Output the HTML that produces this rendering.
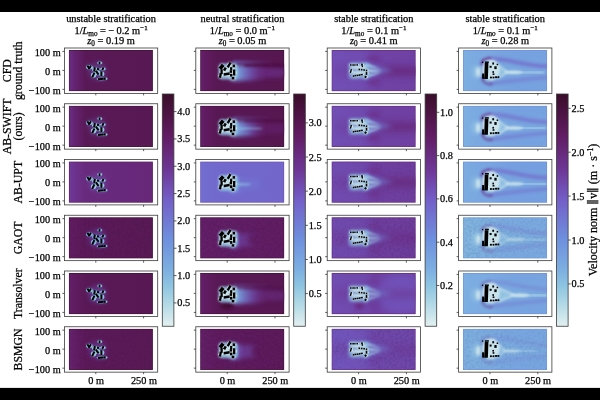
<!DOCTYPE html>
<html><head><meta charset="utf-8"><title>Velocity norm comparison</title>
<style>
html,body{margin:0;padding:0;background:#fff;width:600px;height:400px;overflow:hidden}
svg{display:block}
text{font-family:"Liberation Serif","DejaVu Serif",serif;fill:#000;stroke:#000;stroke-width:0.25px}
.t{font-size:10.4px}
.k{font-size:10.3px}
.r{font-size:11.8px}
</style></head><body>
<svg width="600" height="400" viewBox="0 0 600 400"><defs><linearGradient id="cbg" x1="0" y1="0" x2="0" y2="1"><stop offset="0.000" stop-color="#3a0e2a"/><stop offset="0.091" stop-color="#4e1446"/><stop offset="0.177" stop-color="#611c62"/><stop offset="0.327" stop-color="#6e3796"/><stop offset="0.456" stop-color="#735fc8"/><stop offset="0.629" stop-color="#6e91de"/><stop offset="0.758" stop-color="#7dafe1"/><stop offset="0.822" stop-color="#8cc3e1"/><stop offset="0.909" stop-color="#b4dae6"/><stop offset="1.000" stop-color="#e2f0f0"/></linearGradient><clipPath id="c00"><rect x="0" y="0" width="84.10" height="41.20"/></clipPath><linearGradient id="g1" x1="0" y1="0" x2="1" y2="0"><stop offset="0.000" stop-color="#6a2f86"/><stop offset="0.070" stop-color="#642370"/><stop offset="0.200" stop-color="#591956"/><stop offset="1.000" stop-color="#571853"/></linearGradient><filter id="b2_5" x="-200%" y="-200%" width="500%" height="500%"><feGaussianBlur stdDeviation="2.5"/></filter><filter id="b1_0" x="-200%" y="-200%" width="500%" height="500%"><feGaussianBlur stdDeviation="1.0"/></filter><filter id="b0_7" x="-200%" y="-200%" width="500%" height="500%"><feGaussianBlur stdDeviation="0.7"/></filter><clipPath id="c01"><rect x="0" y="0" width="84.10" height="41.20"/></clipPath><linearGradient id="g2" x1="0" y1="0" x2="1" y2="0"><stop offset="0.000" stop-color="#6a2f86"/><stop offset="0.070" stop-color="#642370"/><stop offset="0.200" stop-color="#591956"/><stop offset="1.000" stop-color="#571853"/></linearGradient><clipPath id="c02"><rect x="0" y="0" width="84.10" height="41.20"/></clipPath><linearGradient id="g3" x1="0" y1="0" x2="1" y2="0"><stop offset="0.000" stop-color="#6f3b9b"/><stop offset="0.070" stop-color="#6c328d"/><stop offset="0.200" stop-color="#682a7d"/><stop offset="1.000" stop-color="#67287a"/></linearGradient><clipPath id="c03"><rect x="0" y="0" width="84.10" height="41.20"/></clipPath><linearGradient id="g4" x1="0" y1="0" x2="1" y2="0"><stop offset="0.000" stop-color="#611d63"/><stop offset="0.070" stop-color="#5f1b5f"/><stop offset="0.200" stop-color="#5b1959"/><stop offset="1.000" stop-color="#591956"/></linearGradient><filter id="n4" x="0" y="0" width="100%" height="100%"><feTurbulence type="fractalNoise" baseFrequency="0.45" numOctaves="1" seed="4"/><feColorMatrix type="matrix" values="0 0 0 0 0  0 0 0 0 0  0 0 0 0 0  0 0 0 0.192 -0.072"/><feComposite in2="SourceGraphic" operator="in"/></filter><clipPath id="c04"><rect x="0" y="0" width="84.10" height="41.20"/></clipPath><linearGradient id="g5" x1="0" y1="0" x2="1" y2="0"><stop offset="0.000" stop-color="#63206a"/><stop offset="0.070" stop-color="#601c61"/><stop offset="0.200" stop-color="#591956"/><stop offset="1.000" stop-color="#571853"/></linearGradient><clipPath id="c05"><rect x="0" y="0" width="84.10" height="41.20"/></clipPath><linearGradient id="g6" x1="0" y1="0" x2="1" y2="0"><stop offset="0.000" stop-color="#652471"/><stop offset="0.070" stop-color="#621e66"/><stop offset="0.200" stop-color="#5b1959"/><stop offset="1.000" stop-color="#591956"/></linearGradient><filter id="n6" x="0" y="0" width="100%" height="100%"><feTurbulence type="fractalNoise" baseFrequency="0.45" numOctaves="1" seed="6"/><feColorMatrix type="matrix" values="0 0 0 0 0  0 0 0 0 0  0 0 0 0 0  0 0 0 0.144 -0.054"/><feComposite in2="SourceGraphic" operator="in"/></filter><clipPath id="c10"><rect x="0" y="0" width="84.10" height="41.20"/></clipPath><linearGradient id="g7" x1="0" y1="0" x2="1" y2="0"><stop offset="0.000" stop-color="#63206a"/><stop offset="0.070" stop-color="#601b60"/><stop offset="0.200" stop-color="#581854"/><stop offset="1.000" stop-color="#561751"/></linearGradient><filter id="b2_0" x="-200%" y="-200%" width="500%" height="500%"><feGaussianBlur stdDeviation="2.0"/></filter><linearGradient id="g8" x1="0" y1="0" x2="1" y2="0"><stop offset="0.000" stop-color="#99cae3" stop-opacity="1"/><stop offset="0.250" stop-color="#76a2e0" stop-opacity="0.9"/><stop offset="0.600" stop-color="#726cce" stop-opacity="0.5"/><stop offset="1.000" stop-color="#682b7f" stop-opacity="0"/></linearGradient><linearGradient id="g9" x1="0" y1="0" x2="1" y2="0"><stop offset="0.000" stop-color="#707ad4" stop-opacity="0.7"/><stop offset="1.000" stop-color="#631f68" stop-opacity="0"/></linearGradient><linearGradient id="g10" x1="0" y1="0" x2="1" y2="0"><stop offset="0.000" stop-color="#421035" stop-opacity="0.7"/><stop offset="1.000" stop-color="#46123b" stop-opacity="0.595"/></linearGradient><filter id="b0_8" x="-200%" y="-200%" width="500%" height="500%"><feGaussianBlur stdDeviation="0.8"/></filter><filter id="b1_2" x="-200%" y="-200%" width="500%" height="500%"><feGaussianBlur stdDeviation="1.2"/></filter><filter id="b1_5" x="-200%" y="-200%" width="500%" height="500%"><feGaussianBlur stdDeviation="1.5"/></filter><filter id="b0_6" x="-200%" y="-200%" width="500%" height="500%"><feGaussianBlur stdDeviation="0.6"/></filter><clipPath id="c11"><rect x="0" y="0" width="84.10" height="41.20"/></clipPath><linearGradient id="g11" x1="0" y1="0" x2="1" y2="0"><stop offset="0.000" stop-color="#63206a"/><stop offset="0.070" stop-color="#601b60"/><stop offset="0.200" stop-color="#581854"/><stop offset="1.000" stop-color="#561751"/></linearGradient><linearGradient id="g12" x1="0" y1="0" x2="1" y2="0"><stop offset="0.000" stop-color="#99cae3" stop-opacity="1"/><stop offset="0.250" stop-color="#76a2e0" stop-opacity="0.9"/><stop offset="0.600" stop-color="#726cce" stop-opacity="0.5"/><stop offset="1.000" stop-color="#652471" stop-opacity="0"/></linearGradient><linearGradient id="g13" x1="0" y1="0" x2="1" y2="0"><stop offset="0.000" stop-color="#707ad4" stop-opacity="0.4"/><stop offset="1.000" stop-color="#631f68" stop-opacity="0"/></linearGradient><linearGradient id="g14" x1="0" y1="0" x2="1" y2="0"><stop offset="0.000" stop-color="#421035" stop-opacity="0.4"/><stop offset="1.000" stop-color="#46123b" stop-opacity="0.34"/></linearGradient><filter id="b1_1" x="-200%" y="-200%" width="500%" height="500%"><feGaussianBlur stdDeviation="1.1"/></filter><clipPath id="c12"><rect x="0" y="0" width="84.10" height="41.20"/></clipPath><linearGradient id="g15" x1="0" y1="0" x2="1" y2="0"><stop offset="0.000" stop-color="#716fcf"/><stop offset="0.070" stop-color="#726cce"/><stop offset="0.200" stop-color="#7269cc"/><stop offset="1.000" stop-color="#7266cb"/></linearGradient><linearGradient id="g16" x1="0" y1="0" x2="1" y2="0"><stop offset="0.000" stop-color="#99cae3" stop-opacity="1"/><stop offset="0.250" stop-color="#76a2e0" stop-opacity="0.9"/><stop offset="0.600" stop-color="#726cce" stop-opacity="0.5"/><stop offset="1.000" stop-color="#707ad4" stop-opacity="0"/></linearGradient><clipPath id="c13"><rect x="0" y="0" width="84.10" height="41.20"/></clipPath><linearGradient id="g17" x1="0" y1="0" x2="1" y2="0"><stop offset="0.000" stop-color="#63206a"/><stop offset="0.070" stop-color="#631f68"/><stop offset="0.200" stop-color="#621e67"/><stop offset="1.000" stop-color="#611d63"/></linearGradient><filter id="n14" x="0" y="0" width="100%" height="100%"><feTurbulence type="fractalNoise" baseFrequency="0.45" numOctaves="1" seed="14"/><feColorMatrix type="matrix" values="0 0 0 0 0  0 0 0 0 0  0 0 0 0 0  0 0 0 0.24 -0.09"/><feComposite in2="SourceGraphic" operator="in"/></filter><linearGradient id="g18" x1="0" y1="0" x2="1" y2="0"><stop offset="0.000" stop-color="#99cae3" stop-opacity="1"/><stop offset="0.250" stop-color="#76a2e0" stop-opacity="0.9"/><stop offset="0.600" stop-color="#726cce" stop-opacity="0.5"/><stop offset="1.000" stop-color="#714eb2" stop-opacity="0"/></linearGradient><clipPath id="c14"><rect x="0" y="0" width="84.10" height="41.20"/></clipPath><linearGradient id="g19" x1="0" y1="0" x2="1" y2="0"><stop offset="0.000" stop-color="#63206a"/><stop offset="0.070" stop-color="#601c61"/><stop offset="0.200" stop-color="#591956"/><stop offset="1.000" stop-color="#571853"/></linearGradient><linearGradient id="g20" x1="0" y1="0" x2="1" y2="0"><stop offset="0.000" stop-color="#99cae3" stop-opacity="1"/><stop offset="0.250" stop-color="#76a2e0" stop-opacity="0.9"/><stop offset="0.600" stop-color="#726cce" stop-opacity="0.5"/><stop offset="1.000" stop-color="#67297b" stop-opacity="0"/></linearGradient><linearGradient id="g21" x1="0" y1="0" x2="1" y2="0"><stop offset="0.000" stop-color="#707ad4" stop-opacity="0.3"/><stop offset="1.000" stop-color="#63206a" stop-opacity="0"/></linearGradient><linearGradient id="g22" x1="0" y1="0" x2="1" y2="0"><stop offset="0.000" stop-color="#431136" stop-opacity="0.2"/><stop offset="1.000" stop-color="#47123c" stop-opacity="0.17"/></linearGradient><clipPath id="c15"><rect x="0" y="0" width="84.10" height="41.20"/></clipPath><linearGradient id="g23" x1="0" y1="0" x2="1" y2="0"><stop offset="0.000" stop-color="#63206a"/><stop offset="0.070" stop-color="#621e65"/><stop offset="0.200" stop-color="#5f1b60"/><stop offset="1.000" stop-color="#5d1a5c"/></linearGradient><filter id="n16" x="0" y="0" width="100%" height="100%"><feTurbulence type="fractalNoise" baseFrequency="0.45" numOctaves="1" seed="16"/><feColorMatrix type="matrix" values="0 0 0 0 0  0 0 0 0 0  0 0 0 0 0  0 0 0 0.24 -0.09"/><feComposite in2="SourceGraphic" operator="in"/></filter><linearGradient id="g24" x1="0" y1="0" x2="1" y2="0"><stop offset="0.000" stop-color="#99cae3" stop-opacity="1"/><stop offset="0.250" stop-color="#76a2e0" stop-opacity="0.9"/><stop offset="0.600" stop-color="#726cce" stop-opacity="0.5"/><stop offset="1.000" stop-color="#714eb2" stop-opacity="0"/></linearGradient><clipPath id="c20"><rect x="0" y="0" width="84.10" height="41.20"/></clipPath><linearGradient id="g25" x1="0" y1="0" x2="1" y2="0"><stop offset="0.000" stop-color="#714eb2"/><stop offset="0.070" stop-color="#7049ad"/><stop offset="0.200" stop-color="#7044a7"/><stop offset="1.000" stop-color="#6f41a3"/></linearGradient><filter id="b4_0" x="-200%" y="-200%" width="500%" height="500%"><feGaussianBlur stdDeviation="4.0"/></filter><filter id="b3_0" x="-200%" y="-200%" width="500%" height="500%"><feGaussianBlur stdDeviation="3.0"/></filter><clipPath id="c21"><rect x="0" y="0" width="84.10" height="41.20"/></clipPath><linearGradient id="g26" x1="0" y1="0" x2="1" y2="0"><stop offset="0.000" stop-color="#714eb2"/><stop offset="0.070" stop-color="#7049ac"/><stop offset="0.200" stop-color="#6f43a5"/><stop offset="1.000" stop-color="#6f40a1"/></linearGradient><clipPath id="c22"><rect x="0" y="0" width="84.10" height="41.20"/></clipPath><linearGradient id="g27" x1="0" y1="0" x2="1" y2="0"><stop offset="0.000" stop-color="#704bae"/><stop offset="0.070" stop-color="#7046a9"/><stop offset="0.200" stop-color="#6f41a3"/><stop offset="1.000" stop-color="#6f3e9f"/></linearGradient><filter id="n23" x="0" y="0" width="100%" height="100%"><feTurbulence type="fractalNoise" baseFrequency="0.45" numOctaves="1" seed="23"/><feColorMatrix type="matrix" values="0 0 0 0 0  0 0 0 0 0  0 0 0 0 0  0 0 0 0.12 -0.045"/><feComposite in2="SourceGraphic" operator="in"/></filter><clipPath id="c23"><rect x="0" y="0" width="84.10" height="41.20"/></clipPath><linearGradient id="g28" x1="0" y1="0" x2="1" y2="0"><stop offset="0.000" stop-color="#7047ab"/><stop offset="0.070" stop-color="#7044a6"/><stop offset="0.200" stop-color="#6f40a1"/><stop offset="1.000" stop-color="#6f3d9d"/></linearGradient><filter id="n24" x="0" y="0" width="100%" height="100%"><feTurbulence type="fractalNoise" baseFrequency="0.45" numOctaves="1" seed="24"/><feColorMatrix type="matrix" values="0 0 0 0 0  0 0 0 0 0  0 0 0 0 0  0 0 0 0.24 -0.09"/><feComposite in2="SourceGraphic" operator="in"/></filter><clipPath id="c24"><rect x="0" y="0" width="84.10" height="41.20"/></clipPath><linearGradient id="g29" x1="0" y1="0" x2="1" y2="0"><stop offset="0.000" stop-color="#704bae"/><stop offset="0.070" stop-color="#7046a9"/><stop offset="0.200" stop-color="#6f41a3"/><stop offset="1.000" stop-color="#6f3e9f"/></linearGradient><filter id="b5_0" x="-200%" y="-200%" width="500%" height="500%"><feGaussianBlur stdDeviation="5.0"/></filter><clipPath id="c25"><rect x="0" y="0" width="84.10" height="41.20"/></clipPath><linearGradient id="g30" x1="0" y1="0" x2="1" y2="0"><stop offset="0.000" stop-color="#7151b6"/><stop offset="0.070" stop-color="#714eb3"/><stop offset="0.200" stop-color="#704bae"/><stop offset="1.000" stop-color="#7047ab"/></linearGradient><filter id="n26" x="0" y="0" width="100%" height="100%"><feTurbulence type="fractalNoise" baseFrequency="0.45" numOctaves="1" seed="26"/><feColorMatrix type="matrix" values="0 0 0 0 0  0 0 0 0 0  0 0 0 0 0  0 0 0 0.288 -0.108"/><feComposite in2="SourceGraphic" operator="in"/></filter><clipPath id="c30"><rect x="0" y="0" width="84.10" height="41.20"/></clipPath><linearGradient id="g31" x1="0" y1="0" x2="1" y2="0"><stop offset="0.000" stop-color="#7db0e1"/><stop offset="0.070" stop-color="#7cace1"/><stop offset="0.200" stop-color="#7aa8e0"/><stop offset="1.000" stop-color="#79a6e0"/></linearGradient><filter id="b1_8" x="-200%" y="-200%" width="500%" height="500%"><feGaussianBlur stdDeviation="1.8"/></filter><filter id="b0_9" x="-200%" y="-200%" width="500%" height="500%"><feGaussianBlur stdDeviation="0.9"/></filter><filter id="b1_4" x="-200%" y="-200%" width="500%" height="500%"><feGaussianBlur stdDeviation="1.4"/></filter><filter id="b1_3" x="-200%" y="-200%" width="500%" height="500%"><feGaussianBlur stdDeviation="1.3"/></filter><clipPath id="c31"><rect x="0" y="0" width="84.10" height="41.20"/></clipPath><linearGradient id="g32" x1="0" y1="0" x2="1" y2="0"><stop offset="0.000" stop-color="#7db0e1"/><stop offset="0.070" stop-color="#7cace1"/><stop offset="0.200" stop-color="#7aa8e0"/><stop offset="1.000" stop-color="#79a6e0"/></linearGradient><clipPath id="c32"><rect x="0" y="0" width="84.10" height="41.20"/></clipPath><linearGradient id="g33" x1="0" y1="0" x2="1" y2="0"><stop offset="0.000" stop-color="#7cade1"/><stop offset="0.070" stop-color="#7aaae0"/><stop offset="0.200" stop-color="#79a6e0"/><stop offset="1.000" stop-color="#77a4e0"/></linearGradient><clipPath id="c33"><rect x="0" y="0" width="84.10" height="41.20"/></clipPath><linearGradient id="g34" x1="0" y1="0" x2="1" y2="0"><stop offset="0.000" stop-color="#82b6e1"/><stop offset="0.070" stop-color="#81b4e1"/><stop offset="0.200" stop-color="#7fb1e1"/><stop offset="1.000" stop-color="#7daee1"/></linearGradient><filter id="n34" x="0" y="0" width="100%" height="100%"><feTurbulence type="fractalNoise" baseFrequency="0.45" numOctaves="1" seed="34"/><feColorMatrix type="matrix" values="0 0 0 0 0  0 0 0 0 0  0 0 0 0 0  0 0 0 0.24 -0.09"/><feComposite in2="SourceGraphic" operator="in"/></filter><clipPath id="c34"><rect x="0" y="0" width="84.10" height="41.20"/></clipPath><linearGradient id="g35" x1="0" y1="0" x2="1" y2="0"><stop offset="0.000" stop-color="#7db0e1"/><stop offset="0.070" stop-color="#7cade1"/><stop offset="0.200" stop-color="#7babe1"/><stop offset="1.000" stop-color="#7aa8e0"/></linearGradient><clipPath id="c35"><rect x="0" y="0" width="84.10" height="41.20"/></clipPath><linearGradient id="g36" x1="0" y1="0" x2="1" y2="0"><stop offset="0.000" stop-color="#7db0e1"/><stop offset="0.070" stop-color="#7daee1"/><stop offset="0.200" stop-color="#7cade1"/><stop offset="1.000" stop-color="#7babe1"/></linearGradient><filter id="n36" x="0" y="0" width="100%" height="100%"><feTurbulence type="fractalNoise" baseFrequency="0.45" numOctaves="1" seed="36"/><feColorMatrix type="matrix" values="0 0 0 0 0  0 0 0 0 0  0 0 0 0 0  0 0 0 0.192 -0.072"/><feComposite in2="SourceGraphic" operator="in"/></filter></defs><rect x="0" y="0" width="600" height="400" fill="#fff"/><rect x="0" y="0" width="600" height="12" fill="#000"/><rect x="0" y="387.9" width="600" height="12.1" fill="#000"/><text x="111.05" y="21.7" class="t" text-anchor="middle">unstable stratification</text>
<text x="111.05" y="33.6" class="t" text-anchor="middle">1/<tspan font-style="italic">L</tspan><tspan font-size="7.2" dy="2.0">mo</tspan><tspan dy="-2.0"> = − 0.2 m</tspan><tspan font-size="7" dy="-3.8">−1</tspan></text>
<text x="111.05" y="44.2" class="t" text-anchor="middle"><tspan font-style="italic">z</tspan><tspan font-size="7.2" dy="1.8">0</tspan><tspan dy="-1.8"> = 0.19 m</tspan></text>
<text x="242.45" y="21.7" class="t" text-anchor="middle">neutral stratification</text>
<text x="242.45" y="33.6" class="t" text-anchor="middle">1/<tspan font-style="italic">L</tspan><tspan font-size="7.2" dy="2.0">mo</tspan><tspan dy="-2.0"> = 0.0 m</tspan><tspan font-size="7" dy="-3.8">−1</tspan></text>
<text x="242.45" y="44.2" class="t" text-anchor="middle"><tspan font-style="italic">z</tspan><tspan font-size="7.2" dy="1.8">0</tspan><tspan dy="-1.8"> = 0.05 m</tspan></text>
<text x="373.85" y="21.7" class="t" text-anchor="middle">stable stratification</text>
<text x="373.85" y="33.6" class="t" text-anchor="middle">1/<tspan font-style="italic">L</tspan><tspan font-size="7.2" dy="2.0">mo</tspan><tspan dy="-2.0"> = 0.1 m</tspan><tspan font-size="7" dy="-3.8">−1</tspan></text>
<text x="373.85" y="44.2" class="t" text-anchor="middle"><tspan font-style="italic">z</tspan><tspan font-size="7.2" dy="1.8">0</tspan><tspan dy="-1.8"> = 0.41 m</tspan></text>
<text x="505.25" y="21.7" class="t" text-anchor="middle">stable stratification</text>
<text x="505.25" y="33.6" class="t" text-anchor="middle">1/<tspan font-style="italic">L</tspan><tspan font-size="7.2" dy="2.0">mo</tspan><tspan dy="-2.0"> = 0.1 m</tspan><tspan font-size="7" dy="-3.8">−1</tspan></text>
<text x="505.25" y="44.2" class="t" text-anchor="middle"><tspan font-style="italic">z</tspan><tspan font-size="7.2" dy="1.8">0</tspan><tspan dy="-1.8"> = 0.28 m</tspan></text>
<g transform="translate(68.80 50.00)" clip-path="url(#c00)">
<rect x="0" y="0" width="84.10" height="41.20" fill="url(#g1)"/>
<ellipse cx="28.50" cy="21.00" rx="9.00" ry="9.00" fill="#726cce" filter="url(#b2_5)" opacity="0.27"/>
<rect x="29.15" y="11.10" width="3.10" height="4.00" fill="#6f89da" filter="url(#b1_0)" opacity="0.35"/>
<rect x="18.00" y="14.60" width="3.20" height="5.20" fill="#6f89da" transform="rotate(-30 19.60 17.20)" filter="url(#b1_0)" opacity="0.35"/>
<rect x="19.60" y="14.70" width="3.20" height="5.00" fill="#6f89da" transform="rotate(30 21.20 17.20)" filter="url(#b1_0)" opacity="0.35"/>
<rect x="24.05" y="16.65" width="3.30" height="5.50" fill="#6f89da" transform="rotate(10 25.70 19.40)" filter="url(#b1_0)" opacity="0.35"/>
<rect x="27.50" y="17.45" width="3.60" height="3.30" fill="#6f89da" filter="url(#b1_0)" opacity="0.35"/>
<rect x="32.45" y="16.65" width="3.30" height="4.30" fill="#6f89da" transform="rotate(25 34.10 18.80)" filter="url(#b1_0)" opacity="0.35"/>
<rect x="26.75" y="19.70" width="3.30" height="6.00" fill="#6f89da" transform="rotate(-35 28.40 22.70)" filter="url(#b1_0)" opacity="0.35"/>
<rect x="30.95" y="20.90" width="3.30" height="6.00" fill="#6f89da" filter="url(#b1_0)" opacity="0.35"/>
<rect x="22.85" y="22.00" width="3.30" height="6.20" fill="#6f89da" transform="rotate(25 24.50 25.10)" filter="url(#b1_0)" opacity="0.35"/>
<rect x="28.50" y="27.30" width="7.00" height="3.40" fill="#6f89da" transform="rotate(-5 32.00 29.00)" filter="url(#b1_0)" opacity="0.35"/>
<rect x="34.25" y="26.90" width="3.30" height="3.60" fill="#6f89da" filter="url(#b1_0)" opacity="0.35"/>
<ellipse cx="31.00" cy="13.10" rx="2.55" ry="1.48" fill="#94c8e2" filter="url(#b0_7)" opacity="1"/>
<ellipse cx="19.90" cy="17.20" rx="2.60" ry="2.08" fill="#94c8e2" filter="url(#b0_7)" opacity="1"/>
<ellipse cx="21.50" cy="17.20" rx="2.60" ry="1.98" fill="#94c8e2" filter="url(#b0_7)" opacity="1"/>
<ellipse cx="26.00" cy="19.40" rx="2.65" ry="2.23" fill="#94c8e2" filter="url(#b0_7)" opacity="1"/>
<ellipse cx="29.60" cy="19.10" rx="2.80" ry="1.13" fill="#94c8e2" filter="url(#b0_7)" opacity="1"/>
<ellipse cx="34.40" cy="18.80" rx="2.65" ry="1.63" fill="#94c8e2" filter="url(#b0_7)" opacity="1"/>
<ellipse cx="28.70" cy="22.70" rx="2.65" ry="2.48" fill="#94c8e2" filter="url(#b0_7)" opacity="1"/>
<ellipse cx="32.90" cy="23.90" rx="2.65" ry="2.48" fill="#94c8e2" filter="url(#b0_7)" opacity="1"/>
<ellipse cx="24.80" cy="25.10" rx="2.65" ry="2.58" fill="#94c8e2" filter="url(#b0_7)" opacity="1"/>
<ellipse cx="32.30" cy="29.00" rx="4.50" ry="1.18" fill="#94c8e2" filter="url(#b0_7)" opacity="1"/>
<ellipse cx="36.20" cy="28.70" rx="2.65" ry="1.28" fill="#94c8e2" filter="url(#b0_7)" opacity="1"/>
<rect x="29.80" y="11.73" width="1.80" height="2.74" fill="#000"/>
<rect x="18.65" y="15.20" width="1.90" height="4.00" fill="#000" transform="rotate(-30 19.60 17.20)"/>
<rect x="20.25" y="15.30" width="1.90" height="3.79" fill="#000" transform="rotate(30 21.20 17.20)"/>
<rect x="24.70" y="17.24" width="2.01" height="4.32" fill="#000" transform="rotate(10 25.70 19.40)"/>
<rect x="28.14" y="18.10" width="2.32" height="2.01" fill="#000"/>
<rect x="33.10" y="17.27" width="2.01" height="3.06" fill="#000" transform="rotate(25 34.10 18.80)"/>
<rect x="27.40" y="20.28" width="2.01" height="4.84" fill="#000" transform="rotate(-35 28.40 22.70)"/>
<rect x="31.60" y="21.48" width="2.01" height="4.84" fill="#000"/>
<rect x="23.50" y="22.58" width="2.01" height="5.05" fill="#000" transform="rotate(25 24.50 25.10)"/>
<rect x="29.05" y="27.95" width="5.89" height="2.11" fill="#000" transform="rotate(-5 32.00 29.00)"/>
<rect x="34.90" y="27.54" width="2.01" height="2.32" fill="#000"/>
<rect x="0.4" y="0.4" width="83.30" height="40.40" fill="none" stroke="#3e0f30" stroke-width="0.8" opacity="0.7"/>
</g>
<rect x="64.40" y="48.00" width="93.30" height="45.40" fill="none" stroke="#3a3a3a" stroke-width="0.8"/>
<line x1="62.40" y1="51.40" x2="64.40" y2="51.40" stroke="#333" stroke-width="0.8"/>
<line x1="62.40" y1="70.40" x2="64.40" y2="70.40" stroke="#333" stroke-width="0.8"/>
<line x1="62.40" y1="89.40" x2="64.40" y2="89.40" stroke="#333" stroke-width="0.8"/>
<line x1="95.80" y1="93.40" x2="95.80" y2="95.40" stroke="#333" stroke-width="0.8"/>
<line x1="143.60" y1="93.40" x2="143.60" y2="95.40" stroke="#333" stroke-width="0.8"/>
<text x="60.70" y="55.90" class="k" text-anchor="end">100 m</text>
<text x="60.70" y="74.90" class="k" text-anchor="end">0 m</text>
<text x="60.70" y="93.90" class="k" text-anchor="end">−100 m</text>
<g transform="translate(68.80 105.75)" clip-path="url(#c01)">
<rect x="0" y="0" width="84.10" height="41.20" fill="url(#g2)"/>
<ellipse cx="28.50" cy="21.00" rx="9.00" ry="9.00" fill="#726cce" filter="url(#b2_5)" opacity="0.27"/>
<rect x="29.15" y="11.10" width="3.10" height="4.00" fill="#6f89da" filter="url(#b1_0)" opacity="0.35"/>
<rect x="18.00" y="14.60" width="3.20" height="5.20" fill="#6f89da" transform="rotate(-30 19.60 17.20)" filter="url(#b1_0)" opacity="0.35"/>
<rect x="19.60" y="14.70" width="3.20" height="5.00" fill="#6f89da" transform="rotate(30 21.20 17.20)" filter="url(#b1_0)" opacity="0.35"/>
<rect x="24.05" y="16.65" width="3.30" height="5.50" fill="#6f89da" transform="rotate(10 25.70 19.40)" filter="url(#b1_0)" opacity="0.35"/>
<rect x="27.50" y="17.45" width="3.60" height="3.30" fill="#6f89da" filter="url(#b1_0)" opacity="0.35"/>
<rect x="32.45" y="16.65" width="3.30" height="4.30" fill="#6f89da" transform="rotate(25 34.10 18.80)" filter="url(#b1_0)" opacity="0.35"/>
<rect x="26.75" y="19.70" width="3.30" height="6.00" fill="#6f89da" transform="rotate(-35 28.40 22.70)" filter="url(#b1_0)" opacity="0.35"/>
<rect x="30.95" y="20.90" width="3.30" height="6.00" fill="#6f89da" filter="url(#b1_0)" opacity="0.35"/>
<rect x="22.85" y="22.00" width="3.30" height="6.20" fill="#6f89da" transform="rotate(25 24.50 25.10)" filter="url(#b1_0)" opacity="0.35"/>
<rect x="28.50" y="27.30" width="7.00" height="3.40" fill="#6f89da" transform="rotate(-5 32.00 29.00)" filter="url(#b1_0)" opacity="0.35"/>
<rect x="34.25" y="26.90" width="3.30" height="3.60" fill="#6f89da" filter="url(#b1_0)" opacity="0.35"/>
<ellipse cx="31.00" cy="13.10" rx="2.55" ry="1.48" fill="#94c8e2" filter="url(#b0_7)" opacity="1"/>
<ellipse cx="19.90" cy="17.20" rx="2.60" ry="2.08" fill="#94c8e2" filter="url(#b0_7)" opacity="1"/>
<ellipse cx="21.50" cy="17.20" rx="2.60" ry="1.98" fill="#94c8e2" filter="url(#b0_7)" opacity="1"/>
<ellipse cx="26.00" cy="19.40" rx="2.65" ry="2.23" fill="#94c8e2" filter="url(#b0_7)" opacity="1"/>
<ellipse cx="29.60" cy="19.10" rx="2.80" ry="1.13" fill="#94c8e2" filter="url(#b0_7)" opacity="1"/>
<ellipse cx="34.40" cy="18.80" rx="2.65" ry="1.63" fill="#94c8e2" filter="url(#b0_7)" opacity="1"/>
<ellipse cx="28.70" cy="22.70" rx="2.65" ry="2.48" fill="#94c8e2" filter="url(#b0_7)" opacity="1"/>
<ellipse cx="32.90" cy="23.90" rx="2.65" ry="2.48" fill="#94c8e2" filter="url(#b0_7)" opacity="1"/>
<ellipse cx="24.80" cy="25.10" rx="2.65" ry="2.58" fill="#94c8e2" filter="url(#b0_7)" opacity="1"/>
<ellipse cx="32.30" cy="29.00" rx="4.50" ry="1.18" fill="#94c8e2" filter="url(#b0_7)" opacity="1"/>
<ellipse cx="36.20" cy="28.70" rx="2.65" ry="1.28" fill="#94c8e2" filter="url(#b0_7)" opacity="1"/>
<rect x="29.80" y="11.73" width="1.80" height="2.74" fill="#000"/>
<rect x="18.65" y="15.20" width="1.90" height="4.00" fill="#000" transform="rotate(-30 19.60 17.20)"/>
<rect x="20.25" y="15.30" width="1.90" height="3.79" fill="#000" transform="rotate(30 21.20 17.20)"/>
<rect x="24.70" y="17.24" width="2.01" height="4.32" fill="#000" transform="rotate(10 25.70 19.40)"/>
<rect x="28.14" y="18.10" width="2.32" height="2.01" fill="#000"/>
<rect x="33.10" y="17.27" width="2.01" height="3.06" fill="#000" transform="rotate(25 34.10 18.80)"/>
<rect x="27.40" y="20.28" width="2.01" height="4.84" fill="#000" transform="rotate(-35 28.40 22.70)"/>
<rect x="31.60" y="21.48" width="2.01" height="4.84" fill="#000"/>
<rect x="23.50" y="22.58" width="2.01" height="5.05" fill="#000" transform="rotate(25 24.50 25.10)"/>
<rect x="29.05" y="27.95" width="5.89" height="2.11" fill="#000" transform="rotate(-5 32.00 29.00)"/>
<rect x="34.90" y="27.54" width="2.01" height="2.32" fill="#000"/>
<rect x="0.4" y="0.4" width="83.30" height="40.40" fill="none" stroke="#3e0f30" stroke-width="0.8" opacity="0.7"/>
</g>
<rect x="64.40" y="103.75" width="93.30" height="45.40" fill="none" stroke="#3a3a3a" stroke-width="0.8"/>
<line x1="62.40" y1="107.15" x2="64.40" y2="107.15" stroke="#333" stroke-width="0.8"/>
<line x1="62.40" y1="126.15" x2="64.40" y2="126.15" stroke="#333" stroke-width="0.8"/>
<line x1="62.40" y1="145.15" x2="64.40" y2="145.15" stroke="#333" stroke-width="0.8"/>
<line x1="95.80" y1="149.15" x2="95.80" y2="151.15" stroke="#333" stroke-width="0.8"/>
<line x1="143.60" y1="149.15" x2="143.60" y2="151.15" stroke="#333" stroke-width="0.8"/>
<text x="60.70" y="111.65" class="k" text-anchor="end">100 m</text>
<text x="60.70" y="130.65" class="k" text-anchor="end">0 m</text>
<text x="60.70" y="149.65" class="k" text-anchor="end">−100 m</text>
<g transform="translate(68.80 161.50)" clip-path="url(#c02)">
<rect x="0" y="0" width="84.10" height="41.20" fill="url(#g3)"/>
<ellipse cx="28.50" cy="21.00" rx="9.00" ry="9.00" fill="#726cce" filter="url(#b2_5)" opacity="0.27"/>
<rect x="29.15" y="11.10" width="3.10" height="4.00" fill="#6f89da" filter="url(#b1_0)" opacity="0.35"/>
<rect x="18.00" y="14.60" width="3.20" height="5.20" fill="#6f89da" transform="rotate(-30 19.60 17.20)" filter="url(#b1_0)" opacity="0.35"/>
<rect x="19.60" y="14.70" width="3.20" height="5.00" fill="#6f89da" transform="rotate(30 21.20 17.20)" filter="url(#b1_0)" opacity="0.35"/>
<rect x="24.05" y="16.65" width="3.30" height="5.50" fill="#6f89da" transform="rotate(10 25.70 19.40)" filter="url(#b1_0)" opacity="0.35"/>
<rect x="27.50" y="17.45" width="3.60" height="3.30" fill="#6f89da" filter="url(#b1_0)" opacity="0.35"/>
<rect x="32.45" y="16.65" width="3.30" height="4.30" fill="#6f89da" transform="rotate(25 34.10 18.80)" filter="url(#b1_0)" opacity="0.35"/>
<rect x="26.75" y="19.70" width="3.30" height="6.00" fill="#6f89da" transform="rotate(-35 28.40 22.70)" filter="url(#b1_0)" opacity="0.35"/>
<rect x="30.95" y="20.90" width="3.30" height="6.00" fill="#6f89da" filter="url(#b1_0)" opacity="0.35"/>
<rect x="22.85" y="22.00" width="3.30" height="6.20" fill="#6f89da" transform="rotate(25 24.50 25.10)" filter="url(#b1_0)" opacity="0.35"/>
<rect x="28.50" y="27.30" width="7.00" height="3.40" fill="#6f89da" transform="rotate(-5 32.00 29.00)" filter="url(#b1_0)" opacity="0.35"/>
<rect x="34.25" y="26.90" width="3.30" height="3.60" fill="#6f89da" filter="url(#b1_0)" opacity="0.35"/>
<ellipse cx="31.00" cy="13.10" rx="2.55" ry="1.48" fill="#94c8e2" filter="url(#b0_7)" opacity="1"/>
<ellipse cx="19.90" cy="17.20" rx="2.60" ry="2.08" fill="#94c8e2" filter="url(#b0_7)" opacity="1"/>
<ellipse cx="21.50" cy="17.20" rx="2.60" ry="1.98" fill="#94c8e2" filter="url(#b0_7)" opacity="1"/>
<ellipse cx="26.00" cy="19.40" rx="2.65" ry="2.23" fill="#94c8e2" filter="url(#b0_7)" opacity="1"/>
<ellipse cx="29.60" cy="19.10" rx="2.80" ry="1.13" fill="#94c8e2" filter="url(#b0_7)" opacity="1"/>
<ellipse cx="34.40" cy="18.80" rx="2.65" ry="1.63" fill="#94c8e2" filter="url(#b0_7)" opacity="1"/>
<ellipse cx="28.70" cy="22.70" rx="2.65" ry="2.48" fill="#94c8e2" filter="url(#b0_7)" opacity="1"/>
<ellipse cx="32.90" cy="23.90" rx="2.65" ry="2.48" fill="#94c8e2" filter="url(#b0_7)" opacity="1"/>
<ellipse cx="24.80" cy="25.10" rx="2.65" ry="2.58" fill="#94c8e2" filter="url(#b0_7)" opacity="1"/>
<ellipse cx="32.30" cy="29.00" rx="4.50" ry="1.18" fill="#94c8e2" filter="url(#b0_7)" opacity="1"/>
<ellipse cx="36.20" cy="28.70" rx="2.65" ry="1.28" fill="#94c8e2" filter="url(#b0_7)" opacity="1"/>
<rect x="29.80" y="11.73" width="1.80" height="2.74" fill="#000"/>
<rect x="18.65" y="15.20" width="1.90" height="4.00" fill="#000" transform="rotate(-30 19.60 17.20)"/>
<rect x="20.25" y="15.30" width="1.90" height="3.79" fill="#000" transform="rotate(30 21.20 17.20)"/>
<rect x="24.70" y="17.24" width="2.01" height="4.32" fill="#000" transform="rotate(10 25.70 19.40)"/>
<rect x="28.14" y="18.10" width="2.32" height="2.01" fill="#000"/>
<rect x="33.10" y="17.27" width="2.01" height="3.06" fill="#000" transform="rotate(25 34.10 18.80)"/>
<rect x="27.40" y="20.28" width="2.01" height="4.84" fill="#000" transform="rotate(-35 28.40 22.70)"/>
<rect x="31.60" y="21.48" width="2.01" height="4.84" fill="#000"/>
<rect x="23.50" y="22.58" width="2.01" height="5.05" fill="#000" transform="rotate(25 24.50 25.10)"/>
<rect x="29.05" y="27.95" width="5.89" height="2.11" fill="#000" transform="rotate(-5 32.00 29.00)"/>
<rect x="34.90" y="27.54" width="2.01" height="2.32" fill="#000"/>
<rect x="0.4" y="0.4" width="83.30" height="40.40" fill="none" stroke="#581854" stroke-width="0.8" opacity="0.7"/>
</g>
<rect x="64.40" y="159.50" width="93.30" height="45.40" fill="none" stroke="#3a3a3a" stroke-width="0.8"/>
<line x1="62.40" y1="162.90" x2="64.40" y2="162.90" stroke="#333" stroke-width="0.8"/>
<line x1="62.40" y1="181.90" x2="64.40" y2="181.90" stroke="#333" stroke-width="0.8"/>
<line x1="62.40" y1="200.90" x2="64.40" y2="200.90" stroke="#333" stroke-width="0.8"/>
<line x1="95.80" y1="204.90" x2="95.80" y2="206.90" stroke="#333" stroke-width="0.8"/>
<line x1="143.60" y1="204.90" x2="143.60" y2="206.90" stroke="#333" stroke-width="0.8"/>
<text x="60.70" y="167.40" class="k" text-anchor="end">100 m</text>
<text x="60.70" y="186.40" class="k" text-anchor="end">0 m</text>
<text x="60.70" y="205.40" class="k" text-anchor="end">−100 m</text>
<g transform="translate(68.80 217.25)" clip-path="url(#c03)">
<rect x="0" y="0" width="84.10" height="41.20" fill="url(#g4)"/>
<rect x="0" y="0" width="84.10" height="41.20" fill="#000" filter="url(#n4)"/>
<ellipse cx="28.50" cy="21.00" rx="9.00" ry="9.00" fill="#735dc6" filter="url(#b2_5)" opacity="0.36"/>
<rect x="29.15" y="11.10" width="3.10" height="4.00" fill="#707ad4" filter="url(#b1_0)" opacity="0.35"/>
<rect x="18.00" y="14.60" width="3.20" height="5.20" fill="#707ad4" transform="rotate(-30 19.60 17.20)" filter="url(#b1_0)" opacity="0.35"/>
<rect x="19.60" y="14.70" width="3.20" height="5.00" fill="#707ad4" transform="rotate(30 21.20 17.20)" filter="url(#b1_0)" opacity="0.35"/>
<rect x="24.05" y="16.65" width="3.30" height="5.50" fill="#707ad4" transform="rotate(10 25.70 19.40)" filter="url(#b1_0)" opacity="0.35"/>
<rect x="27.50" y="17.45" width="3.60" height="3.30" fill="#707ad4" filter="url(#b1_0)" opacity="0.35"/>
<rect x="32.45" y="16.65" width="3.30" height="4.30" fill="#707ad4" transform="rotate(25 34.10 18.80)" filter="url(#b1_0)" opacity="0.35"/>
<rect x="26.75" y="19.70" width="3.30" height="6.00" fill="#707ad4" transform="rotate(-35 28.40 22.70)" filter="url(#b1_0)" opacity="0.35"/>
<rect x="30.95" y="20.90" width="3.30" height="6.00" fill="#707ad4" filter="url(#b1_0)" opacity="0.35"/>
<rect x="22.85" y="22.00" width="3.30" height="6.20" fill="#707ad4" transform="rotate(25 24.50 25.10)" filter="url(#b1_0)" opacity="0.35"/>
<rect x="28.50" y="27.30" width="7.00" height="3.40" fill="#707ad4" transform="rotate(-5 32.00 29.00)" filter="url(#b1_0)" opacity="0.35"/>
<rect x="34.25" y="26.90" width="3.30" height="3.60" fill="#707ad4" filter="url(#b1_0)" opacity="0.35"/>
<ellipse cx="31.00" cy="13.10" rx="2.55" ry="1.48" fill="#80b3e1" filter="url(#b0_7)" opacity="1"/>
<ellipse cx="19.90" cy="17.20" rx="2.60" ry="2.08" fill="#80b3e1" filter="url(#b0_7)" opacity="1"/>
<ellipse cx="21.50" cy="17.20" rx="2.60" ry="1.98" fill="#80b3e1" filter="url(#b0_7)" opacity="1"/>
<ellipse cx="26.00" cy="19.40" rx="2.65" ry="2.23" fill="#80b3e1" filter="url(#b0_7)" opacity="1"/>
<ellipse cx="29.60" cy="19.10" rx="2.80" ry="1.13" fill="#80b3e1" filter="url(#b0_7)" opacity="1"/>
<ellipse cx="34.40" cy="18.80" rx="2.65" ry="1.63" fill="#80b3e1" filter="url(#b0_7)" opacity="1"/>
<ellipse cx="28.70" cy="22.70" rx="2.65" ry="2.48" fill="#80b3e1" filter="url(#b0_7)" opacity="1"/>
<ellipse cx="32.90" cy="23.90" rx="2.65" ry="2.48" fill="#80b3e1" filter="url(#b0_7)" opacity="1"/>
<ellipse cx="24.80" cy="25.10" rx="2.65" ry="2.58" fill="#80b3e1" filter="url(#b0_7)" opacity="1"/>
<ellipse cx="32.30" cy="29.00" rx="4.50" ry="1.18" fill="#80b3e1" filter="url(#b0_7)" opacity="1"/>
<ellipse cx="36.20" cy="28.70" rx="2.65" ry="1.28" fill="#80b3e1" filter="url(#b0_7)" opacity="1"/>
<rect x="29.80" y="11.73" width="1.80" height="2.74" fill="#000"/>
<rect x="18.65" y="15.20" width="1.90" height="4.00" fill="#000" transform="rotate(-30 19.60 17.20)"/>
<rect x="20.25" y="15.30" width="1.90" height="3.79" fill="#000" transform="rotate(30 21.20 17.20)"/>
<rect x="24.70" y="17.24" width="2.01" height="4.32" fill="#000" transform="rotate(10 25.70 19.40)"/>
<rect x="28.14" y="18.10" width="2.32" height="2.01" fill="#000"/>
<rect x="33.10" y="17.27" width="2.01" height="3.06" fill="#000" transform="rotate(25 34.10 18.80)"/>
<rect x="27.40" y="20.28" width="2.01" height="4.84" fill="#000" transform="rotate(-35 28.40 22.70)"/>
<rect x="31.60" y="21.48" width="2.01" height="4.84" fill="#000"/>
<rect x="23.50" y="22.58" width="2.01" height="5.05" fill="#000" transform="rotate(25 24.50 25.10)"/>
<rect x="29.05" y="27.95" width="5.89" height="2.11" fill="#000" transform="rotate(-5 32.00 29.00)"/>
<rect x="34.90" y="27.54" width="2.01" height="2.32" fill="#000"/>
<rect x="0.4" y="0.4" width="83.30" height="40.40" fill="none" stroke="#411033" stroke-width="0.8" opacity="0.7"/>
</g>
<rect x="64.40" y="215.25" width="93.30" height="45.40" fill="none" stroke="#3a3a3a" stroke-width="0.8"/>
<line x1="62.40" y1="218.65" x2="64.40" y2="218.65" stroke="#333" stroke-width="0.8"/>
<line x1="62.40" y1="237.65" x2="64.40" y2="237.65" stroke="#333" stroke-width="0.8"/>
<line x1="62.40" y1="256.65" x2="64.40" y2="256.65" stroke="#333" stroke-width="0.8"/>
<line x1="95.80" y1="260.65" x2="95.80" y2="262.65" stroke="#333" stroke-width="0.8"/>
<line x1="143.60" y1="260.65" x2="143.60" y2="262.65" stroke="#333" stroke-width="0.8"/>
<text x="60.70" y="223.15" class="k" text-anchor="end">100 m</text>
<text x="60.70" y="242.15" class="k" text-anchor="end">0 m</text>
<text x="60.70" y="261.15" class="k" text-anchor="end">−100 m</text>
<g transform="translate(68.80 273.00)" clip-path="url(#c04)">
<rect x="0" y="0" width="84.10" height="41.20" fill="url(#g5)"/>
<ellipse cx="28.50" cy="21.00" rx="9.00" ry="9.00" fill="#714eb2" filter="url(#b2_5)" opacity="0.45"/>
<rect x="29.15" y="11.10" width="3.10" height="4.00" fill="#6f89da" filter="url(#b1_0)" opacity="0.35"/>
<rect x="18.00" y="14.60" width="3.20" height="5.20" fill="#6f89da" transform="rotate(-30 19.60 17.20)" filter="url(#b1_0)" opacity="0.35"/>
<rect x="19.60" y="14.70" width="3.20" height="5.00" fill="#6f89da" transform="rotate(30 21.20 17.20)" filter="url(#b1_0)" opacity="0.35"/>
<rect x="24.05" y="16.65" width="3.30" height="5.50" fill="#6f89da" transform="rotate(10 25.70 19.40)" filter="url(#b1_0)" opacity="0.35"/>
<rect x="27.50" y="17.45" width="3.60" height="3.30" fill="#6f89da" filter="url(#b1_0)" opacity="0.35"/>
<rect x="32.45" y="16.65" width="3.30" height="4.30" fill="#6f89da" transform="rotate(25 34.10 18.80)" filter="url(#b1_0)" opacity="0.35"/>
<rect x="26.75" y="19.70" width="3.30" height="6.00" fill="#6f89da" transform="rotate(-35 28.40 22.70)" filter="url(#b1_0)" opacity="0.35"/>
<rect x="30.95" y="20.90" width="3.30" height="6.00" fill="#6f89da" filter="url(#b1_0)" opacity="0.35"/>
<rect x="22.85" y="22.00" width="3.30" height="6.20" fill="#6f89da" transform="rotate(25 24.50 25.10)" filter="url(#b1_0)" opacity="0.35"/>
<rect x="28.50" y="27.30" width="7.00" height="3.40" fill="#6f89da" transform="rotate(-5 32.00 29.00)" filter="url(#b1_0)" opacity="0.35"/>
<rect x="34.25" y="26.90" width="3.30" height="3.60" fill="#6f89da" filter="url(#b1_0)" opacity="0.35"/>
<ellipse cx="31.00" cy="13.10" rx="2.55" ry="1.48" fill="#8cc2e1" filter="url(#b0_7)" opacity="1"/>
<ellipse cx="19.90" cy="17.20" rx="2.60" ry="2.08" fill="#8cc2e1" filter="url(#b0_7)" opacity="1"/>
<ellipse cx="21.50" cy="17.20" rx="2.60" ry="1.98" fill="#8cc2e1" filter="url(#b0_7)" opacity="1"/>
<ellipse cx="26.00" cy="19.40" rx="2.65" ry="2.23" fill="#8cc2e1" filter="url(#b0_7)" opacity="1"/>
<ellipse cx="29.60" cy="19.10" rx="2.80" ry="1.13" fill="#8cc2e1" filter="url(#b0_7)" opacity="1"/>
<ellipse cx="34.40" cy="18.80" rx="2.65" ry="1.63" fill="#8cc2e1" filter="url(#b0_7)" opacity="1"/>
<ellipse cx="28.70" cy="22.70" rx="2.65" ry="2.48" fill="#8cc2e1" filter="url(#b0_7)" opacity="1"/>
<ellipse cx="32.90" cy="23.90" rx="2.65" ry="2.48" fill="#8cc2e1" filter="url(#b0_7)" opacity="1"/>
<ellipse cx="24.80" cy="25.10" rx="2.65" ry="2.58" fill="#8cc2e1" filter="url(#b0_7)" opacity="1"/>
<ellipse cx="32.30" cy="29.00" rx="4.50" ry="1.18" fill="#8cc2e1" filter="url(#b0_7)" opacity="1"/>
<ellipse cx="36.20" cy="28.70" rx="2.65" ry="1.28" fill="#8cc2e1" filter="url(#b0_7)" opacity="1"/>
<rect x="29.80" y="11.73" width="1.80" height="2.74" fill="#000"/>
<rect x="18.65" y="15.20" width="1.90" height="4.00" fill="#000" transform="rotate(-30 19.60 17.20)"/>
<rect x="20.25" y="15.30" width="1.90" height="3.79" fill="#000" transform="rotate(30 21.20 17.20)"/>
<rect x="24.70" y="17.24" width="2.01" height="4.32" fill="#000" transform="rotate(10 25.70 19.40)"/>
<rect x="28.14" y="18.10" width="2.32" height="2.01" fill="#000"/>
<rect x="33.10" y="17.27" width="2.01" height="3.06" fill="#000" transform="rotate(25 34.10 18.80)"/>
<rect x="27.40" y="20.28" width="2.01" height="4.84" fill="#000" transform="rotate(-35 28.40 22.70)"/>
<rect x="31.60" y="21.48" width="2.01" height="4.84" fill="#000"/>
<rect x="23.50" y="22.58" width="2.01" height="5.05" fill="#000" transform="rotate(25 24.50 25.10)"/>
<rect x="29.05" y="27.95" width="5.89" height="2.11" fill="#000" transform="rotate(-5 32.00 29.00)"/>
<rect x="34.90" y="27.54" width="2.01" height="2.32" fill="#000"/>
<rect x="0.4" y="0.4" width="83.30" height="40.40" fill="none" stroke="#3e0f30" stroke-width="0.8" opacity="0.7"/>
</g>
<rect x="64.40" y="271.00" width="93.30" height="45.40" fill="none" stroke="#3a3a3a" stroke-width="0.8"/>
<line x1="62.40" y1="274.40" x2="64.40" y2="274.40" stroke="#333" stroke-width="0.8"/>
<line x1="62.40" y1="293.40" x2="64.40" y2="293.40" stroke="#333" stroke-width="0.8"/>
<line x1="62.40" y1="312.40" x2="64.40" y2="312.40" stroke="#333" stroke-width="0.8"/>
<line x1="95.80" y1="316.40" x2="95.80" y2="318.40" stroke="#333" stroke-width="0.8"/>
<line x1="143.60" y1="316.40" x2="143.60" y2="318.40" stroke="#333" stroke-width="0.8"/>
<text x="60.70" y="278.90" class="k" text-anchor="end">100 m</text>
<text x="60.70" y="297.90" class="k" text-anchor="end">0 m</text>
<text x="60.70" y="316.90" class="k" text-anchor="end">−100 m</text>
<g transform="translate(68.80 328.75)" clip-path="url(#c05)">
<rect x="0" y="0" width="84.10" height="41.20" fill="url(#g6)"/>
<rect x="0" y="0" width="84.10" height="41.20" fill="#000" filter="url(#n6)"/>
<ellipse cx="28.50" cy="21.00" rx="9.00" ry="9.00" fill="#735dc6" filter="url(#b2_5)" opacity="0.3"/>
<rect x="29.15" y="11.10" width="3.10" height="4.00" fill="#6f89da" filter="url(#b1_0)" opacity="0.35"/>
<rect x="18.00" y="14.60" width="3.20" height="5.20" fill="#6f89da" transform="rotate(-30 19.60 17.20)" filter="url(#b1_0)" opacity="0.35"/>
<rect x="19.60" y="14.70" width="3.20" height="5.00" fill="#6f89da" transform="rotate(30 21.20 17.20)" filter="url(#b1_0)" opacity="0.35"/>
<rect x="24.05" y="16.65" width="3.30" height="5.50" fill="#6f89da" transform="rotate(10 25.70 19.40)" filter="url(#b1_0)" opacity="0.35"/>
<rect x="27.50" y="17.45" width="3.60" height="3.30" fill="#6f89da" filter="url(#b1_0)" opacity="0.35"/>
<rect x="32.45" y="16.65" width="3.30" height="4.30" fill="#6f89da" transform="rotate(25 34.10 18.80)" filter="url(#b1_0)" opacity="0.35"/>
<rect x="26.75" y="19.70" width="3.30" height="6.00" fill="#6f89da" transform="rotate(-35 28.40 22.70)" filter="url(#b1_0)" opacity="0.35"/>
<rect x="30.95" y="20.90" width="3.30" height="6.00" fill="#6f89da" filter="url(#b1_0)" opacity="0.35"/>
<rect x="22.85" y="22.00" width="3.30" height="6.20" fill="#6f89da" transform="rotate(25 24.50 25.10)" filter="url(#b1_0)" opacity="0.35"/>
<rect x="28.50" y="27.30" width="7.00" height="3.40" fill="#6f89da" transform="rotate(-5 32.00 29.00)" filter="url(#b1_0)" opacity="0.35"/>
<rect x="34.25" y="26.90" width="3.30" height="3.60" fill="#6f89da" filter="url(#b1_0)" opacity="0.35"/>
<ellipse cx="31.00" cy="13.10" rx="2.55" ry="1.48" fill="#94c8e2" filter="url(#b0_7)" opacity="1"/>
<ellipse cx="19.90" cy="17.20" rx="2.60" ry="2.08" fill="#94c8e2" filter="url(#b0_7)" opacity="1"/>
<ellipse cx="21.50" cy="17.20" rx="2.60" ry="1.98" fill="#94c8e2" filter="url(#b0_7)" opacity="1"/>
<ellipse cx="26.00" cy="19.40" rx="2.65" ry="2.23" fill="#94c8e2" filter="url(#b0_7)" opacity="1"/>
<ellipse cx="29.60" cy="19.10" rx="2.80" ry="1.13" fill="#94c8e2" filter="url(#b0_7)" opacity="1"/>
<ellipse cx="34.40" cy="18.80" rx="2.65" ry="1.63" fill="#94c8e2" filter="url(#b0_7)" opacity="1"/>
<ellipse cx="28.70" cy="22.70" rx="2.65" ry="2.48" fill="#94c8e2" filter="url(#b0_7)" opacity="1"/>
<ellipse cx="32.90" cy="23.90" rx="2.65" ry="2.48" fill="#94c8e2" filter="url(#b0_7)" opacity="1"/>
<ellipse cx="24.80" cy="25.10" rx="2.65" ry="2.58" fill="#94c8e2" filter="url(#b0_7)" opacity="1"/>
<ellipse cx="32.30" cy="29.00" rx="4.50" ry="1.18" fill="#94c8e2" filter="url(#b0_7)" opacity="1"/>
<ellipse cx="36.20" cy="28.70" rx="2.65" ry="1.28" fill="#94c8e2" filter="url(#b0_7)" opacity="1"/>
<rect x="29.80" y="11.73" width="1.80" height="2.74" fill="#000"/>
<rect x="18.65" y="15.20" width="1.90" height="4.00" fill="#000" transform="rotate(-30 19.60 17.20)"/>
<rect x="20.25" y="15.30" width="1.90" height="3.79" fill="#000" transform="rotate(30 21.20 17.20)"/>
<rect x="24.70" y="17.24" width="2.01" height="4.32" fill="#000" transform="rotate(10 25.70 19.40)"/>
<rect x="28.14" y="18.10" width="2.32" height="2.01" fill="#000"/>
<rect x="33.10" y="17.27" width="2.01" height="3.06" fill="#000" transform="rotate(25 34.10 18.80)"/>
<rect x="27.40" y="20.28" width="2.01" height="4.84" fill="#000" transform="rotate(-35 28.40 22.70)"/>
<rect x="31.60" y="21.48" width="2.01" height="4.84" fill="#000"/>
<rect x="23.50" y="22.58" width="2.01" height="5.05" fill="#000" transform="rotate(25 24.50 25.10)"/>
<rect x="29.05" y="27.95" width="5.89" height="2.11" fill="#000" transform="rotate(-5 32.00 29.00)"/>
<rect x="34.90" y="27.54" width="2.01" height="2.32" fill="#000"/>
<rect x="0.4" y="0.4" width="83.30" height="40.40" fill="none" stroke="#411033" stroke-width="0.8" opacity="0.7"/>
</g>
<rect x="64.40" y="326.75" width="93.30" height="45.40" fill="none" stroke="#3a3a3a" stroke-width="0.8"/>
<line x1="62.40" y1="330.15" x2="64.40" y2="330.15" stroke="#333" stroke-width="0.8"/>
<line x1="62.40" y1="349.15" x2="64.40" y2="349.15" stroke="#333" stroke-width="0.8"/>
<line x1="62.40" y1="368.15" x2="64.40" y2="368.15" stroke="#333" stroke-width="0.8"/>
<line x1="95.80" y1="372.15" x2="95.80" y2="374.15" stroke="#333" stroke-width="0.8"/>
<line x1="143.60" y1="372.15" x2="143.60" y2="374.15" stroke="#333" stroke-width="0.8"/>
<text x="60.70" y="334.65" class="k" text-anchor="end">100 m</text>
<text x="60.70" y="353.65" class="k" text-anchor="end">0 m</text>
<text x="60.70" y="372.65" class="k" text-anchor="end">−100 m</text>
<text x="96.10" y="383.5" class="k" text-anchor="middle">0 m</text>
<text x="143.90" y="383.5" class="k" text-anchor="middle">250 m</text>
<g transform="translate(200.20 50.00)" clip-path="url(#c10)">
<rect x="0" y="0" width="84.10" height="41.20" fill="url(#g7)"/>
<path d="M30,16.0 C50,16.3 65,17.0 90,18.5 L90,27.0 C65,28.0 50,29.0 30,30.5 Z" fill="#682b7f" filter="url(#b2_0)" opacity="0.85"/>
<rect x="30.00" y="15.50" width="36.00" height="15.00" rx="3.00" fill="url(#g8)" filter="url(#b2_0)"/>
<rect x="32.00" y="10.50" width="46.00" height="3.00" rx="1.50" fill="url(#g9)" filter="url(#b1_0)"/>
<rect x="44.00" y="14.60" width="48.00" height="2.00" rx="1.00" fill="url(#g10)" filter="url(#b0_8)"/>
<rect x="18.5" y="13.5" width="19" height="16" rx="4" fill="#8cc2e1" filter="url(#b1_2)" opacity="0.85"/>
<ellipse cx="28.00" cy="21.50" rx="6.00" ry="5.00" fill="#d3e9ed" filter="url(#b1_5)" opacity="0.8"/>
<rect x="19.15" y="14.05" width="4.50" height="5.50" fill="#c4e1e9" transform="rotate(40 21.40 16.80)" filter="url(#b1_0)" opacity="0.6"/>
<rect x="27.15" y="12.10" width="3.50" height="5.80" fill="#c4e1e9" transform="rotate(30 28.90 15.00)" filter="url(#b1_0)" opacity="0.6"/>
<rect x="31.85" y="14.05" width="3.70" height="3.70" fill="#c4e1e9" filter="url(#b1_0)" opacity="0.6"/>
<rect x="22.85" y="17.05" width="3.70" height="4.30" fill="#c4e1e9" transform="rotate(30 24.70 19.20)" filter="url(#b1_0)" opacity="0.6"/>
<rect x="29.30" y="16.75" width="3.40" height="4.30" fill="#c4e1e9" filter="url(#b1_0)" opacity="0.6"/>
<rect x="19.65" y="19.00" width="3.50" height="5.20" fill="#c4e1e9" filter="url(#b1_0)" opacity="0.6"/>
<rect x="32.25" y="19.40" width="3.50" height="6.20" fill="#c4e1e9" filter="url(#b1_0)" opacity="0.6"/>
<rect x="28.90" y="19.80" width="3.60" height="3.60" fill="#c4e1e9" filter="url(#b1_0)" opacity="0.6"/>
<rect x="23.40" y="22.20" width="6.20" height="3.60" fill="#c4e1e9" transform="rotate(-10 26.50 24.00)" filter="url(#b1_0)" opacity="0.6"/>
<rect x="18.45" y="22.90" width="3.50" height="5.20" fill="#c4e1e9" transform="rotate(10 20.20 25.50)" filter="url(#b1_0)" opacity="0.6"/>
<rect x="29.20" y="23.30" width="3.60" height="3.80" fill="#c4e1e9" filter="url(#b1_0)" opacity="0.6"/>
<rect x="30.90" y="26.40" width="3.80" height="3.60" fill="#c4e1e9" filter="url(#b1_0)" opacity="0.6"/>
<ellipse cx="21.70" cy="16.80" rx="2.65" ry="2.01" fill="#ddeeef" filter="url(#b0_6)" opacity="0.95"/>
<ellipse cx="29.20" cy="15.00" rx="2.15" ry="2.16" fill="#ddeeef" filter="url(#b0_6)" opacity="0.95"/>
<ellipse cx="34.00" cy="15.90" rx="2.25" ry="1.11" fill="#ddeeef" filter="url(#b0_6)" opacity="0.95"/>
<ellipse cx="25.00" cy="19.20" rx="2.25" ry="1.41" fill="#ddeeef" filter="url(#b0_6)" opacity="0.95"/>
<ellipse cx="31.30" cy="18.90" rx="2.10" ry="1.41" fill="#ddeeef" filter="url(#b0_6)" opacity="0.95"/>
<ellipse cx="21.70" cy="21.60" rx="2.15" ry="1.86" fill="#ddeeef" filter="url(#b0_6)" opacity="0.95"/>
<ellipse cx="34.30" cy="22.50" rx="2.15" ry="2.36" fill="#ddeeef" filter="url(#b0_6)" opacity="0.95"/>
<ellipse cx="31.00" cy="21.60" rx="2.20" ry="1.06" fill="#ddeeef" filter="url(#b0_6)" opacity="0.95"/>
<ellipse cx="26.80" cy="24.00" rx="3.50" ry="1.06" fill="#ddeeef" filter="url(#b0_6)" opacity="0.95"/>
<ellipse cx="20.50" cy="25.50" rx="2.15" ry="1.86" fill="#ddeeef" filter="url(#b0_6)" opacity="0.95"/>
<ellipse cx="31.30" cy="25.20" rx="2.20" ry="1.16" fill="#ddeeef" filter="url(#b0_6)" opacity="0.95"/>
<ellipse cx="33.10" cy="28.20" rx="2.30" ry="1.06" fill="#ddeeef" filter="url(#b0_6)" opacity="0.95"/>
<rect x="19.55" y="14.27" width="3.71" height="5.05" fill="#000" transform="rotate(40 21.40 16.80)"/>
<rect x="27.72" y="12.27" width="2.35" height="5.46" fill="#000" transform="rotate(30 28.90 15.00)"/>
<rect x="32.39" y="14.59" width="2.63" height="2.63" fill="#000"/>
<rect x="23.39" y="17.48" width="2.63" height="3.44" fill="#000" transform="rotate(30 24.70 19.20)"/>
<rect x="29.89" y="17.18" width="2.22" height="3.44" fill="#000"/>
<rect x="20.22" y="19.28" width="2.35" height="4.65" fill="#000"/>
<rect x="32.82" y="19.50" width="2.35" height="6.00" fill="#000"/>
<rect x="29.45" y="20.36" width="2.49" height="2.49" fill="#000"/>
<rect x="23.50" y="22.75" width="6.00" height="2.49" fill="#000" transform="rotate(-10 26.50 24.00)"/>
<rect x="19.02" y="23.18" width="2.35" height="4.65" fill="#000" transform="rotate(10 20.20 25.50)"/>
<rect x="29.75" y="23.82" width="2.49" height="2.76" fill="#000"/>
<rect x="31.42" y="26.95" width="2.76" height="2.49" fill="#000"/>
<rect x="0.4" y="0.4" width="83.30" height="40.40" fill="none" stroke="#3d0f2f" stroke-width="0.8" opacity="0.7"/>
</g>
<rect x="195.80" y="48.00" width="93.30" height="45.40" fill="none" stroke="#3a3a3a" stroke-width="0.8"/>
<line x1="193.80" y1="51.40" x2="195.80" y2="51.40" stroke="#333" stroke-width="0.8"/>
<line x1="193.80" y1="70.40" x2="195.80" y2="70.40" stroke="#333" stroke-width="0.8"/>
<line x1="193.80" y1="89.40" x2="195.80" y2="89.40" stroke="#333" stroke-width="0.8"/>
<line x1="227.20" y1="93.40" x2="227.20" y2="95.40" stroke="#333" stroke-width="0.8"/>
<line x1="275.00" y1="93.40" x2="275.00" y2="95.40" stroke="#333" stroke-width="0.8"/>
<g transform="translate(200.20 105.75)" clip-path="url(#c11)">
<rect x="0" y="0" width="84.10" height="41.20" fill="url(#g11)"/>
<path d="M30,16.0 C50,16.3 65,17.0 90,18.5 L90,27.0 C65,28.0 50,29.0 30,30.5 Z" fill="#652471" filter="url(#b2_0)" opacity="0.6"/>
<rect x="30.00" y="15.50" width="36.00" height="15.00" rx="3.00" fill="url(#g12)" filter="url(#b2_0)"/>
<rect x="32.00" y="10.50" width="46.00" height="3.00" rx="1.50" fill="url(#g13)" filter="url(#b1_0)"/>
<rect x="44.00" y="14.60" width="48.00" height="2.00" rx="1.00" fill="url(#g14)" filter="url(#b0_8)"/>
<path d="M36,21.2 C45,21.5 55,22 62,22.4 L62,23.2 C55,23.6 45,24 36,24.6 Z" fill="#87bce1" filter="url(#b1_1)" opacity="0.7"/>
<path d="M36,26.5 C45,26.8 55,27 50,27.2 L50,27.8 C55,28 45,28.3 36,28.6 Z" fill="#7096de" filter="url(#b1_1)" opacity="0.4"/>
<rect x="18.5" y="13.5" width="19" height="16" rx="4" fill="#8cc2e1" filter="url(#b1_2)" opacity="0.85"/>
<ellipse cx="28.00" cy="21.50" rx="6.00" ry="5.00" fill="#d3e9ed" filter="url(#b1_5)" opacity="0.8"/>
<rect x="19.15" y="14.05" width="4.50" height="5.50" fill="#c4e1e9" transform="rotate(40 21.40 16.80)" filter="url(#b1_0)" opacity="0.6"/>
<rect x="27.15" y="12.10" width="3.50" height="5.80" fill="#c4e1e9" transform="rotate(30 28.90 15.00)" filter="url(#b1_0)" opacity="0.6"/>
<rect x="31.85" y="14.05" width="3.70" height="3.70" fill="#c4e1e9" filter="url(#b1_0)" opacity="0.6"/>
<rect x="22.85" y="17.05" width="3.70" height="4.30" fill="#c4e1e9" transform="rotate(30 24.70 19.20)" filter="url(#b1_0)" opacity="0.6"/>
<rect x="29.30" y="16.75" width="3.40" height="4.30" fill="#c4e1e9" filter="url(#b1_0)" opacity="0.6"/>
<rect x="19.65" y="19.00" width="3.50" height="5.20" fill="#c4e1e9" filter="url(#b1_0)" opacity="0.6"/>
<rect x="32.25" y="19.40" width="3.50" height="6.20" fill="#c4e1e9" filter="url(#b1_0)" opacity="0.6"/>
<rect x="28.90" y="19.80" width="3.60" height="3.60" fill="#c4e1e9" filter="url(#b1_0)" opacity="0.6"/>
<rect x="23.40" y="22.20" width="6.20" height="3.60" fill="#c4e1e9" transform="rotate(-10 26.50 24.00)" filter="url(#b1_0)" opacity="0.6"/>
<rect x="18.45" y="22.90" width="3.50" height="5.20" fill="#c4e1e9" transform="rotate(10 20.20 25.50)" filter="url(#b1_0)" opacity="0.6"/>
<rect x="29.20" y="23.30" width="3.60" height="3.80" fill="#c4e1e9" filter="url(#b1_0)" opacity="0.6"/>
<rect x="30.90" y="26.40" width="3.80" height="3.60" fill="#c4e1e9" filter="url(#b1_0)" opacity="0.6"/>
<ellipse cx="21.70" cy="16.80" rx="2.65" ry="2.01" fill="#ddeeef" filter="url(#b0_6)" opacity="0.95"/>
<ellipse cx="29.20" cy="15.00" rx="2.15" ry="2.16" fill="#ddeeef" filter="url(#b0_6)" opacity="0.95"/>
<ellipse cx="34.00" cy="15.90" rx="2.25" ry="1.11" fill="#ddeeef" filter="url(#b0_6)" opacity="0.95"/>
<ellipse cx="25.00" cy="19.20" rx="2.25" ry="1.41" fill="#ddeeef" filter="url(#b0_6)" opacity="0.95"/>
<ellipse cx="31.30" cy="18.90" rx="2.10" ry="1.41" fill="#ddeeef" filter="url(#b0_6)" opacity="0.95"/>
<ellipse cx="21.70" cy="21.60" rx="2.15" ry="1.86" fill="#ddeeef" filter="url(#b0_6)" opacity="0.95"/>
<ellipse cx="34.30" cy="22.50" rx="2.15" ry="2.36" fill="#ddeeef" filter="url(#b0_6)" opacity="0.95"/>
<ellipse cx="31.00" cy="21.60" rx="2.20" ry="1.06" fill="#ddeeef" filter="url(#b0_6)" opacity="0.95"/>
<ellipse cx="26.80" cy="24.00" rx="3.50" ry="1.06" fill="#ddeeef" filter="url(#b0_6)" opacity="0.95"/>
<ellipse cx="20.50" cy="25.50" rx="2.15" ry="1.86" fill="#ddeeef" filter="url(#b0_6)" opacity="0.95"/>
<ellipse cx="31.30" cy="25.20" rx="2.20" ry="1.16" fill="#ddeeef" filter="url(#b0_6)" opacity="0.95"/>
<ellipse cx="33.10" cy="28.20" rx="2.30" ry="1.06" fill="#ddeeef" filter="url(#b0_6)" opacity="0.95"/>
<rect x="19.55" y="14.27" width="3.71" height="5.05" fill="#000" transform="rotate(40 21.40 16.80)"/>
<rect x="27.72" y="12.27" width="2.35" height="5.46" fill="#000" transform="rotate(30 28.90 15.00)"/>
<rect x="32.39" y="14.59" width="2.63" height="2.63" fill="#000"/>
<rect x="23.39" y="17.48" width="2.63" height="3.44" fill="#000" transform="rotate(30 24.70 19.20)"/>
<rect x="29.89" y="17.18" width="2.22" height="3.44" fill="#000"/>
<rect x="20.22" y="19.28" width="2.35" height="4.65" fill="#000"/>
<rect x="32.82" y="19.50" width="2.35" height="6.00" fill="#000"/>
<rect x="29.45" y="20.36" width="2.49" height="2.49" fill="#000"/>
<rect x="23.50" y="22.75" width="6.00" height="2.49" fill="#000" transform="rotate(-10 26.50 24.00)"/>
<rect x="19.02" y="23.18" width="2.35" height="4.65" fill="#000" transform="rotate(10 20.20 25.50)"/>
<rect x="29.75" y="23.82" width="2.49" height="2.76" fill="#000"/>
<rect x="31.42" y="26.95" width="2.76" height="2.49" fill="#000"/>
<rect x="0.4" y="0.4" width="83.30" height="40.40" fill="none" stroke="#3d0f2f" stroke-width="0.8" opacity="0.7"/>
</g>
<rect x="195.80" y="103.75" width="93.30" height="45.40" fill="none" stroke="#3a3a3a" stroke-width="0.8"/>
<line x1="193.80" y1="107.15" x2="195.80" y2="107.15" stroke="#333" stroke-width="0.8"/>
<line x1="193.80" y1="126.15" x2="195.80" y2="126.15" stroke="#333" stroke-width="0.8"/>
<line x1="193.80" y1="145.15" x2="195.80" y2="145.15" stroke="#333" stroke-width="0.8"/>
<line x1="227.20" y1="149.15" x2="227.20" y2="151.15" stroke="#333" stroke-width="0.8"/>
<line x1="275.00" y1="149.15" x2="275.00" y2="151.15" stroke="#333" stroke-width="0.8"/>
<g transform="translate(200.20 161.50)" clip-path="url(#c12)">
<rect x="0" y="0" width="84.10" height="41.20" fill="url(#g15)"/>
<path d="M30,16.0 C50,16.3 65,17.0 60,18.5 L60,27.0 C65,28.0 50,29.0 30,30.5 Z" fill="#707ad4" filter="url(#b2_0)" opacity="0.4"/>
<rect x="30.00" y="15.50" width="18.00" height="15.00" rx="3.00" fill="url(#g16)" filter="url(#b2_0)"/>
<path d="M36,21.2 C45,21.5 55,22 50,22.4 L50,23.2 C55,23.6 45,24 36,24.6 Z" fill="#87bce1" filter="url(#b1_1)" opacity="0.7"/>
<rect x="18.5" y="13.5" width="19" height="16" rx="4" fill="#8cc2e1" filter="url(#b1_2)" opacity="0.85"/>
<ellipse cx="28.00" cy="21.50" rx="6.00" ry="5.00" fill="#d3e9ed" filter="url(#b1_5)" opacity="0.8"/>
<rect x="19.15" y="14.05" width="4.50" height="5.50" fill="#c4e1e9" transform="rotate(40 21.40 16.80)" filter="url(#b1_0)" opacity="0.6"/>
<rect x="27.15" y="12.10" width="3.50" height="5.80" fill="#c4e1e9" transform="rotate(30 28.90 15.00)" filter="url(#b1_0)" opacity="0.6"/>
<rect x="31.85" y="14.05" width="3.70" height="3.70" fill="#c4e1e9" filter="url(#b1_0)" opacity="0.6"/>
<rect x="22.85" y="17.05" width="3.70" height="4.30" fill="#c4e1e9" transform="rotate(30 24.70 19.20)" filter="url(#b1_0)" opacity="0.6"/>
<rect x="29.30" y="16.75" width="3.40" height="4.30" fill="#c4e1e9" filter="url(#b1_0)" opacity="0.6"/>
<rect x="19.65" y="19.00" width="3.50" height="5.20" fill="#c4e1e9" filter="url(#b1_0)" opacity="0.6"/>
<rect x="32.25" y="19.40" width="3.50" height="6.20" fill="#c4e1e9" filter="url(#b1_0)" opacity="0.6"/>
<rect x="28.90" y="19.80" width="3.60" height="3.60" fill="#c4e1e9" filter="url(#b1_0)" opacity="0.6"/>
<rect x="23.40" y="22.20" width="6.20" height="3.60" fill="#c4e1e9" transform="rotate(-10 26.50 24.00)" filter="url(#b1_0)" opacity="0.6"/>
<rect x="18.45" y="22.90" width="3.50" height="5.20" fill="#c4e1e9" transform="rotate(10 20.20 25.50)" filter="url(#b1_0)" opacity="0.6"/>
<rect x="29.20" y="23.30" width="3.60" height="3.80" fill="#c4e1e9" filter="url(#b1_0)" opacity="0.6"/>
<rect x="30.90" y="26.40" width="3.80" height="3.60" fill="#c4e1e9" filter="url(#b1_0)" opacity="0.6"/>
<ellipse cx="21.70" cy="16.80" rx="2.65" ry="2.01" fill="#ddeeef" filter="url(#b0_6)" opacity="0.95"/>
<ellipse cx="29.20" cy="15.00" rx="2.15" ry="2.16" fill="#ddeeef" filter="url(#b0_6)" opacity="0.95"/>
<ellipse cx="34.00" cy="15.90" rx="2.25" ry="1.11" fill="#ddeeef" filter="url(#b0_6)" opacity="0.95"/>
<ellipse cx="25.00" cy="19.20" rx="2.25" ry="1.41" fill="#ddeeef" filter="url(#b0_6)" opacity="0.95"/>
<ellipse cx="31.30" cy="18.90" rx="2.10" ry="1.41" fill="#ddeeef" filter="url(#b0_6)" opacity="0.95"/>
<ellipse cx="21.70" cy="21.60" rx="2.15" ry="1.86" fill="#ddeeef" filter="url(#b0_6)" opacity="0.95"/>
<ellipse cx="34.30" cy="22.50" rx="2.15" ry="2.36" fill="#ddeeef" filter="url(#b0_6)" opacity="0.95"/>
<ellipse cx="31.00" cy="21.60" rx="2.20" ry="1.06" fill="#ddeeef" filter="url(#b0_6)" opacity="0.95"/>
<ellipse cx="26.80" cy="24.00" rx="3.50" ry="1.06" fill="#ddeeef" filter="url(#b0_6)" opacity="0.95"/>
<ellipse cx="20.50" cy="25.50" rx="2.15" ry="1.86" fill="#ddeeef" filter="url(#b0_6)" opacity="0.95"/>
<ellipse cx="31.30" cy="25.20" rx="2.20" ry="1.16" fill="#ddeeef" filter="url(#b0_6)" opacity="0.95"/>
<ellipse cx="33.10" cy="28.20" rx="2.30" ry="1.06" fill="#ddeeef" filter="url(#b0_6)" opacity="0.95"/>
<rect x="19.55" y="14.27" width="3.71" height="5.05" fill="#000" transform="rotate(40 21.40 16.80)"/>
<rect x="27.72" y="12.27" width="2.35" height="5.46" fill="#000" transform="rotate(30 28.90 15.00)"/>
<rect x="32.39" y="14.59" width="2.63" height="2.63" fill="#000"/>
<rect x="23.39" y="17.48" width="2.63" height="3.44" fill="#000" transform="rotate(30 24.70 19.20)"/>
<rect x="29.89" y="17.18" width="2.22" height="3.44" fill="#000"/>
<rect x="20.22" y="19.28" width="2.35" height="4.65" fill="#000"/>
<rect x="32.82" y="19.50" width="2.35" height="6.00" fill="#000"/>
<rect x="29.45" y="20.36" width="2.49" height="2.49" fill="#000"/>
<rect x="23.50" y="22.75" width="6.00" height="2.49" fill="#000" transform="rotate(-10 26.50 24.00)"/>
<rect x="19.02" y="23.18" width="2.35" height="4.65" fill="#000" transform="rotate(10 20.20 25.50)"/>
<rect x="29.75" y="23.82" width="2.49" height="2.76" fill="#000"/>
<rect x="31.42" y="26.95" width="2.76" height="2.49" fill="#000"/>
<rect x="0.4" y="0.4" width="83.30" height="40.40" fill="none" stroke="#7044a7" stroke-width="0.8" opacity="0.7"/>
</g>
<rect x="195.80" y="159.50" width="93.30" height="45.40" fill="none" stroke="#3a3a3a" stroke-width="0.8"/>
<line x1="193.80" y1="162.90" x2="195.80" y2="162.90" stroke="#333" stroke-width="0.8"/>
<line x1="193.80" y1="181.90" x2="195.80" y2="181.90" stroke="#333" stroke-width="0.8"/>
<line x1="193.80" y1="200.90" x2="195.80" y2="200.90" stroke="#333" stroke-width="0.8"/>
<line x1="227.20" y1="204.90" x2="227.20" y2="206.90" stroke="#333" stroke-width="0.8"/>
<line x1="275.00" y1="204.90" x2="275.00" y2="206.90" stroke="#333" stroke-width="0.8"/>
<g transform="translate(200.20 217.25)" clip-path="url(#c13)">
<rect x="0" y="0" width="84.10" height="41.20" fill="url(#g17)"/>
<rect x="0" y="0" width="84.10" height="41.20" fill="#000" filter="url(#n14)"/>
<path d="M30,16.0 C50,16.3 65,17.0 48,18.5 L48,27.0 C65,28.0 50,29.0 30,30.5 Z" fill="#714eb2" filter="url(#b2_0)" opacity="0.5"/>
<rect x="30.00" y="15.50" width="10.80" height="15.00" rx="3.00" fill="url(#g18)" filter="url(#b2_0)"/>
<rect x="18.5" y="13.5" width="19" height="16" rx="4" fill="#8cc2e1" filter="url(#b1_2)" opacity="0.85"/>
<ellipse cx="28.00" cy="21.50" rx="6.00" ry="5.00" fill="#d3e9ed" filter="url(#b1_5)" opacity="0.8"/>
<rect x="19.15" y="14.05" width="4.50" height="5.50" fill="#c4e1e9" transform="rotate(40 21.40 16.80)" filter="url(#b1_0)" opacity="0.6"/>
<rect x="27.15" y="12.10" width="3.50" height="5.80" fill="#c4e1e9" transform="rotate(30 28.90 15.00)" filter="url(#b1_0)" opacity="0.6"/>
<rect x="31.85" y="14.05" width="3.70" height="3.70" fill="#c4e1e9" filter="url(#b1_0)" opacity="0.6"/>
<rect x="22.85" y="17.05" width="3.70" height="4.30" fill="#c4e1e9" transform="rotate(30 24.70 19.20)" filter="url(#b1_0)" opacity="0.6"/>
<rect x="29.30" y="16.75" width="3.40" height="4.30" fill="#c4e1e9" filter="url(#b1_0)" opacity="0.6"/>
<rect x="19.65" y="19.00" width="3.50" height="5.20" fill="#c4e1e9" filter="url(#b1_0)" opacity="0.6"/>
<rect x="32.25" y="19.40" width="3.50" height="6.20" fill="#c4e1e9" filter="url(#b1_0)" opacity="0.6"/>
<rect x="28.90" y="19.80" width="3.60" height="3.60" fill="#c4e1e9" filter="url(#b1_0)" opacity="0.6"/>
<rect x="23.40" y="22.20" width="6.20" height="3.60" fill="#c4e1e9" transform="rotate(-10 26.50 24.00)" filter="url(#b1_0)" opacity="0.6"/>
<rect x="18.45" y="22.90" width="3.50" height="5.20" fill="#c4e1e9" transform="rotate(10 20.20 25.50)" filter="url(#b1_0)" opacity="0.6"/>
<rect x="29.20" y="23.30" width="3.60" height="3.80" fill="#c4e1e9" filter="url(#b1_0)" opacity="0.6"/>
<rect x="30.90" y="26.40" width="3.80" height="3.60" fill="#c4e1e9" filter="url(#b1_0)" opacity="0.6"/>
<ellipse cx="21.70" cy="16.80" rx="2.65" ry="2.01" fill="#ddeeef" filter="url(#b0_6)" opacity="0.95"/>
<ellipse cx="29.20" cy="15.00" rx="2.15" ry="2.16" fill="#ddeeef" filter="url(#b0_6)" opacity="0.95"/>
<ellipse cx="34.00" cy="15.90" rx="2.25" ry="1.11" fill="#ddeeef" filter="url(#b0_6)" opacity="0.95"/>
<ellipse cx="25.00" cy="19.20" rx="2.25" ry="1.41" fill="#ddeeef" filter="url(#b0_6)" opacity="0.95"/>
<ellipse cx="31.30" cy="18.90" rx="2.10" ry="1.41" fill="#ddeeef" filter="url(#b0_6)" opacity="0.95"/>
<ellipse cx="21.70" cy="21.60" rx="2.15" ry="1.86" fill="#ddeeef" filter="url(#b0_6)" opacity="0.95"/>
<ellipse cx="34.30" cy="22.50" rx="2.15" ry="2.36" fill="#ddeeef" filter="url(#b0_6)" opacity="0.95"/>
<ellipse cx="31.00" cy="21.60" rx="2.20" ry="1.06" fill="#ddeeef" filter="url(#b0_6)" opacity="0.95"/>
<ellipse cx="26.80" cy="24.00" rx="3.50" ry="1.06" fill="#ddeeef" filter="url(#b0_6)" opacity="0.95"/>
<ellipse cx="20.50" cy="25.50" rx="2.15" ry="1.86" fill="#ddeeef" filter="url(#b0_6)" opacity="0.95"/>
<ellipse cx="31.30" cy="25.20" rx="2.20" ry="1.16" fill="#ddeeef" filter="url(#b0_6)" opacity="0.95"/>
<ellipse cx="33.10" cy="28.20" rx="2.30" ry="1.06" fill="#ddeeef" filter="url(#b0_6)" opacity="0.95"/>
<rect x="19.55" y="14.27" width="3.71" height="5.05" fill="#000" transform="rotate(40 21.40 16.80)"/>
<rect x="27.72" y="12.27" width="2.35" height="5.46" fill="#000" transform="rotate(30 28.90 15.00)"/>
<rect x="32.39" y="14.59" width="2.63" height="2.63" fill="#000"/>
<rect x="23.39" y="17.48" width="2.63" height="3.44" fill="#000" transform="rotate(30 24.70 19.20)"/>
<rect x="29.89" y="17.18" width="2.22" height="3.44" fill="#000"/>
<rect x="20.22" y="19.28" width="2.35" height="4.65" fill="#000"/>
<rect x="32.82" y="19.50" width="2.35" height="6.00" fill="#000"/>
<rect x="29.45" y="20.36" width="2.49" height="2.49" fill="#000"/>
<rect x="23.50" y="22.75" width="6.00" height="2.49" fill="#000" transform="rotate(-10 26.50 24.00)"/>
<rect x="19.02" y="23.18" width="2.35" height="4.65" fill="#000" transform="rotate(10 20.20 25.50)"/>
<rect x="29.75" y="23.82" width="2.49" height="2.76" fill="#000"/>
<rect x="31.42" y="26.95" width="2.76" height="2.49" fill="#000"/>
<rect x="0.4" y="0.4" width="83.30" height="40.40" fill="none" stroke="#491340" stroke-width="0.8" opacity="0.7"/>
</g>
<rect x="195.80" y="215.25" width="93.30" height="45.40" fill="none" stroke="#3a3a3a" stroke-width="0.8"/>
<line x1="193.80" y1="218.65" x2="195.80" y2="218.65" stroke="#333" stroke-width="0.8"/>
<line x1="193.80" y1="237.65" x2="195.80" y2="237.65" stroke="#333" stroke-width="0.8"/>
<line x1="193.80" y1="256.65" x2="195.80" y2="256.65" stroke="#333" stroke-width="0.8"/>
<line x1="227.20" y1="260.65" x2="227.20" y2="262.65" stroke="#333" stroke-width="0.8"/>
<line x1="275.00" y1="260.65" x2="275.00" y2="262.65" stroke="#333" stroke-width="0.8"/>
<g transform="translate(200.20 273.00)" clip-path="url(#c14)">
<rect x="0" y="0" width="84.10" height="41.20" fill="url(#g19)"/>
<path d="M30,16.0 C50,16.3 65,17.0 90,18.5 L90,27.0 C65,28.0 50,29.0 30,30.5 Z" fill="#67297b" filter="url(#b2_0)" opacity="0.7"/>
<rect x="30.00" y="15.50" width="36.00" height="15.00" rx="3.00" fill="url(#g20)" filter="url(#b2_0)"/>
<rect x="32.00" y="10.50" width="46.00" height="3.00" rx="1.50" fill="url(#g21)" filter="url(#b1_0)"/>
<rect x="44.00" y="14.60" width="48.00" height="2.00" rx="1.00" fill="url(#g22)" filter="url(#b0_8)"/>
<ellipse cx="27.00" cy="33.00" rx="7.00" ry="3.50" fill="#431136" filter="url(#b1_5)" opacity="0.9"/>
<rect x="18.5" y="13.5" width="19" height="16" rx="4" fill="#8cc2e1" filter="url(#b1_2)" opacity="0.85"/>
<ellipse cx="28.00" cy="21.50" rx="6.00" ry="5.00" fill="#d3e9ed" filter="url(#b1_5)" opacity="0.8"/>
<rect x="19.15" y="14.05" width="4.50" height="5.50" fill="#c4e1e9" transform="rotate(40 21.40 16.80)" filter="url(#b1_0)" opacity="0.6"/>
<rect x="27.15" y="12.10" width="3.50" height="5.80" fill="#c4e1e9" transform="rotate(30 28.90 15.00)" filter="url(#b1_0)" opacity="0.6"/>
<rect x="31.85" y="14.05" width="3.70" height="3.70" fill="#c4e1e9" filter="url(#b1_0)" opacity="0.6"/>
<rect x="22.85" y="17.05" width="3.70" height="4.30" fill="#c4e1e9" transform="rotate(30 24.70 19.20)" filter="url(#b1_0)" opacity="0.6"/>
<rect x="29.30" y="16.75" width="3.40" height="4.30" fill="#c4e1e9" filter="url(#b1_0)" opacity="0.6"/>
<rect x="19.65" y="19.00" width="3.50" height="5.20" fill="#c4e1e9" filter="url(#b1_0)" opacity="0.6"/>
<rect x="32.25" y="19.40" width="3.50" height="6.20" fill="#c4e1e9" filter="url(#b1_0)" opacity="0.6"/>
<rect x="28.90" y="19.80" width="3.60" height="3.60" fill="#c4e1e9" filter="url(#b1_0)" opacity="0.6"/>
<rect x="23.40" y="22.20" width="6.20" height="3.60" fill="#c4e1e9" transform="rotate(-10 26.50 24.00)" filter="url(#b1_0)" opacity="0.6"/>
<rect x="18.45" y="22.90" width="3.50" height="5.20" fill="#c4e1e9" transform="rotate(10 20.20 25.50)" filter="url(#b1_0)" opacity="0.6"/>
<rect x="29.20" y="23.30" width="3.60" height="3.80" fill="#c4e1e9" filter="url(#b1_0)" opacity="0.6"/>
<rect x="30.90" y="26.40" width="3.80" height="3.60" fill="#c4e1e9" filter="url(#b1_0)" opacity="0.6"/>
<ellipse cx="21.70" cy="16.80" rx="2.65" ry="2.01" fill="#ddeeef" filter="url(#b0_6)" opacity="0.95"/>
<ellipse cx="29.20" cy="15.00" rx="2.15" ry="2.16" fill="#ddeeef" filter="url(#b0_6)" opacity="0.95"/>
<ellipse cx="34.00" cy="15.90" rx="2.25" ry="1.11" fill="#ddeeef" filter="url(#b0_6)" opacity="0.95"/>
<ellipse cx="25.00" cy="19.20" rx="2.25" ry="1.41" fill="#ddeeef" filter="url(#b0_6)" opacity="0.95"/>
<ellipse cx="31.30" cy="18.90" rx="2.10" ry="1.41" fill="#ddeeef" filter="url(#b0_6)" opacity="0.95"/>
<ellipse cx="21.70" cy="21.60" rx="2.15" ry="1.86" fill="#ddeeef" filter="url(#b0_6)" opacity="0.95"/>
<ellipse cx="34.30" cy="22.50" rx="2.15" ry="2.36" fill="#ddeeef" filter="url(#b0_6)" opacity="0.95"/>
<ellipse cx="31.00" cy="21.60" rx="2.20" ry="1.06" fill="#ddeeef" filter="url(#b0_6)" opacity="0.95"/>
<ellipse cx="26.80" cy="24.00" rx="3.50" ry="1.06" fill="#ddeeef" filter="url(#b0_6)" opacity="0.95"/>
<ellipse cx="20.50" cy="25.50" rx="2.15" ry="1.86" fill="#ddeeef" filter="url(#b0_6)" opacity="0.95"/>
<ellipse cx="31.30" cy="25.20" rx="2.20" ry="1.16" fill="#ddeeef" filter="url(#b0_6)" opacity="0.95"/>
<ellipse cx="33.10" cy="28.20" rx="2.30" ry="1.06" fill="#ddeeef" filter="url(#b0_6)" opacity="0.95"/>
<rect x="19.55" y="14.27" width="3.71" height="5.05" fill="#000" transform="rotate(40 21.40 16.80)"/>
<rect x="27.72" y="12.27" width="2.35" height="5.46" fill="#000" transform="rotate(30 28.90 15.00)"/>
<rect x="32.39" y="14.59" width="2.63" height="2.63" fill="#000"/>
<rect x="23.39" y="17.48" width="2.63" height="3.44" fill="#000" transform="rotate(30 24.70 19.20)"/>
<rect x="29.89" y="17.18" width="2.22" height="3.44" fill="#000"/>
<rect x="20.22" y="19.28" width="2.35" height="4.65" fill="#000"/>
<rect x="32.82" y="19.50" width="2.35" height="6.00" fill="#000"/>
<rect x="29.45" y="20.36" width="2.49" height="2.49" fill="#000"/>
<rect x="23.50" y="22.75" width="6.00" height="2.49" fill="#000" transform="rotate(-10 26.50 24.00)"/>
<rect x="19.02" y="23.18" width="2.35" height="4.65" fill="#000" transform="rotate(10 20.20 25.50)"/>
<rect x="29.75" y="23.82" width="2.49" height="2.76" fill="#000"/>
<rect x="31.42" y="26.95" width="2.76" height="2.49" fill="#000"/>
<rect x="0.4" y="0.4" width="83.30" height="40.40" fill="none" stroke="#3e0f30" stroke-width="0.8" opacity="0.7"/>
</g>
<rect x="195.80" y="271.00" width="93.30" height="45.40" fill="none" stroke="#3a3a3a" stroke-width="0.8"/>
<line x1="193.80" y1="274.40" x2="195.80" y2="274.40" stroke="#333" stroke-width="0.8"/>
<line x1="193.80" y1="293.40" x2="195.80" y2="293.40" stroke="#333" stroke-width="0.8"/>
<line x1="193.80" y1="312.40" x2="195.80" y2="312.40" stroke="#333" stroke-width="0.8"/>
<line x1="227.20" y1="316.40" x2="227.20" y2="318.40" stroke="#333" stroke-width="0.8"/>
<line x1="275.00" y1="316.40" x2="275.00" y2="318.40" stroke="#333" stroke-width="0.8"/>
<g transform="translate(200.20 328.75)" clip-path="url(#c15)">
<rect x="0" y="0" width="84.10" height="41.20" fill="url(#g23)"/>
<rect x="0" y="0" width="84.10" height="41.20" fill="#000" filter="url(#n16)"/>
<path d="M30,16.0 C50,16.3 65,17.0 52,18.5 L52,27.0 C65,28.0 50,29.0 30,30.5 Z" fill="#714eb2" filter="url(#b2_0)" opacity="0.55"/>
<rect x="30.00" y="15.50" width="13.20" height="15.00" rx="3.00" fill="url(#g24)" filter="url(#b2_0)"/>
<rect x="18.5" y="13.5" width="19" height="16" rx="4" fill="#8cc2e1" filter="url(#b1_2)" opacity="0.85"/>
<ellipse cx="28.00" cy="21.50" rx="6.00" ry="5.00" fill="#d3e9ed" filter="url(#b1_5)" opacity="0.8"/>
<rect x="19.15" y="14.05" width="4.50" height="5.50" fill="#c4e1e9" transform="rotate(40 21.40 16.80)" filter="url(#b1_0)" opacity="0.6"/>
<rect x="27.15" y="12.10" width="3.50" height="5.80" fill="#c4e1e9" transform="rotate(30 28.90 15.00)" filter="url(#b1_0)" opacity="0.6"/>
<rect x="31.85" y="14.05" width="3.70" height="3.70" fill="#c4e1e9" filter="url(#b1_0)" opacity="0.6"/>
<rect x="22.85" y="17.05" width="3.70" height="4.30" fill="#c4e1e9" transform="rotate(30 24.70 19.20)" filter="url(#b1_0)" opacity="0.6"/>
<rect x="29.30" y="16.75" width="3.40" height="4.30" fill="#c4e1e9" filter="url(#b1_0)" opacity="0.6"/>
<rect x="19.65" y="19.00" width="3.50" height="5.20" fill="#c4e1e9" filter="url(#b1_0)" opacity="0.6"/>
<rect x="32.25" y="19.40" width="3.50" height="6.20" fill="#c4e1e9" filter="url(#b1_0)" opacity="0.6"/>
<rect x="28.90" y="19.80" width="3.60" height="3.60" fill="#c4e1e9" filter="url(#b1_0)" opacity="0.6"/>
<rect x="23.40" y="22.20" width="6.20" height="3.60" fill="#c4e1e9" transform="rotate(-10 26.50 24.00)" filter="url(#b1_0)" opacity="0.6"/>
<rect x="18.45" y="22.90" width="3.50" height="5.20" fill="#c4e1e9" transform="rotate(10 20.20 25.50)" filter="url(#b1_0)" opacity="0.6"/>
<rect x="29.20" y="23.30" width="3.60" height="3.80" fill="#c4e1e9" filter="url(#b1_0)" opacity="0.6"/>
<rect x="30.90" y="26.40" width="3.80" height="3.60" fill="#c4e1e9" filter="url(#b1_0)" opacity="0.6"/>
<ellipse cx="21.70" cy="16.80" rx="2.65" ry="2.01" fill="#ddeeef" filter="url(#b0_6)" opacity="0.95"/>
<ellipse cx="29.20" cy="15.00" rx="2.15" ry="2.16" fill="#ddeeef" filter="url(#b0_6)" opacity="0.95"/>
<ellipse cx="34.00" cy="15.90" rx="2.25" ry="1.11" fill="#ddeeef" filter="url(#b0_6)" opacity="0.95"/>
<ellipse cx="25.00" cy="19.20" rx="2.25" ry="1.41" fill="#ddeeef" filter="url(#b0_6)" opacity="0.95"/>
<ellipse cx="31.30" cy="18.90" rx="2.10" ry="1.41" fill="#ddeeef" filter="url(#b0_6)" opacity="0.95"/>
<ellipse cx="21.70" cy="21.60" rx="2.15" ry="1.86" fill="#ddeeef" filter="url(#b0_6)" opacity="0.95"/>
<ellipse cx="34.30" cy="22.50" rx="2.15" ry="2.36" fill="#ddeeef" filter="url(#b0_6)" opacity="0.95"/>
<ellipse cx="31.00" cy="21.60" rx="2.20" ry="1.06" fill="#ddeeef" filter="url(#b0_6)" opacity="0.95"/>
<ellipse cx="26.80" cy="24.00" rx="3.50" ry="1.06" fill="#ddeeef" filter="url(#b0_6)" opacity="0.95"/>
<ellipse cx="20.50" cy="25.50" rx="2.15" ry="1.86" fill="#ddeeef" filter="url(#b0_6)" opacity="0.95"/>
<ellipse cx="31.30" cy="25.20" rx="2.20" ry="1.16" fill="#ddeeef" filter="url(#b0_6)" opacity="0.95"/>
<ellipse cx="33.10" cy="28.20" rx="2.30" ry="1.06" fill="#ddeeef" filter="url(#b0_6)" opacity="0.95"/>
<rect x="19.55" y="14.27" width="3.71" height="5.05" fill="#000" transform="rotate(40 21.40 16.80)"/>
<rect x="27.72" y="12.27" width="2.35" height="5.46" fill="#000" transform="rotate(30 28.90 15.00)"/>
<rect x="32.39" y="14.59" width="2.63" height="2.63" fill="#000"/>
<rect x="23.39" y="17.48" width="2.63" height="3.44" fill="#000" transform="rotate(30 24.70 19.20)"/>
<rect x="29.89" y="17.18" width="2.22" height="3.44" fill="#000"/>
<rect x="20.22" y="19.28" width="2.35" height="4.65" fill="#000"/>
<rect x="32.82" y="19.50" width="2.35" height="6.00" fill="#000"/>
<rect x="29.45" y="20.36" width="2.49" height="2.49" fill="#000"/>
<rect x="23.50" y="22.75" width="6.00" height="2.49" fill="#000" transform="rotate(-10 26.50 24.00)"/>
<rect x="19.02" y="23.18" width="2.35" height="4.65" fill="#000" transform="rotate(10 20.20 25.50)"/>
<rect x="29.75" y="23.82" width="2.49" height="2.76" fill="#000"/>
<rect x="31.42" y="26.95" width="2.76" height="2.49" fill="#000"/>
<rect x="0.4" y="0.4" width="83.30" height="40.40" fill="none" stroke="#451139" stroke-width="0.8" opacity="0.7"/>
</g>
<rect x="195.80" y="326.75" width="93.30" height="45.40" fill="none" stroke="#3a3a3a" stroke-width="0.8"/>
<line x1="193.80" y1="330.15" x2="195.80" y2="330.15" stroke="#333" stroke-width="0.8"/>
<line x1="193.80" y1="349.15" x2="195.80" y2="349.15" stroke="#333" stroke-width="0.8"/>
<line x1="193.80" y1="368.15" x2="195.80" y2="368.15" stroke="#333" stroke-width="0.8"/>
<line x1="227.20" y1="372.15" x2="227.20" y2="374.15" stroke="#333" stroke-width="0.8"/>
<line x1="275.00" y1="372.15" x2="275.00" y2="374.15" stroke="#333" stroke-width="0.8"/>
<text x="227.50" y="383.5" class="k" text-anchor="middle">0 m</text>
<text x="275.30" y="383.5" class="k" text-anchor="middle">250 m</text>
<g transform="translate(331.60 50.00)" clip-path="url(#c20)">
<rect x="0" y="0" width="84.10" height="41.20" fill="url(#g25)"/>
<ellipse cx="18.00" cy="6.00" rx="22.00" ry="8.00" fill="#7257be" filter="url(#b4_0)" opacity="0.55"/>
<ellipse cx="18.00" cy="36.00" rx="22.00" ry="8.00" fill="#7257be" filter="url(#b4_0)" opacity="0.55"/>
<ellipse cx="68.00" cy="21.00" rx="28.00" ry="5.50" fill="#682b7f" filter="url(#b3_0)" opacity="0.85"/>
<ellipse cx="42.00" cy="9.00" rx="7.00" ry="4.00" fill="#6b3089" filter="url(#b2_0)" opacity="0.68"/>
<ellipse cx="42.00" cy="32.00" rx="7.00" ry="4.00" fill="#6b3089" filter="url(#b2_0)" opacity="0.68"/>
<path d="M33,12 C42,14 52,18 62,21 C52,22 42,26 33,30 Z" fill="#707ad4" filter="url(#b2_0)" opacity="0.72"/>
<path d="M33,13 C38,14 44,17 50,20 C44,18 38,17 33,17 Z" fill="#a7d2e4" filter="url(#b0_8)" opacity="0.9"/>
<path d="M33,18.5 C38,19 44,20 50,21 C44,22 38,22.5 33,23 Z" fill="#b0d8e5" filter="url(#b0_8)" opacity="0.9"/>
<path d="M33,24.5 C38,24.5 44,23 50,22 C44,25 38,27 33,28 Z" fill="#a7d2e4" filter="url(#b0_8)" opacity="0.9"/>
<rect x="17" y="12.5" width="20" height="16.5" rx="3" fill="#87bce1" filter="url(#b1_5)" opacity="0.7"/>
<ellipse cx="27.00" cy="17.40" rx="8.50" ry="1.60" fill="#d3e9ed" filter="url(#b0_8)" opacity="0.95"/>
<ellipse cx="27.00" cy="22.60" rx="8.50" ry="1.60" fill="#d3e9ed" filter="url(#b0_8)" opacity="0.95"/>
<rect x="17.80" y="13.65" width="2.80" height="2.70" fill="#b0d8e5" filter="url(#b1_0)" opacity="0.6"/>
<rect x="20.10" y="13.65" width="2.80" height="2.70" fill="#b0d8e5" filter="url(#b1_0)" opacity="0.6"/>
<rect x="21.95" y="13.70" width="2.70" height="2.60" fill="#b0d8e5" filter="url(#b1_0)" opacity="0.6"/>
<rect x="24.20" y="13.55" width="2.80" height="2.70" fill="#b0d8e5" filter="url(#b1_0)" opacity="0.6"/>
<rect x="28.95" y="13.00" width="2.90" height="3.20" fill="#b0d8e5" transform="rotate(-10 30.40 14.60)" filter="url(#b1_0)" opacity="0.6"/>
<rect x="29.50" y="14.90" width="2.60" height="2.80" fill="#b0d8e5" filter="url(#b1_0)" opacity="0.6"/>
<rect x="26.30" y="18.10" width="2.80" height="2.80" fill="#b0d8e5" filter="url(#b1_0)" opacity="0.6"/>
<rect x="28.70" y="18.30" width="2.80" height="2.80" fill="#b0d8e5" filter="url(#b1_0)" opacity="0.6"/>
<rect x="31.10" y="18.60" width="2.80" height="2.80" fill="#b0d8e5" filter="url(#b1_0)" opacity="0.6"/>
<rect x="33.50" y="19.05" width="2.80" height="2.90" fill="#b0d8e5" filter="url(#b1_0)" opacity="0.6"/>
<rect x="18.00" y="18.50" width="2.60" height="5.00" fill="#b0d8e5" transform="rotate(15 19.30 21.00)" filter="url(#b1_0)" opacity="0.6"/>
<rect x="20.50" y="24.65" width="3.00" height="2.70" fill="#b0d8e5" transform="rotate(-10 22.00 26.00)" filter="url(#b1_0)" opacity="0.6"/>
<rect x="22.50" y="24.35" width="3.00" height="2.70" fill="#b0d8e5" transform="rotate(-10 24.00 25.70)" filter="url(#b1_0)" opacity="0.6"/>
<rect x="24.60" y="24.05" width="3.00" height="2.70" fill="#b0d8e5" transform="rotate(-10 26.10 25.40)" filter="url(#b1_0)" opacity="0.6"/>
<rect x="26.70" y="23.65" width="3.00" height="2.70" fill="#b0d8e5" transform="rotate(-10 28.20 25.00)" filter="url(#b1_0)" opacity="0.6"/>
<rect x="28.80" y="23.25" width="3.00" height="2.70" fill="#b0d8e5" transform="rotate(-10 30.30 24.60)" filter="url(#b1_0)" opacity="0.6"/>
<rect x="33.45" y="21.50" width="2.90" height="4.00" fill="#b0d8e5" filter="url(#b1_0)" opacity="0.6"/>
<rect x="32.25" y="25.25" width="3.30" height="3.30" fill="#b0d8e5" transform="rotate(30 33.90 26.90)" filter="url(#b1_0)" opacity="0.6"/>
<ellipse cx="19.50" cy="15.00" rx="1.90" ry="0.79" fill="#d3e9ed" filter="url(#b0_6)" opacity="0.95"/>
<ellipse cx="21.80" cy="15.00" rx="1.90" ry="0.79" fill="#d3e9ed" filter="url(#b0_6)" opacity="0.95"/>
<ellipse cx="23.60" cy="15.00" rx="1.85" ry="0.74" fill="#d3e9ed" filter="url(#b0_6)" opacity="0.95"/>
<ellipse cx="25.90" cy="14.90" rx="1.90" ry="0.79" fill="#d3e9ed" filter="url(#b0_6)" opacity="0.95"/>
<ellipse cx="30.70" cy="14.60" rx="1.95" ry="1.04" fill="#d3e9ed" filter="url(#b0_6)" opacity="0.95"/>
<ellipse cx="31.10" cy="16.30" rx="1.80" ry="0.84" fill="#d3e9ed" filter="url(#b0_6)" opacity="0.95"/>
<ellipse cx="28.00" cy="19.50" rx="1.90" ry="0.84" fill="#d3e9ed" filter="url(#b0_6)" opacity="0.95"/>
<ellipse cx="30.40" cy="19.70" rx="1.90" ry="0.84" fill="#d3e9ed" filter="url(#b0_6)" opacity="0.95"/>
<ellipse cx="32.80" cy="20.00" rx="1.90" ry="0.84" fill="#d3e9ed" filter="url(#b0_6)" opacity="0.95"/>
<ellipse cx="35.20" cy="20.50" rx="1.90" ry="0.89" fill="#d3e9ed" filter="url(#b0_6)" opacity="0.95"/>
<ellipse cx="19.60" cy="21.00" rx="1.80" ry="1.94" fill="#d3e9ed" filter="url(#b0_6)" opacity="0.95"/>
<ellipse cx="22.30" cy="26.00" rx="2.00" ry="0.79" fill="#d3e9ed" filter="url(#b0_6)" opacity="0.95"/>
<ellipse cx="24.30" cy="25.70" rx="2.00" ry="0.79" fill="#d3e9ed" filter="url(#b0_6)" opacity="0.95"/>
<ellipse cx="26.40" cy="25.40" rx="2.00" ry="0.79" fill="#d3e9ed" filter="url(#b0_6)" opacity="0.95"/>
<ellipse cx="28.50" cy="25.00" rx="2.00" ry="0.79" fill="#d3e9ed" filter="url(#b0_6)" opacity="0.95"/>
<ellipse cx="30.60" cy="24.60" rx="2.00" ry="0.79" fill="#d3e9ed" filter="url(#b0_6)" opacity="0.95"/>
<ellipse cx="35.20" cy="23.50" rx="1.95" ry="1.44" fill="#d3e9ed" filter="url(#b0_6)" opacity="0.95"/>
<ellipse cx="34.20" cy="26.90" rx="2.15" ry="1.09" fill="#d3e9ed" filter="url(#b0_6)" opacity="0.95"/>
<rect x="18.40" y="14.25" width="1.60" height="1.50" fill="#000"/>
<rect x="20.70" y="14.25" width="1.60" height="1.50" fill="#000"/>
<rect x="22.55" y="14.30" width="1.50" height="1.40" fill="#000"/>
<rect x="24.80" y="14.15" width="1.60" height="1.50" fill="#000"/>
<rect x="29.55" y="13.60" width="1.70" height="2.00" fill="#000" transform="rotate(-10 30.40 14.60)"/>
<rect x="30.10" y="15.50" width="1.40" height="1.60" fill="#000"/>
<rect x="26.90" y="18.70" width="1.60" height="1.60" fill="#000"/>
<rect x="29.30" y="18.90" width="1.60" height="1.60" fill="#000"/>
<rect x="31.70" y="19.20" width="1.60" height="1.60" fill="#000"/>
<rect x="34.10" y="19.65" width="1.60" height="1.70" fill="#000"/>
<rect x="18.60" y="19.10" width="1.40" height="3.80" fill="#000" transform="rotate(15 19.30 21.00)"/>
<rect x="21.10" y="25.25" width="1.80" height="1.50" fill="#000" transform="rotate(-10 22.00 26.00)"/>
<rect x="23.10" y="24.95" width="1.80" height="1.50" fill="#000" transform="rotate(-10 24.00 25.70)"/>
<rect x="25.20" y="24.65" width="1.80" height="1.50" fill="#000" transform="rotate(-10 26.10 25.40)"/>
<rect x="27.30" y="24.25" width="1.80" height="1.50" fill="#000" transform="rotate(-10 28.20 25.00)"/>
<rect x="29.40" y="23.85" width="1.80" height="1.50" fill="#000" transform="rotate(-10 30.30 24.60)"/>
<rect x="34.05" y="22.10" width="1.70" height="2.80" fill="#000"/>
<rect x="32.85" y="25.85" width="2.10" height="2.10" fill="#000" transform="rotate(30 33.90 26.90)"/>
<rect x="0.4" y="0.4" width="83.30" height="40.40" fill="none" stroke="#67297b" stroke-width="0.8" opacity="0.7"/>
</g>
<rect x="327.20" y="48.00" width="93.30" height="45.40" fill="none" stroke="#3a3a3a" stroke-width="0.8"/>
<line x1="325.20" y1="51.40" x2="327.20" y2="51.40" stroke="#333" stroke-width="0.8"/>
<line x1="325.20" y1="70.40" x2="327.20" y2="70.40" stroke="#333" stroke-width="0.8"/>
<line x1="325.20" y1="89.40" x2="327.20" y2="89.40" stroke="#333" stroke-width="0.8"/>
<line x1="358.60" y1="93.40" x2="358.60" y2="95.40" stroke="#333" stroke-width="0.8"/>
<line x1="406.40" y1="93.40" x2="406.40" y2="95.40" stroke="#333" stroke-width="0.8"/>
<g transform="translate(331.60 105.75)" clip-path="url(#c21)">
<rect x="0" y="0" width="84.10" height="41.20" fill="url(#g26)"/>
<ellipse cx="18.00" cy="6.00" rx="22.00" ry="8.00" fill="#7255bc" filter="url(#b4_0)" opacity="0.55"/>
<ellipse cx="18.00" cy="36.00" rx="22.00" ry="8.00" fill="#7255bc" filter="url(#b4_0)" opacity="0.55"/>
<ellipse cx="68.00" cy="21.00" rx="28.00" ry="5.50" fill="#682a7d" filter="url(#b3_0)" opacity="0.8"/>
<ellipse cx="42.00" cy="9.00" rx="7.00" ry="4.00" fill="#6a2f87" filter="url(#b2_0)" opacity="0.64"/>
<ellipse cx="42.00" cy="32.00" rx="7.00" ry="4.00" fill="#6a2f87" filter="url(#b2_0)" opacity="0.64"/>
<path d="M33,12 C42,14 52,18 62,21 C52,22 42,26 33,30 Z" fill="#707ad4" filter="url(#b2_0)" opacity="0.64"/>
<path d="M33,13 C38,14 44,17 50,20 C44,18 38,17 33,17 Z" fill="#a7d2e4" filter="url(#b0_8)" opacity="0.8"/>
<path d="M33,18.5 C38,19 44,20 50,21 C44,22 38,22.5 33,23 Z" fill="#b0d8e5" filter="url(#b0_8)" opacity="0.8"/>
<path d="M33,24.5 C38,24.5 44,23 50,22 C44,25 38,27 33,28 Z" fill="#a7d2e4" filter="url(#b0_8)" opacity="0.8"/>
<rect x="17" y="12.5" width="20" height="16.5" rx="3" fill="#87bce1" filter="url(#b1_5)" opacity="0.7"/>
<ellipse cx="27.00" cy="17.40" rx="8.50" ry="1.60" fill="#d3e9ed" filter="url(#b0_8)" opacity="0.95"/>
<ellipse cx="27.00" cy="22.60" rx="8.50" ry="1.60" fill="#d3e9ed" filter="url(#b0_8)" opacity="0.95"/>
<rect x="17.80" y="13.65" width="2.80" height="2.70" fill="#b0d8e5" filter="url(#b1_0)" opacity="0.6"/>
<rect x="20.10" y="13.65" width="2.80" height="2.70" fill="#b0d8e5" filter="url(#b1_0)" opacity="0.6"/>
<rect x="21.95" y="13.70" width="2.70" height="2.60" fill="#b0d8e5" filter="url(#b1_0)" opacity="0.6"/>
<rect x="24.20" y="13.55" width="2.80" height="2.70" fill="#b0d8e5" filter="url(#b1_0)" opacity="0.6"/>
<rect x="28.95" y="13.00" width="2.90" height="3.20" fill="#b0d8e5" transform="rotate(-10 30.40 14.60)" filter="url(#b1_0)" opacity="0.6"/>
<rect x="29.50" y="14.90" width="2.60" height="2.80" fill="#b0d8e5" filter="url(#b1_0)" opacity="0.6"/>
<rect x="26.30" y="18.10" width="2.80" height="2.80" fill="#b0d8e5" filter="url(#b1_0)" opacity="0.6"/>
<rect x="28.70" y="18.30" width="2.80" height="2.80" fill="#b0d8e5" filter="url(#b1_0)" opacity="0.6"/>
<rect x="31.10" y="18.60" width="2.80" height="2.80" fill="#b0d8e5" filter="url(#b1_0)" opacity="0.6"/>
<rect x="33.50" y="19.05" width="2.80" height="2.90" fill="#b0d8e5" filter="url(#b1_0)" opacity="0.6"/>
<rect x="18.00" y="18.50" width="2.60" height="5.00" fill="#b0d8e5" transform="rotate(15 19.30 21.00)" filter="url(#b1_0)" opacity="0.6"/>
<rect x="20.50" y="24.65" width="3.00" height="2.70" fill="#b0d8e5" transform="rotate(-10 22.00 26.00)" filter="url(#b1_0)" opacity="0.6"/>
<rect x="22.50" y="24.35" width="3.00" height="2.70" fill="#b0d8e5" transform="rotate(-10 24.00 25.70)" filter="url(#b1_0)" opacity="0.6"/>
<rect x="24.60" y="24.05" width="3.00" height="2.70" fill="#b0d8e5" transform="rotate(-10 26.10 25.40)" filter="url(#b1_0)" opacity="0.6"/>
<rect x="26.70" y="23.65" width="3.00" height="2.70" fill="#b0d8e5" transform="rotate(-10 28.20 25.00)" filter="url(#b1_0)" opacity="0.6"/>
<rect x="28.80" y="23.25" width="3.00" height="2.70" fill="#b0d8e5" transform="rotate(-10 30.30 24.60)" filter="url(#b1_0)" opacity="0.6"/>
<rect x="33.45" y="21.50" width="2.90" height="4.00" fill="#b0d8e5" filter="url(#b1_0)" opacity="0.6"/>
<rect x="32.25" y="25.25" width="3.30" height="3.30" fill="#b0d8e5" transform="rotate(30 33.90 26.90)" filter="url(#b1_0)" opacity="0.6"/>
<ellipse cx="19.50" cy="15.00" rx="1.90" ry="0.79" fill="#d3e9ed" filter="url(#b0_6)" opacity="0.95"/>
<ellipse cx="21.80" cy="15.00" rx="1.90" ry="0.79" fill="#d3e9ed" filter="url(#b0_6)" opacity="0.95"/>
<ellipse cx="23.60" cy="15.00" rx="1.85" ry="0.74" fill="#d3e9ed" filter="url(#b0_6)" opacity="0.95"/>
<ellipse cx="25.90" cy="14.90" rx="1.90" ry="0.79" fill="#d3e9ed" filter="url(#b0_6)" opacity="0.95"/>
<ellipse cx="30.70" cy="14.60" rx="1.95" ry="1.04" fill="#d3e9ed" filter="url(#b0_6)" opacity="0.95"/>
<ellipse cx="31.10" cy="16.30" rx="1.80" ry="0.84" fill="#d3e9ed" filter="url(#b0_6)" opacity="0.95"/>
<ellipse cx="28.00" cy="19.50" rx="1.90" ry="0.84" fill="#d3e9ed" filter="url(#b0_6)" opacity="0.95"/>
<ellipse cx="30.40" cy="19.70" rx="1.90" ry="0.84" fill="#d3e9ed" filter="url(#b0_6)" opacity="0.95"/>
<ellipse cx="32.80" cy="20.00" rx="1.90" ry="0.84" fill="#d3e9ed" filter="url(#b0_6)" opacity="0.95"/>
<ellipse cx="35.20" cy="20.50" rx="1.90" ry="0.89" fill="#d3e9ed" filter="url(#b0_6)" opacity="0.95"/>
<ellipse cx="19.60" cy="21.00" rx="1.80" ry="1.94" fill="#d3e9ed" filter="url(#b0_6)" opacity="0.95"/>
<ellipse cx="22.30" cy="26.00" rx="2.00" ry="0.79" fill="#d3e9ed" filter="url(#b0_6)" opacity="0.95"/>
<ellipse cx="24.30" cy="25.70" rx="2.00" ry="0.79" fill="#d3e9ed" filter="url(#b0_6)" opacity="0.95"/>
<ellipse cx="26.40" cy="25.40" rx="2.00" ry="0.79" fill="#d3e9ed" filter="url(#b0_6)" opacity="0.95"/>
<ellipse cx="28.50" cy="25.00" rx="2.00" ry="0.79" fill="#d3e9ed" filter="url(#b0_6)" opacity="0.95"/>
<ellipse cx="30.60" cy="24.60" rx="2.00" ry="0.79" fill="#d3e9ed" filter="url(#b0_6)" opacity="0.95"/>
<ellipse cx="35.20" cy="23.50" rx="1.95" ry="1.44" fill="#d3e9ed" filter="url(#b0_6)" opacity="0.95"/>
<ellipse cx="34.20" cy="26.90" rx="2.15" ry="1.09" fill="#d3e9ed" filter="url(#b0_6)" opacity="0.95"/>
<rect x="18.40" y="14.25" width="1.60" height="1.50" fill="#000"/>
<rect x="20.70" y="14.25" width="1.60" height="1.50" fill="#000"/>
<rect x="22.55" y="14.30" width="1.50" height="1.40" fill="#000"/>
<rect x="24.80" y="14.15" width="1.60" height="1.50" fill="#000"/>
<rect x="29.55" y="13.60" width="1.70" height="2.00" fill="#000" transform="rotate(-10 30.40 14.60)"/>
<rect x="30.10" y="15.50" width="1.40" height="1.60" fill="#000"/>
<rect x="26.90" y="18.70" width="1.60" height="1.60" fill="#000"/>
<rect x="29.30" y="18.90" width="1.60" height="1.60" fill="#000"/>
<rect x="31.70" y="19.20" width="1.60" height="1.60" fill="#000"/>
<rect x="34.10" y="19.65" width="1.60" height="1.70" fill="#000"/>
<rect x="18.60" y="19.10" width="1.40" height="3.80" fill="#000" transform="rotate(15 19.30 21.00)"/>
<rect x="21.10" y="25.25" width="1.80" height="1.50" fill="#000" transform="rotate(-10 22.00 26.00)"/>
<rect x="23.10" y="24.95" width="1.80" height="1.50" fill="#000" transform="rotate(-10 24.00 25.70)"/>
<rect x="25.20" y="24.65" width="1.80" height="1.50" fill="#000" transform="rotate(-10 26.10 25.40)"/>
<rect x="27.30" y="24.25" width="1.80" height="1.50" fill="#000" transform="rotate(-10 28.20 25.00)"/>
<rect x="29.40" y="23.85" width="1.80" height="1.50" fill="#000" transform="rotate(-10 30.30 24.60)"/>
<rect x="34.05" y="22.10" width="1.70" height="2.80" fill="#000"/>
<rect x="32.85" y="25.85" width="2.10" height="2.10" fill="#000" transform="rotate(30 33.90 26.90)"/>
<rect x="0.4" y="0.4" width="83.30" height="40.40" fill="none" stroke="#67287a" stroke-width="0.8" opacity="0.7"/>
</g>
<rect x="327.20" y="103.75" width="93.30" height="45.40" fill="none" stroke="#3a3a3a" stroke-width="0.8"/>
<line x1="325.20" y1="107.15" x2="327.20" y2="107.15" stroke="#333" stroke-width="0.8"/>
<line x1="325.20" y1="126.15" x2="327.20" y2="126.15" stroke="#333" stroke-width="0.8"/>
<line x1="325.20" y1="145.15" x2="327.20" y2="145.15" stroke="#333" stroke-width="0.8"/>
<line x1="358.60" y1="149.15" x2="358.60" y2="151.15" stroke="#333" stroke-width="0.8"/>
<line x1="406.40" y1="149.15" x2="406.40" y2="151.15" stroke="#333" stroke-width="0.8"/>
<g transform="translate(331.60 161.50)" clip-path="url(#c22)">
<rect x="0" y="0" width="84.10" height="41.20" fill="url(#g27)"/>
<rect x="0" y="0" width="84.10" height="41.20" fill="#000" filter="url(#n23)"/>
<ellipse cx="18.00" cy="6.00" rx="22.00" ry="8.00" fill="#7254ba" filter="url(#b4_0)" opacity="0.55"/>
<ellipse cx="18.00" cy="36.00" rx="22.00" ry="8.00" fill="#7254ba" filter="url(#b4_0)" opacity="0.55"/>
<ellipse cx="68.00" cy="21.00" rx="28.00" ry="5.50" fill="#67297b" filter="url(#b3_0)" opacity="0.7"/>
<ellipse cx="42.00" cy="9.00" rx="7.00" ry="4.00" fill="#6a2f86" filter="url(#b2_0)" opacity="0.56"/>
<ellipse cx="42.00" cy="32.00" rx="7.00" ry="4.00" fill="#6a2f86" filter="url(#b2_0)" opacity="0.56"/>
<path d="M33,12 C42,14 52,18 62,21 C52,22 42,26 33,30 Z" fill="#707ad4" filter="url(#b2_0)" opacity="0.64"/>
<path d="M33,13 C38,14 44,17 50,20 C44,18 38,17 33,17 Z" fill="#a7d2e4" filter="url(#b0_8)" opacity="0.8"/>
<path d="M33,18.5 C38,19 44,20 50,21 C44,22 38,22.5 33,23 Z" fill="#b0d8e5" filter="url(#b0_8)" opacity="0.8"/>
<path d="M33,24.5 C38,24.5 44,23 50,22 C44,25 38,27 33,28 Z" fill="#a7d2e4" filter="url(#b0_8)" opacity="0.8"/>
<rect x="17" y="12.5" width="20" height="16.5" rx="3" fill="#87bce1" filter="url(#b1_5)" opacity="0.7"/>
<ellipse cx="27.00" cy="17.40" rx="8.50" ry="1.60" fill="#d3e9ed" filter="url(#b0_8)" opacity="0.95"/>
<ellipse cx="27.00" cy="22.60" rx="8.50" ry="1.60" fill="#d3e9ed" filter="url(#b0_8)" opacity="0.95"/>
<rect x="17.80" y="13.65" width="2.80" height="2.70" fill="#b0d8e5" filter="url(#b1_0)" opacity="0.6"/>
<rect x="20.10" y="13.65" width="2.80" height="2.70" fill="#b0d8e5" filter="url(#b1_0)" opacity="0.6"/>
<rect x="21.95" y="13.70" width="2.70" height="2.60" fill="#b0d8e5" filter="url(#b1_0)" opacity="0.6"/>
<rect x="24.20" y="13.55" width="2.80" height="2.70" fill="#b0d8e5" filter="url(#b1_0)" opacity="0.6"/>
<rect x="28.95" y="13.00" width="2.90" height="3.20" fill="#b0d8e5" transform="rotate(-10 30.40 14.60)" filter="url(#b1_0)" opacity="0.6"/>
<rect x="29.50" y="14.90" width="2.60" height="2.80" fill="#b0d8e5" filter="url(#b1_0)" opacity="0.6"/>
<rect x="26.30" y="18.10" width="2.80" height="2.80" fill="#b0d8e5" filter="url(#b1_0)" opacity="0.6"/>
<rect x="28.70" y="18.30" width="2.80" height="2.80" fill="#b0d8e5" filter="url(#b1_0)" opacity="0.6"/>
<rect x="31.10" y="18.60" width="2.80" height="2.80" fill="#b0d8e5" filter="url(#b1_0)" opacity="0.6"/>
<rect x="33.50" y="19.05" width="2.80" height="2.90" fill="#b0d8e5" filter="url(#b1_0)" opacity="0.6"/>
<rect x="18.00" y="18.50" width="2.60" height="5.00" fill="#b0d8e5" transform="rotate(15 19.30 21.00)" filter="url(#b1_0)" opacity="0.6"/>
<rect x="20.50" y="24.65" width="3.00" height="2.70" fill="#b0d8e5" transform="rotate(-10 22.00 26.00)" filter="url(#b1_0)" opacity="0.6"/>
<rect x="22.50" y="24.35" width="3.00" height="2.70" fill="#b0d8e5" transform="rotate(-10 24.00 25.70)" filter="url(#b1_0)" opacity="0.6"/>
<rect x="24.60" y="24.05" width="3.00" height="2.70" fill="#b0d8e5" transform="rotate(-10 26.10 25.40)" filter="url(#b1_0)" opacity="0.6"/>
<rect x="26.70" y="23.65" width="3.00" height="2.70" fill="#b0d8e5" transform="rotate(-10 28.20 25.00)" filter="url(#b1_0)" opacity="0.6"/>
<rect x="28.80" y="23.25" width="3.00" height="2.70" fill="#b0d8e5" transform="rotate(-10 30.30 24.60)" filter="url(#b1_0)" opacity="0.6"/>
<rect x="33.45" y="21.50" width="2.90" height="4.00" fill="#b0d8e5" filter="url(#b1_0)" opacity="0.6"/>
<rect x="32.25" y="25.25" width="3.30" height="3.30" fill="#b0d8e5" transform="rotate(30 33.90 26.90)" filter="url(#b1_0)" opacity="0.6"/>
<ellipse cx="19.50" cy="15.00" rx="1.90" ry="0.79" fill="#d3e9ed" filter="url(#b0_6)" opacity="0.95"/>
<ellipse cx="21.80" cy="15.00" rx="1.90" ry="0.79" fill="#d3e9ed" filter="url(#b0_6)" opacity="0.95"/>
<ellipse cx="23.60" cy="15.00" rx="1.85" ry="0.74" fill="#d3e9ed" filter="url(#b0_6)" opacity="0.95"/>
<ellipse cx="25.90" cy="14.90" rx="1.90" ry="0.79" fill="#d3e9ed" filter="url(#b0_6)" opacity="0.95"/>
<ellipse cx="30.70" cy="14.60" rx="1.95" ry="1.04" fill="#d3e9ed" filter="url(#b0_6)" opacity="0.95"/>
<ellipse cx="31.10" cy="16.30" rx="1.80" ry="0.84" fill="#d3e9ed" filter="url(#b0_6)" opacity="0.95"/>
<ellipse cx="28.00" cy="19.50" rx="1.90" ry="0.84" fill="#d3e9ed" filter="url(#b0_6)" opacity="0.95"/>
<ellipse cx="30.40" cy="19.70" rx="1.90" ry="0.84" fill="#d3e9ed" filter="url(#b0_6)" opacity="0.95"/>
<ellipse cx="32.80" cy="20.00" rx="1.90" ry="0.84" fill="#d3e9ed" filter="url(#b0_6)" opacity="0.95"/>
<ellipse cx="35.20" cy="20.50" rx="1.90" ry="0.89" fill="#d3e9ed" filter="url(#b0_6)" opacity="0.95"/>
<ellipse cx="19.60" cy="21.00" rx="1.80" ry="1.94" fill="#d3e9ed" filter="url(#b0_6)" opacity="0.95"/>
<ellipse cx="22.30" cy="26.00" rx="2.00" ry="0.79" fill="#d3e9ed" filter="url(#b0_6)" opacity="0.95"/>
<ellipse cx="24.30" cy="25.70" rx="2.00" ry="0.79" fill="#d3e9ed" filter="url(#b0_6)" opacity="0.95"/>
<ellipse cx="26.40" cy="25.40" rx="2.00" ry="0.79" fill="#d3e9ed" filter="url(#b0_6)" opacity="0.95"/>
<ellipse cx="28.50" cy="25.00" rx="2.00" ry="0.79" fill="#d3e9ed" filter="url(#b0_6)" opacity="0.95"/>
<ellipse cx="30.60" cy="24.60" rx="2.00" ry="0.79" fill="#d3e9ed" filter="url(#b0_6)" opacity="0.95"/>
<ellipse cx="35.20" cy="23.50" rx="1.95" ry="1.44" fill="#d3e9ed" filter="url(#b0_6)" opacity="0.95"/>
<ellipse cx="34.20" cy="26.90" rx="2.15" ry="1.09" fill="#d3e9ed" filter="url(#b0_6)" opacity="0.95"/>
<rect x="18.40" y="14.25" width="1.60" height="1.50" fill="#000"/>
<rect x="20.70" y="14.25" width="1.60" height="1.50" fill="#000"/>
<rect x="22.55" y="14.30" width="1.50" height="1.40" fill="#000"/>
<rect x="24.80" y="14.15" width="1.60" height="1.50" fill="#000"/>
<rect x="29.55" y="13.60" width="1.70" height="2.00" fill="#000" transform="rotate(-10 30.40 14.60)"/>
<rect x="30.10" y="15.50" width="1.40" height="1.60" fill="#000"/>
<rect x="26.90" y="18.70" width="1.60" height="1.60" fill="#000"/>
<rect x="29.30" y="18.90" width="1.60" height="1.60" fill="#000"/>
<rect x="31.70" y="19.20" width="1.60" height="1.60" fill="#000"/>
<rect x="34.10" y="19.65" width="1.60" height="1.70" fill="#000"/>
<rect x="18.60" y="19.10" width="1.40" height="3.80" fill="#000" transform="rotate(15 19.30 21.00)"/>
<rect x="21.10" y="25.25" width="1.80" height="1.50" fill="#000" transform="rotate(-10 22.00 26.00)"/>
<rect x="23.10" y="24.95" width="1.80" height="1.50" fill="#000" transform="rotate(-10 24.00 25.70)"/>
<rect x="25.20" y="24.65" width="1.80" height="1.50" fill="#000" transform="rotate(-10 26.10 25.40)"/>
<rect x="27.30" y="24.25" width="1.80" height="1.50" fill="#000" transform="rotate(-10 28.20 25.00)"/>
<rect x="29.40" y="23.85" width="1.80" height="1.50" fill="#000" transform="rotate(-10 30.30 24.60)"/>
<rect x="34.05" y="22.10" width="1.70" height="2.80" fill="#000"/>
<rect x="32.85" y="25.85" width="2.10" height="2.10" fill="#000" transform="rotate(30 33.90 26.90)"/>
<rect x="0.4" y="0.4" width="83.30" height="40.40" fill="none" stroke="#662778" stroke-width="0.8" opacity="0.7"/>
</g>
<rect x="327.20" y="159.50" width="93.30" height="45.40" fill="none" stroke="#3a3a3a" stroke-width="0.8"/>
<line x1="325.20" y1="162.90" x2="327.20" y2="162.90" stroke="#333" stroke-width="0.8"/>
<line x1="325.20" y1="181.90" x2="327.20" y2="181.90" stroke="#333" stroke-width="0.8"/>
<line x1="325.20" y1="200.90" x2="327.20" y2="200.90" stroke="#333" stroke-width="0.8"/>
<line x1="358.60" y1="204.90" x2="358.60" y2="206.90" stroke="#333" stroke-width="0.8"/>
<line x1="406.40" y1="204.90" x2="406.40" y2="206.90" stroke="#333" stroke-width="0.8"/>
<g transform="translate(331.60 217.25)" clip-path="url(#c23)">
<rect x="0" y="0" width="84.10" height="41.20" fill="url(#g28)"/>
<rect x="0" y="0" width="84.10" height="41.20" fill="#000" filter="url(#n24)"/>
<ellipse cx="18.00" cy="6.00" rx="22.00" ry="8.00" fill="#7152b8" filter="url(#b4_0)" opacity="0.55"/>
<ellipse cx="18.00" cy="36.00" rx="22.00" ry="8.00" fill="#7152b8" filter="url(#b4_0)" opacity="0.55"/>
<ellipse cx="68.00" cy="21.00" rx="28.00" ry="5.50" fill="#67287a" filter="url(#b3_0)" opacity="0.4"/>
<ellipse cx="42.00" cy="9.00" rx="7.00" ry="4.00" fill="#692e84" filter="url(#b2_0)" opacity="0.32"/>
<ellipse cx="42.00" cy="32.00" rx="7.00" ry="4.00" fill="#692e84" filter="url(#b2_0)" opacity="0.32"/>
<path d="M33,12 C42,14 52,18 62,21 C52,22 42,26 33,30 Z" fill="#707ad4" filter="url(#b2_0)" opacity="0.48"/>
<path d="M33,13 C38,14 44,17 50,20 C44,18 38,17 33,17 Z" fill="#a7d2e4" filter="url(#b0_8)" opacity="0.6"/>
<path d="M33,18.5 C38,19 44,20 50,21 C44,22 38,22.5 33,23 Z" fill="#b0d8e5" filter="url(#b0_8)" opacity="0.6"/>
<path d="M33,24.5 C38,24.5 44,23 50,22 C44,25 38,27 33,28 Z" fill="#a7d2e4" filter="url(#b0_8)" opacity="0.6"/>
<rect x="17" y="12.5" width="20" height="16.5" rx="3" fill="#87bce1" filter="url(#b1_5)" opacity="0.7"/>
<ellipse cx="27.00" cy="17.40" rx="8.50" ry="1.60" fill="#d3e9ed" filter="url(#b0_8)" opacity="0.95"/>
<ellipse cx="27.00" cy="22.60" rx="8.50" ry="1.60" fill="#d3e9ed" filter="url(#b0_8)" opacity="0.95"/>
<rect x="17.80" y="13.65" width="2.80" height="2.70" fill="#b0d8e5" filter="url(#b1_0)" opacity="0.6"/>
<rect x="20.10" y="13.65" width="2.80" height="2.70" fill="#b0d8e5" filter="url(#b1_0)" opacity="0.6"/>
<rect x="21.95" y="13.70" width="2.70" height="2.60" fill="#b0d8e5" filter="url(#b1_0)" opacity="0.6"/>
<rect x="24.20" y="13.55" width="2.80" height="2.70" fill="#b0d8e5" filter="url(#b1_0)" opacity="0.6"/>
<rect x="28.95" y="13.00" width="2.90" height="3.20" fill="#b0d8e5" transform="rotate(-10 30.40 14.60)" filter="url(#b1_0)" opacity="0.6"/>
<rect x="29.50" y="14.90" width="2.60" height="2.80" fill="#b0d8e5" filter="url(#b1_0)" opacity="0.6"/>
<rect x="26.30" y="18.10" width="2.80" height="2.80" fill="#b0d8e5" filter="url(#b1_0)" opacity="0.6"/>
<rect x="28.70" y="18.30" width="2.80" height="2.80" fill="#b0d8e5" filter="url(#b1_0)" opacity="0.6"/>
<rect x="31.10" y="18.60" width="2.80" height="2.80" fill="#b0d8e5" filter="url(#b1_0)" opacity="0.6"/>
<rect x="33.50" y="19.05" width="2.80" height="2.90" fill="#b0d8e5" filter="url(#b1_0)" opacity="0.6"/>
<rect x="18.00" y="18.50" width="2.60" height="5.00" fill="#b0d8e5" transform="rotate(15 19.30 21.00)" filter="url(#b1_0)" opacity="0.6"/>
<rect x="20.50" y="24.65" width="3.00" height="2.70" fill="#b0d8e5" transform="rotate(-10 22.00 26.00)" filter="url(#b1_0)" opacity="0.6"/>
<rect x="22.50" y="24.35" width="3.00" height="2.70" fill="#b0d8e5" transform="rotate(-10 24.00 25.70)" filter="url(#b1_0)" opacity="0.6"/>
<rect x="24.60" y="24.05" width="3.00" height="2.70" fill="#b0d8e5" transform="rotate(-10 26.10 25.40)" filter="url(#b1_0)" opacity="0.6"/>
<rect x="26.70" y="23.65" width="3.00" height="2.70" fill="#b0d8e5" transform="rotate(-10 28.20 25.00)" filter="url(#b1_0)" opacity="0.6"/>
<rect x="28.80" y="23.25" width="3.00" height="2.70" fill="#b0d8e5" transform="rotate(-10 30.30 24.60)" filter="url(#b1_0)" opacity="0.6"/>
<rect x="33.45" y="21.50" width="2.90" height="4.00" fill="#b0d8e5" filter="url(#b1_0)" opacity="0.6"/>
<rect x="32.25" y="25.25" width="3.30" height="3.30" fill="#b0d8e5" transform="rotate(30 33.90 26.90)" filter="url(#b1_0)" opacity="0.6"/>
<ellipse cx="19.50" cy="15.00" rx="1.90" ry="0.79" fill="#d3e9ed" filter="url(#b0_6)" opacity="0.95"/>
<ellipse cx="21.80" cy="15.00" rx="1.90" ry="0.79" fill="#d3e9ed" filter="url(#b0_6)" opacity="0.95"/>
<ellipse cx="23.60" cy="15.00" rx="1.85" ry="0.74" fill="#d3e9ed" filter="url(#b0_6)" opacity="0.95"/>
<ellipse cx="25.90" cy="14.90" rx="1.90" ry="0.79" fill="#d3e9ed" filter="url(#b0_6)" opacity="0.95"/>
<ellipse cx="30.70" cy="14.60" rx="1.95" ry="1.04" fill="#d3e9ed" filter="url(#b0_6)" opacity="0.95"/>
<ellipse cx="31.10" cy="16.30" rx="1.80" ry="0.84" fill="#d3e9ed" filter="url(#b0_6)" opacity="0.95"/>
<ellipse cx="28.00" cy="19.50" rx="1.90" ry="0.84" fill="#d3e9ed" filter="url(#b0_6)" opacity="0.95"/>
<ellipse cx="30.40" cy="19.70" rx="1.90" ry="0.84" fill="#d3e9ed" filter="url(#b0_6)" opacity="0.95"/>
<ellipse cx="32.80" cy="20.00" rx="1.90" ry="0.84" fill="#d3e9ed" filter="url(#b0_6)" opacity="0.95"/>
<ellipse cx="35.20" cy="20.50" rx="1.90" ry="0.89" fill="#d3e9ed" filter="url(#b0_6)" opacity="0.95"/>
<ellipse cx="19.60" cy="21.00" rx="1.80" ry="1.94" fill="#d3e9ed" filter="url(#b0_6)" opacity="0.95"/>
<ellipse cx="22.30" cy="26.00" rx="2.00" ry="0.79" fill="#d3e9ed" filter="url(#b0_6)" opacity="0.95"/>
<ellipse cx="24.30" cy="25.70" rx="2.00" ry="0.79" fill="#d3e9ed" filter="url(#b0_6)" opacity="0.95"/>
<ellipse cx="26.40" cy="25.40" rx="2.00" ry="0.79" fill="#d3e9ed" filter="url(#b0_6)" opacity="0.95"/>
<ellipse cx="28.50" cy="25.00" rx="2.00" ry="0.79" fill="#d3e9ed" filter="url(#b0_6)" opacity="0.95"/>
<ellipse cx="30.60" cy="24.60" rx="2.00" ry="0.79" fill="#d3e9ed" filter="url(#b0_6)" opacity="0.95"/>
<ellipse cx="35.20" cy="23.50" rx="1.95" ry="1.44" fill="#d3e9ed" filter="url(#b0_6)" opacity="0.95"/>
<ellipse cx="34.20" cy="26.90" rx="2.15" ry="1.09" fill="#d3e9ed" filter="url(#b0_6)" opacity="0.95"/>
<rect x="18.40" y="14.25" width="1.60" height="1.50" fill="#000"/>
<rect x="20.70" y="14.25" width="1.60" height="1.50" fill="#000"/>
<rect x="22.55" y="14.30" width="1.50" height="1.40" fill="#000"/>
<rect x="24.80" y="14.15" width="1.60" height="1.50" fill="#000"/>
<rect x="29.55" y="13.60" width="1.70" height="2.00" fill="#000" transform="rotate(-10 30.40 14.60)"/>
<rect x="30.10" y="15.50" width="1.40" height="1.60" fill="#000"/>
<rect x="26.90" y="18.70" width="1.60" height="1.60" fill="#000"/>
<rect x="29.30" y="18.90" width="1.60" height="1.60" fill="#000"/>
<rect x="31.70" y="19.20" width="1.60" height="1.60" fill="#000"/>
<rect x="34.10" y="19.65" width="1.60" height="1.70" fill="#000"/>
<rect x="18.60" y="19.10" width="1.40" height="3.80" fill="#000" transform="rotate(15 19.30 21.00)"/>
<rect x="21.10" y="25.25" width="1.80" height="1.50" fill="#000" transform="rotate(-10 22.00 26.00)"/>
<rect x="23.10" y="24.95" width="1.80" height="1.50" fill="#000" transform="rotate(-10 24.00 25.70)"/>
<rect x="25.20" y="24.65" width="1.80" height="1.50" fill="#000" transform="rotate(-10 26.10 25.40)"/>
<rect x="27.30" y="24.25" width="1.80" height="1.50" fill="#000" transform="rotate(-10 28.20 25.00)"/>
<rect x="29.40" y="23.85" width="1.80" height="1.50" fill="#000" transform="rotate(-10 30.30 24.60)"/>
<rect x="34.05" y="22.10" width="1.70" height="2.80" fill="#000"/>
<rect x="32.85" y="25.85" width="2.10" height="2.10" fill="#000" transform="rotate(30 33.90 26.90)"/>
<rect x="0.4" y="0.4" width="83.30" height="40.40" fill="none" stroke="#662676" stroke-width="0.8" opacity="0.7"/>
</g>
<rect x="327.20" y="215.25" width="93.30" height="45.40" fill="none" stroke="#3a3a3a" stroke-width="0.8"/>
<line x1="325.20" y1="218.65" x2="327.20" y2="218.65" stroke="#333" stroke-width="0.8"/>
<line x1="325.20" y1="237.65" x2="327.20" y2="237.65" stroke="#333" stroke-width="0.8"/>
<line x1="325.20" y1="256.65" x2="327.20" y2="256.65" stroke="#333" stroke-width="0.8"/>
<line x1="358.60" y1="260.65" x2="358.60" y2="262.65" stroke="#333" stroke-width="0.8"/>
<line x1="406.40" y1="260.65" x2="406.40" y2="262.65" stroke="#333" stroke-width="0.8"/>
<g transform="translate(331.60 273.00)" clip-path="url(#c24)">
<rect x="0" y="0" width="84.10" height="41.20" fill="url(#g29)"/>
<ellipse cx="18.00" cy="6.00" rx="22.00" ry="8.00" fill="#7254ba" filter="url(#b4_0)" opacity="0.55"/>
<ellipse cx="18.00" cy="36.00" rx="22.00" ry="8.00" fill="#7254ba" filter="url(#b4_0)" opacity="0.55"/>
<ellipse cx="70.00" cy="21.00" rx="25.00" ry="22.00" fill="#725ac2" filter="url(#b5_0)" opacity="0.7"/>
<ellipse cx="28.00" cy="33.00" rx="5.00" ry="4.00" fill="#662778" filter="url(#b2_0)" opacity="0.8"/>
<ellipse cx="68.00" cy="21.00" rx="28.00" ry="5.50" fill="#67297b" filter="url(#b3_0)" opacity="0.3"/>
<ellipse cx="42.00" cy="9.00" rx="7.00" ry="4.00" fill="#6a2f86" filter="url(#b2_0)" opacity="0.24"/>
<ellipse cx="42.00" cy="32.00" rx="7.00" ry="4.00" fill="#6a2f86" filter="url(#b2_0)" opacity="0.24"/>
<path d="M33,12 C42,14 52,18 62,21 C52,22 42,26 33,30 Z" fill="#707ad4" filter="url(#b2_0)" opacity="0.48"/>
<path d="M33,13 C38,14 44,17 50,20 C44,18 38,17 33,17 Z" fill="#a7d2e4" filter="url(#b0_8)" opacity="0.6"/>
<path d="M33,18.5 C38,19 44,20 50,21 C44,22 38,22.5 33,23 Z" fill="#b0d8e5" filter="url(#b0_8)" opacity="0.6"/>
<path d="M33,24.5 C38,24.5 44,23 50,22 C44,25 38,27 33,28 Z" fill="#a7d2e4" filter="url(#b0_8)" opacity="0.6"/>
<rect x="17" y="12.5" width="20" height="16.5" rx="3" fill="#87bce1" filter="url(#b1_5)" opacity="0.7"/>
<ellipse cx="27.00" cy="17.40" rx="8.50" ry="1.60" fill="#d3e9ed" filter="url(#b0_8)" opacity="0.95"/>
<ellipse cx="27.00" cy="22.60" rx="8.50" ry="1.60" fill="#d3e9ed" filter="url(#b0_8)" opacity="0.95"/>
<rect x="17.80" y="13.65" width="2.80" height="2.70" fill="#b0d8e5" filter="url(#b1_0)" opacity="0.6"/>
<rect x="20.10" y="13.65" width="2.80" height="2.70" fill="#b0d8e5" filter="url(#b1_0)" opacity="0.6"/>
<rect x="21.95" y="13.70" width="2.70" height="2.60" fill="#b0d8e5" filter="url(#b1_0)" opacity="0.6"/>
<rect x="24.20" y="13.55" width="2.80" height="2.70" fill="#b0d8e5" filter="url(#b1_0)" opacity="0.6"/>
<rect x="28.95" y="13.00" width="2.90" height="3.20" fill="#b0d8e5" transform="rotate(-10 30.40 14.60)" filter="url(#b1_0)" opacity="0.6"/>
<rect x="29.50" y="14.90" width="2.60" height="2.80" fill="#b0d8e5" filter="url(#b1_0)" opacity="0.6"/>
<rect x="26.30" y="18.10" width="2.80" height="2.80" fill="#b0d8e5" filter="url(#b1_0)" opacity="0.6"/>
<rect x="28.70" y="18.30" width="2.80" height="2.80" fill="#b0d8e5" filter="url(#b1_0)" opacity="0.6"/>
<rect x="31.10" y="18.60" width="2.80" height="2.80" fill="#b0d8e5" filter="url(#b1_0)" opacity="0.6"/>
<rect x="33.50" y="19.05" width="2.80" height="2.90" fill="#b0d8e5" filter="url(#b1_0)" opacity="0.6"/>
<rect x="18.00" y="18.50" width="2.60" height="5.00" fill="#b0d8e5" transform="rotate(15 19.30 21.00)" filter="url(#b1_0)" opacity="0.6"/>
<rect x="20.50" y="24.65" width="3.00" height="2.70" fill="#b0d8e5" transform="rotate(-10 22.00 26.00)" filter="url(#b1_0)" opacity="0.6"/>
<rect x="22.50" y="24.35" width="3.00" height="2.70" fill="#b0d8e5" transform="rotate(-10 24.00 25.70)" filter="url(#b1_0)" opacity="0.6"/>
<rect x="24.60" y="24.05" width="3.00" height="2.70" fill="#b0d8e5" transform="rotate(-10 26.10 25.40)" filter="url(#b1_0)" opacity="0.6"/>
<rect x="26.70" y="23.65" width="3.00" height="2.70" fill="#b0d8e5" transform="rotate(-10 28.20 25.00)" filter="url(#b1_0)" opacity="0.6"/>
<rect x="28.80" y="23.25" width="3.00" height="2.70" fill="#b0d8e5" transform="rotate(-10 30.30 24.60)" filter="url(#b1_0)" opacity="0.6"/>
<rect x="33.45" y="21.50" width="2.90" height="4.00" fill="#b0d8e5" filter="url(#b1_0)" opacity="0.6"/>
<rect x="32.25" y="25.25" width="3.30" height="3.30" fill="#b0d8e5" transform="rotate(30 33.90 26.90)" filter="url(#b1_0)" opacity="0.6"/>
<ellipse cx="19.50" cy="15.00" rx="1.90" ry="0.79" fill="#d3e9ed" filter="url(#b0_6)" opacity="0.95"/>
<ellipse cx="21.80" cy="15.00" rx="1.90" ry="0.79" fill="#d3e9ed" filter="url(#b0_6)" opacity="0.95"/>
<ellipse cx="23.60" cy="15.00" rx="1.85" ry="0.74" fill="#d3e9ed" filter="url(#b0_6)" opacity="0.95"/>
<ellipse cx="25.90" cy="14.90" rx="1.90" ry="0.79" fill="#d3e9ed" filter="url(#b0_6)" opacity="0.95"/>
<ellipse cx="30.70" cy="14.60" rx="1.95" ry="1.04" fill="#d3e9ed" filter="url(#b0_6)" opacity="0.95"/>
<ellipse cx="31.10" cy="16.30" rx="1.80" ry="0.84" fill="#d3e9ed" filter="url(#b0_6)" opacity="0.95"/>
<ellipse cx="28.00" cy="19.50" rx="1.90" ry="0.84" fill="#d3e9ed" filter="url(#b0_6)" opacity="0.95"/>
<ellipse cx="30.40" cy="19.70" rx="1.90" ry="0.84" fill="#d3e9ed" filter="url(#b0_6)" opacity="0.95"/>
<ellipse cx="32.80" cy="20.00" rx="1.90" ry="0.84" fill="#d3e9ed" filter="url(#b0_6)" opacity="0.95"/>
<ellipse cx="35.20" cy="20.50" rx="1.90" ry="0.89" fill="#d3e9ed" filter="url(#b0_6)" opacity="0.95"/>
<ellipse cx="19.60" cy="21.00" rx="1.80" ry="1.94" fill="#d3e9ed" filter="url(#b0_6)" opacity="0.95"/>
<ellipse cx="22.30" cy="26.00" rx="2.00" ry="0.79" fill="#d3e9ed" filter="url(#b0_6)" opacity="0.95"/>
<ellipse cx="24.30" cy="25.70" rx="2.00" ry="0.79" fill="#d3e9ed" filter="url(#b0_6)" opacity="0.95"/>
<ellipse cx="26.40" cy="25.40" rx="2.00" ry="0.79" fill="#d3e9ed" filter="url(#b0_6)" opacity="0.95"/>
<ellipse cx="28.50" cy="25.00" rx="2.00" ry="0.79" fill="#d3e9ed" filter="url(#b0_6)" opacity="0.95"/>
<ellipse cx="30.60" cy="24.60" rx="2.00" ry="0.79" fill="#d3e9ed" filter="url(#b0_6)" opacity="0.95"/>
<ellipse cx="35.20" cy="23.50" rx="1.95" ry="1.44" fill="#d3e9ed" filter="url(#b0_6)" opacity="0.95"/>
<ellipse cx="34.20" cy="26.90" rx="2.15" ry="1.09" fill="#d3e9ed" filter="url(#b0_6)" opacity="0.95"/>
<rect x="18.40" y="14.25" width="1.60" height="1.50" fill="#000"/>
<rect x="20.70" y="14.25" width="1.60" height="1.50" fill="#000"/>
<rect x="22.55" y="14.30" width="1.50" height="1.40" fill="#000"/>
<rect x="24.80" y="14.15" width="1.60" height="1.50" fill="#000"/>
<rect x="29.55" y="13.60" width="1.70" height="2.00" fill="#000" transform="rotate(-10 30.40 14.60)"/>
<rect x="30.10" y="15.50" width="1.40" height="1.60" fill="#000"/>
<rect x="26.90" y="18.70" width="1.60" height="1.60" fill="#000"/>
<rect x="29.30" y="18.90" width="1.60" height="1.60" fill="#000"/>
<rect x="31.70" y="19.20" width="1.60" height="1.60" fill="#000"/>
<rect x="34.10" y="19.65" width="1.60" height="1.70" fill="#000"/>
<rect x="18.60" y="19.10" width="1.40" height="3.80" fill="#000" transform="rotate(15 19.30 21.00)"/>
<rect x="21.10" y="25.25" width="1.80" height="1.50" fill="#000" transform="rotate(-10 22.00 26.00)"/>
<rect x="23.10" y="24.95" width="1.80" height="1.50" fill="#000" transform="rotate(-10 24.00 25.70)"/>
<rect x="25.20" y="24.65" width="1.80" height="1.50" fill="#000" transform="rotate(-10 26.10 25.40)"/>
<rect x="27.30" y="24.25" width="1.80" height="1.50" fill="#000" transform="rotate(-10 28.20 25.00)"/>
<rect x="29.40" y="23.85" width="1.80" height="1.50" fill="#000" transform="rotate(-10 30.30 24.60)"/>
<rect x="34.05" y="22.10" width="1.70" height="2.80" fill="#000"/>
<rect x="32.85" y="25.85" width="2.10" height="2.10" fill="#000" transform="rotate(30 33.90 26.90)"/>
<rect x="0.4" y="0.4" width="83.30" height="40.40" fill="none" stroke="#662778" stroke-width="0.8" opacity="0.7"/>
</g>
<rect x="327.20" y="271.00" width="93.30" height="45.40" fill="none" stroke="#3a3a3a" stroke-width="0.8"/>
<line x1="325.20" y1="274.40" x2="327.20" y2="274.40" stroke="#333" stroke-width="0.8"/>
<line x1="325.20" y1="293.40" x2="327.20" y2="293.40" stroke="#333" stroke-width="0.8"/>
<line x1="325.20" y1="312.40" x2="327.20" y2="312.40" stroke="#333" stroke-width="0.8"/>
<line x1="358.60" y1="316.40" x2="358.60" y2="318.40" stroke="#333" stroke-width="0.8"/>
<line x1="406.40" y1="316.40" x2="406.40" y2="318.40" stroke="#333" stroke-width="0.8"/>
<g transform="translate(331.60 328.75)" clip-path="url(#c25)">
<rect x="0" y="0" width="84.10" height="41.20" fill="url(#g30)"/>
<rect x="0" y="0" width="84.10" height="41.20" fill="#000" filter="url(#n26)"/>
<ellipse cx="18.00" cy="6.00" rx="22.00" ry="8.00" fill="#735dc6" filter="url(#b4_0)" opacity="0.55"/>
<ellipse cx="18.00" cy="36.00" rx="22.00" ry="8.00" fill="#735dc6" filter="url(#b4_0)" opacity="0.55"/>
<ellipse cx="68.00" cy="21.00" rx="28.00" ry="5.50" fill="#6a2f86" filter="url(#b3_0)" opacity="0.3"/>
<ellipse cx="42.00" cy="9.00" rx="7.00" ry="4.00" fill="#6d3490" filter="url(#b2_0)" opacity="0.24"/>
<ellipse cx="42.00" cy="32.00" rx="7.00" ry="4.00" fill="#6d3490" filter="url(#b2_0)" opacity="0.24"/>
<path d="M33,12 C42,14 52,18 62,21 C52,22 42,26 33,30 Z" fill="#707ad4" filter="url(#b2_0)" opacity="0.56"/>
<path d="M33,13 C38,14 44,17 50,20 C44,18 38,17 33,17 Z" fill="#a7d2e4" filter="url(#b0_8)" opacity="0.7"/>
<path d="M33,18.5 C38,19 44,20 50,21 C44,22 38,22.5 33,23 Z" fill="#b0d8e5" filter="url(#b0_8)" opacity="0.7"/>
<path d="M33,24.5 C38,24.5 44,23 50,22 C44,25 38,27 33,28 Z" fill="#a7d2e4" filter="url(#b0_8)" opacity="0.7"/>
<rect x="17" y="12.5" width="20" height="16.5" rx="3" fill="#87bce1" filter="url(#b1_5)" opacity="0.7"/>
<ellipse cx="27.00" cy="17.40" rx="8.50" ry="1.60" fill="#d3e9ed" filter="url(#b0_8)" opacity="0.95"/>
<ellipse cx="27.00" cy="22.60" rx="8.50" ry="1.60" fill="#d3e9ed" filter="url(#b0_8)" opacity="0.95"/>
<rect x="17.80" y="13.65" width="2.80" height="2.70" fill="#b0d8e5" filter="url(#b1_0)" opacity="0.6"/>
<rect x="20.10" y="13.65" width="2.80" height="2.70" fill="#b0d8e5" filter="url(#b1_0)" opacity="0.6"/>
<rect x="21.95" y="13.70" width="2.70" height="2.60" fill="#b0d8e5" filter="url(#b1_0)" opacity="0.6"/>
<rect x="24.20" y="13.55" width="2.80" height="2.70" fill="#b0d8e5" filter="url(#b1_0)" opacity="0.6"/>
<rect x="28.95" y="13.00" width="2.90" height="3.20" fill="#b0d8e5" transform="rotate(-10 30.40 14.60)" filter="url(#b1_0)" opacity="0.6"/>
<rect x="29.50" y="14.90" width="2.60" height="2.80" fill="#b0d8e5" filter="url(#b1_0)" opacity="0.6"/>
<rect x="26.30" y="18.10" width="2.80" height="2.80" fill="#b0d8e5" filter="url(#b1_0)" opacity="0.6"/>
<rect x="28.70" y="18.30" width="2.80" height="2.80" fill="#b0d8e5" filter="url(#b1_0)" opacity="0.6"/>
<rect x="31.10" y="18.60" width="2.80" height="2.80" fill="#b0d8e5" filter="url(#b1_0)" opacity="0.6"/>
<rect x="33.50" y="19.05" width="2.80" height="2.90" fill="#b0d8e5" filter="url(#b1_0)" opacity="0.6"/>
<rect x="18.00" y="18.50" width="2.60" height="5.00" fill="#b0d8e5" transform="rotate(15 19.30 21.00)" filter="url(#b1_0)" opacity="0.6"/>
<rect x="20.50" y="24.65" width="3.00" height="2.70" fill="#b0d8e5" transform="rotate(-10 22.00 26.00)" filter="url(#b1_0)" opacity="0.6"/>
<rect x="22.50" y="24.35" width="3.00" height="2.70" fill="#b0d8e5" transform="rotate(-10 24.00 25.70)" filter="url(#b1_0)" opacity="0.6"/>
<rect x="24.60" y="24.05" width="3.00" height="2.70" fill="#b0d8e5" transform="rotate(-10 26.10 25.40)" filter="url(#b1_0)" opacity="0.6"/>
<rect x="26.70" y="23.65" width="3.00" height="2.70" fill="#b0d8e5" transform="rotate(-10 28.20 25.00)" filter="url(#b1_0)" opacity="0.6"/>
<rect x="28.80" y="23.25" width="3.00" height="2.70" fill="#b0d8e5" transform="rotate(-10 30.30 24.60)" filter="url(#b1_0)" opacity="0.6"/>
<rect x="33.45" y="21.50" width="2.90" height="4.00" fill="#b0d8e5" filter="url(#b1_0)" opacity="0.6"/>
<rect x="32.25" y="25.25" width="3.30" height="3.30" fill="#b0d8e5" transform="rotate(30 33.90 26.90)" filter="url(#b1_0)" opacity="0.6"/>
<ellipse cx="19.50" cy="15.00" rx="1.90" ry="0.79" fill="#d3e9ed" filter="url(#b0_6)" opacity="0.95"/>
<ellipse cx="21.80" cy="15.00" rx="1.90" ry="0.79" fill="#d3e9ed" filter="url(#b0_6)" opacity="0.95"/>
<ellipse cx="23.60" cy="15.00" rx="1.85" ry="0.74" fill="#d3e9ed" filter="url(#b0_6)" opacity="0.95"/>
<ellipse cx="25.90" cy="14.90" rx="1.90" ry="0.79" fill="#d3e9ed" filter="url(#b0_6)" opacity="0.95"/>
<ellipse cx="30.70" cy="14.60" rx="1.95" ry="1.04" fill="#d3e9ed" filter="url(#b0_6)" opacity="0.95"/>
<ellipse cx="31.10" cy="16.30" rx="1.80" ry="0.84" fill="#d3e9ed" filter="url(#b0_6)" opacity="0.95"/>
<ellipse cx="28.00" cy="19.50" rx="1.90" ry="0.84" fill="#d3e9ed" filter="url(#b0_6)" opacity="0.95"/>
<ellipse cx="30.40" cy="19.70" rx="1.90" ry="0.84" fill="#d3e9ed" filter="url(#b0_6)" opacity="0.95"/>
<ellipse cx="32.80" cy="20.00" rx="1.90" ry="0.84" fill="#d3e9ed" filter="url(#b0_6)" opacity="0.95"/>
<ellipse cx="35.20" cy="20.50" rx="1.90" ry="0.89" fill="#d3e9ed" filter="url(#b0_6)" opacity="0.95"/>
<ellipse cx="19.60" cy="21.00" rx="1.80" ry="1.94" fill="#d3e9ed" filter="url(#b0_6)" opacity="0.95"/>
<ellipse cx="22.30" cy="26.00" rx="2.00" ry="0.79" fill="#d3e9ed" filter="url(#b0_6)" opacity="0.95"/>
<ellipse cx="24.30" cy="25.70" rx="2.00" ry="0.79" fill="#d3e9ed" filter="url(#b0_6)" opacity="0.95"/>
<ellipse cx="26.40" cy="25.40" rx="2.00" ry="0.79" fill="#d3e9ed" filter="url(#b0_6)" opacity="0.95"/>
<ellipse cx="28.50" cy="25.00" rx="2.00" ry="0.79" fill="#d3e9ed" filter="url(#b0_6)" opacity="0.95"/>
<ellipse cx="30.60" cy="24.60" rx="2.00" ry="0.79" fill="#d3e9ed" filter="url(#b0_6)" opacity="0.95"/>
<ellipse cx="35.20" cy="23.50" rx="1.95" ry="1.44" fill="#d3e9ed" filter="url(#b0_6)" opacity="0.95"/>
<ellipse cx="34.20" cy="26.90" rx="2.15" ry="1.09" fill="#d3e9ed" filter="url(#b0_6)" opacity="0.95"/>
<rect x="18.40" y="14.25" width="1.60" height="1.50" fill="#000"/>
<rect x="20.70" y="14.25" width="1.60" height="1.50" fill="#000"/>
<rect x="22.55" y="14.30" width="1.50" height="1.40" fill="#000"/>
<rect x="24.80" y="14.15" width="1.60" height="1.50" fill="#000"/>
<rect x="29.55" y="13.60" width="1.70" height="2.00" fill="#000" transform="rotate(-10 30.40 14.60)"/>
<rect x="30.10" y="15.50" width="1.40" height="1.60" fill="#000"/>
<rect x="26.90" y="18.70" width="1.60" height="1.60" fill="#000"/>
<rect x="29.30" y="18.90" width="1.60" height="1.60" fill="#000"/>
<rect x="31.70" y="19.20" width="1.60" height="1.60" fill="#000"/>
<rect x="34.10" y="19.65" width="1.60" height="1.70" fill="#000"/>
<rect x="18.60" y="19.10" width="1.40" height="3.80" fill="#000" transform="rotate(15 19.30 21.00)"/>
<rect x="21.10" y="25.25" width="1.80" height="1.50" fill="#000" transform="rotate(-10 22.00 26.00)"/>
<rect x="23.10" y="24.95" width="1.80" height="1.50" fill="#000" transform="rotate(-10 24.00 25.70)"/>
<rect x="25.20" y="24.65" width="1.80" height="1.50" fill="#000" transform="rotate(-10 26.10 25.40)"/>
<rect x="27.30" y="24.25" width="1.80" height="1.50" fill="#000" transform="rotate(-10 28.20 25.00)"/>
<rect x="29.40" y="23.85" width="1.80" height="1.50" fill="#000" transform="rotate(-10 30.30 24.60)"/>
<rect x="34.05" y="22.10" width="1.70" height="2.80" fill="#000"/>
<rect x="32.85" y="25.85" width="2.10" height="2.10" fill="#000" transform="rotate(30 33.90 26.90)"/>
<rect x="0.4" y="0.4" width="83.30" height="40.40" fill="none" stroke="#692d82" stroke-width="0.8" opacity="0.7"/>
</g>
<rect x="327.20" y="326.75" width="93.30" height="45.40" fill="none" stroke="#3a3a3a" stroke-width="0.8"/>
<line x1="325.20" y1="330.15" x2="327.20" y2="330.15" stroke="#333" stroke-width="0.8"/>
<line x1="325.20" y1="349.15" x2="327.20" y2="349.15" stroke="#333" stroke-width="0.8"/>
<line x1="325.20" y1="368.15" x2="327.20" y2="368.15" stroke="#333" stroke-width="0.8"/>
<line x1="358.60" y1="372.15" x2="358.60" y2="374.15" stroke="#333" stroke-width="0.8"/>
<line x1="406.40" y1="372.15" x2="406.40" y2="374.15" stroke="#333" stroke-width="0.8"/>
<text x="358.90" y="383.5" class="k" text-anchor="middle">0 m</text>
<text x="406.70" y="383.5" class="k" text-anchor="middle">250 m</text>
<g transform="translate(463.00 50.00)" clip-path="url(#c30)">
<rect x="0" y="0" width="84.10" height="41.20" fill="url(#g31)"/>
<ellipse cx="62.00" cy="5.00" rx="30.00" ry="6.00" fill="#739bdf" filter="url(#b4_0)" opacity="0.55"/>
<ellipse cx="62.00" cy="37.00" rx="30.00" ry="6.00" fill="#739bdf" filter="url(#b4_0)" opacity="0.55"/>
<path d="M26,8.8 C38,8.8 48,11 60,13.5 S78,16 88,16.5" fill="none" stroke="#735dc6" stroke-width="4" stroke-linecap="round" filter="url(#b1_8)" opacity="0.6375"/>
<path d="M18.6,14 C18.6,10.5 21,8.2 27,8.6" fill="none" stroke="#6a2f86" stroke-width="2.6" stroke-linecap="round" filter="url(#b0_9)" opacity="0.7125"/>
<path d="M28,33.5 C40,32 55,29.5 88,27" fill="none" stroke="#7266cb" stroke-width="4" stroke-linecap="round" filter="url(#b1_8)" opacity="0.44"/>
<path d="M19.2,28 C19.5,32 22.5,34.8 28.5,34" fill="none" stroke="#6a2f86" stroke-width="2.6" stroke-linecap="round" filter="url(#b0_9)" opacity="0.5225"/>
<path d="M20.3,11 C19.8,18 20,25 20.6,30" fill="none" stroke="#6d3694" stroke-width="1.5" stroke-linecap="round" filter="url(#b0_8)" opacity="0.525"/>
<ellipse cx="12.50" cy="22.00" rx="4.50" ry="7.00" fill="#99cae3" filter="url(#b2_0)" opacity="0.5"/>
<ellipse cx="15.20" cy="22.00" rx="2.20" ry="5.00" fill="#d3e9ed" filter="url(#b1_4)" opacity="0.95"/>
<path d="M35,14.5 L44.4,22 L35,29 Z" fill="#9dcde3" filter="url(#b1_5)" opacity="0.665"/>
<path d="M35,15 L44.4,22 M35,28.5 L44.4,22" fill="none" stroke="#cee6ec" stroke-width="1.5" stroke-linecap="round" filter="url(#b1_0)" opacity="0.855"/>
<ellipse cx="50.40" cy="22.20" rx="9.00" ry="1.70" fill="#d3e9ed" filter="url(#b1_0)" opacity="0.9025"/>
<path d="M44.4,22.2 C54.4,22.3 66.0,22.4 80,22.5" fill="none" stroke="#badde7" stroke-width="2" stroke-linecap="round" filter="url(#b1_0)" opacity="0.76"/>
<ellipse cx="28.00" cy="20.00" rx="9.00" ry="10.50" fill="#cee6ec" filter="url(#b1_3)" opacity="0.95"/>
<rect x="21.95" y="11.45" width="3.90" height="1.50" fill="#000"/>
<rect x="21.45" y="12.95" width="3.70" height="16.10" fill="#000" transform="rotate(2 23.30 21.00)"/>
<rect x="19.10" y="23.55" width="2.00" height="5.30" fill="#000"/>
<rect x="18.95" y="11.65" width="1.30" height="1.30" fill="#000"/>
<rect x="29.30" y="12.45" width="1.80" height="2.10" fill="#000"/>
<rect x="33.65" y="13.75" width="1.50" height="1.50" fill="#000"/>
<rect x="26.60" y="15.80" width="2.00" height="2.00" fill="#000"/>
<rect x="31.35" y="16.30" width="2.30" height="2.80" fill="#000"/>
<rect x="29.40" y="21.15" width="1.60" height="1.70" fill="#000"/>
<rect x="29.60" y="23.40" width="1.80" height="1.60" fill="#000"/>
<rect x="26.95" y="26.60" width="1.90" height="1.80" fill="#000"/>
<rect x="29.55" y="26.60" width="1.90" height="1.80" fill="#000"/>
<rect x="32.05" y="26.30" width="2.10" height="1.80" fill="#000"/>
<rect x="34.50" y="26.30" width="1.80" height="1.80" fill="#000"/>
<rect x="0.4" y="0.4" width="83.30" height="40.40" fill="none" stroke="#6f8cdc" stroke-width="0.8" opacity="0.7"/>
</g>
<rect x="458.60" y="48.00" width="93.30" height="45.40" fill="none" stroke="#3a3a3a" stroke-width="0.8"/>
<line x1="456.60" y1="51.40" x2="458.60" y2="51.40" stroke="#333" stroke-width="0.8"/>
<line x1="456.60" y1="70.40" x2="458.60" y2="70.40" stroke="#333" stroke-width="0.8"/>
<line x1="456.60" y1="89.40" x2="458.60" y2="89.40" stroke="#333" stroke-width="0.8"/>
<line x1="490.00" y1="93.40" x2="490.00" y2="95.40" stroke="#333" stroke-width="0.8"/>
<line x1="537.80" y1="93.40" x2="537.80" y2="95.40" stroke="#333" stroke-width="0.8"/>
<g transform="translate(463.00 105.75)" clip-path="url(#c31)">
<rect x="0" y="0" width="84.10" height="41.20" fill="url(#g32)"/>
<ellipse cx="62.00" cy="5.00" rx="30.00" ry="6.00" fill="#739bdf" filter="url(#b4_0)" opacity="0.55"/>
<ellipse cx="62.00" cy="37.00" rx="30.00" ry="6.00" fill="#739bdf" filter="url(#b4_0)" opacity="0.55"/>
<path d="M26,8.8 C38,8.8 48,11 60,13.5 S78,16 88,16.5" fill="none" stroke="#735dc6" stroke-width="4" stroke-linecap="round" filter="url(#b1_8)" opacity="0.5525"/>
<path d="M18.6,14 C18.6,10.5 21,8.2 27,8.6" fill="none" stroke="#6a2f86" stroke-width="2.6" stroke-linecap="round" filter="url(#b0_9)" opacity="0.6175"/>
<path d="M28,33.5 C40,32 55,29.5 88,27" fill="none" stroke="#7266cb" stroke-width="4" stroke-linecap="round" filter="url(#b1_8)" opacity="0.48"/>
<path d="M19.2,28 C19.5,32 22.5,34.8 28.5,34" fill="none" stroke="#6a2f86" stroke-width="2.6" stroke-linecap="round" filter="url(#b0_9)" opacity="0.57"/>
<path d="M20.3,11 C19.8,18 20,25 20.6,30" fill="none" stroke="#6d3694" stroke-width="1.5" stroke-linecap="round" filter="url(#b0_8)" opacity="0.455"/>
<ellipse cx="12.50" cy="22.00" rx="4.50" ry="7.00" fill="#99cae3" filter="url(#b2_0)" opacity="0.5"/>
<ellipse cx="15.20" cy="22.00" rx="2.20" ry="5.00" fill="#d3e9ed" filter="url(#b1_4)" opacity="0.95"/>
<path d="M35,14.5 L45.0,22 L35,29 Z" fill="#9dcde3" filter="url(#b1_5)" opacity="0.665"/>
<path d="M35,15 L45.0,22 M35,28.5 L45.0,22" fill="none" stroke="#cee6ec" stroke-width="1.5" stroke-linecap="round" filter="url(#b1_0)" opacity="0.855"/>
<ellipse cx="50.96" cy="22.20" rx="9.00" ry="1.70" fill="#d3e9ed" filter="url(#b1_0)" opacity="0.9025"/>
<path d="M45.0,22.2 C55.0,22.3 68.0,22.4 82,22.5" fill="none" stroke="#badde7" stroke-width="2" stroke-linecap="round" filter="url(#b1_0)" opacity="0.76"/>
<ellipse cx="28.00" cy="20.00" rx="9.00" ry="10.50" fill="#cee6ec" filter="url(#b1_3)" opacity="0.95"/>
<rect x="21.95" y="11.45" width="3.90" height="1.50" fill="#000"/>
<rect x="21.45" y="12.95" width="3.70" height="16.10" fill="#000" transform="rotate(2 23.30 21.00)"/>
<rect x="19.10" y="23.55" width="2.00" height="5.30" fill="#000"/>
<rect x="18.95" y="11.65" width="1.30" height="1.30" fill="#000"/>
<rect x="29.30" y="12.45" width="1.80" height="2.10" fill="#000"/>
<rect x="33.65" y="13.75" width="1.50" height="1.50" fill="#000"/>
<rect x="26.60" y="15.80" width="2.00" height="2.00" fill="#000"/>
<rect x="31.35" y="16.30" width="2.30" height="2.80" fill="#000"/>
<rect x="29.40" y="21.15" width="1.60" height="1.70" fill="#000"/>
<rect x="29.60" y="23.40" width="1.80" height="1.60" fill="#000"/>
<rect x="26.95" y="26.60" width="1.90" height="1.80" fill="#000"/>
<rect x="29.55" y="26.60" width="1.90" height="1.80" fill="#000"/>
<rect x="32.05" y="26.30" width="2.10" height="1.80" fill="#000"/>
<rect x="34.50" y="26.30" width="1.80" height="1.80" fill="#000"/>
<rect x="0.4" y="0.4" width="83.30" height="40.40" fill="none" stroke="#6f8cdc" stroke-width="0.8" opacity="0.7"/>
</g>
<rect x="458.60" y="103.75" width="93.30" height="45.40" fill="none" stroke="#3a3a3a" stroke-width="0.8"/>
<line x1="456.60" y1="107.15" x2="458.60" y2="107.15" stroke="#333" stroke-width="0.8"/>
<line x1="456.60" y1="126.15" x2="458.60" y2="126.15" stroke="#333" stroke-width="0.8"/>
<line x1="456.60" y1="145.15" x2="458.60" y2="145.15" stroke="#333" stroke-width="0.8"/>
<line x1="490.00" y1="149.15" x2="490.00" y2="151.15" stroke="#333" stroke-width="0.8"/>
<line x1="537.80" y1="149.15" x2="537.80" y2="151.15" stroke="#333" stroke-width="0.8"/>
<g transform="translate(463.00 161.50)" clip-path="url(#c32)">
<rect x="0" y="0" width="84.10" height="41.20" fill="url(#g33)"/>
<ellipse cx="62.00" cy="5.00" rx="30.00" ry="6.00" fill="#7298df" filter="url(#b4_0)" opacity="0.55"/>
<ellipse cx="62.00" cy="37.00" rx="30.00" ry="6.00" fill="#7298df" filter="url(#b4_0)" opacity="0.55"/>
<path d="M26,8.8 C38,8.8 48,11 60,13.5 S78,16 88,16.5" fill="none" stroke="#735dc6" stroke-width="4" stroke-linecap="round" filter="url(#b1_8)" opacity="0.595"/>
<path d="M18.6,14 C18.6,10.5 21,8.2 27,8.6" fill="none" stroke="#6a2f86" stroke-width="2.6" stroke-linecap="round" filter="url(#b0_9)" opacity="0.665"/>
<path d="M28,33.5 C40,32 55,29.5 88,27" fill="none" stroke="#7266cb" stroke-width="4" stroke-linecap="round" filter="url(#b1_8)" opacity="0.48"/>
<path d="M19.2,28 C19.5,32 22.5,34.8 28.5,34" fill="none" stroke="#6a2f86" stroke-width="2.6" stroke-linecap="round" filter="url(#b0_9)" opacity="0.57"/>
<path d="M20.3,11 C19.8,18 20,25 20.6,30" fill="none" stroke="#6d3694" stroke-width="1.5" stroke-linecap="round" filter="url(#b0_8)" opacity="0.49"/>
<ellipse cx="12.50" cy="22.00" rx="4.50" ry="7.00" fill="#99cae3" filter="url(#b2_0)" opacity="0.5"/>
<ellipse cx="15.20" cy="22.00" rx="2.20" ry="5.00" fill="#d3e9ed" filter="url(#b1_4)" opacity="0.95"/>
<path d="M35,14.5 L45.5,22 L35,29 Z" fill="#9dcde3" filter="url(#b1_5)" opacity="0.63"/>
<path d="M35,15 L45.5,22 M35,28.5 L45.5,22" fill="none" stroke="#cee6ec" stroke-width="1.5" stroke-linecap="round" filter="url(#b1_0)" opacity="0.81"/>
<ellipse cx="51.52" cy="22.20" rx="9.00" ry="1.70" fill="#d3e9ed" filter="url(#b1_0)" opacity="0.855"/>
<path d="M45.5,22.2 C55.5,22.3 70.0,22.4 84,22.5" fill="none" stroke="#badde7" stroke-width="2" stroke-linecap="round" filter="url(#b1_0)" opacity="0.72"/>
<ellipse cx="28.00" cy="20.00" rx="9.00" ry="10.50" fill="#cee6ec" filter="url(#b1_3)" opacity="0.95"/>
<rect x="21.95" y="11.45" width="3.90" height="1.50" fill="#000"/>
<rect x="21.45" y="12.95" width="3.70" height="16.10" fill="#000" transform="rotate(2 23.30 21.00)"/>
<rect x="19.10" y="23.55" width="2.00" height="5.30" fill="#000"/>
<rect x="18.95" y="11.65" width="1.30" height="1.30" fill="#000"/>
<rect x="29.30" y="12.45" width="1.80" height="2.10" fill="#000"/>
<rect x="33.65" y="13.75" width="1.50" height="1.50" fill="#000"/>
<rect x="26.60" y="15.80" width="2.00" height="2.00" fill="#000"/>
<rect x="31.35" y="16.30" width="2.30" height="2.80" fill="#000"/>
<rect x="29.40" y="21.15" width="1.60" height="1.70" fill="#000"/>
<rect x="29.60" y="23.40" width="1.80" height="1.60" fill="#000"/>
<rect x="26.95" y="26.60" width="1.90" height="1.80" fill="#000"/>
<rect x="29.55" y="26.60" width="1.90" height="1.80" fill="#000"/>
<rect x="32.05" y="26.30" width="2.10" height="1.80" fill="#000"/>
<rect x="34.50" y="26.30" width="1.80" height="1.80" fill="#000"/>
<rect x="0.4" y="0.4" width="83.30" height="40.40" fill="none" stroke="#6f89da" stroke-width="0.8" opacity="0.7"/>
</g>
<rect x="458.60" y="159.50" width="93.30" height="45.40" fill="none" stroke="#3a3a3a" stroke-width="0.8"/>
<line x1="456.60" y1="162.90" x2="458.60" y2="162.90" stroke="#333" stroke-width="0.8"/>
<line x1="456.60" y1="181.90" x2="458.60" y2="181.90" stroke="#333" stroke-width="0.8"/>
<line x1="456.60" y1="200.90" x2="458.60" y2="200.90" stroke="#333" stroke-width="0.8"/>
<line x1="490.00" y1="204.90" x2="490.00" y2="206.90" stroke="#333" stroke-width="0.8"/>
<line x1="537.80" y1="204.90" x2="537.80" y2="206.90" stroke="#333" stroke-width="0.8"/>
<g transform="translate(463.00 217.25)" clip-path="url(#c33)">
<rect x="0" y="0" width="84.10" height="41.20" fill="url(#g34)"/>
<rect x="0" y="0" width="84.10" height="41.20" fill="#000" filter="url(#n34)"/>
<ellipse cx="62.00" cy="5.00" rx="30.00" ry="6.00" fill="#77a3e0" filter="url(#b4_0)" opacity="0.55"/>
<ellipse cx="62.00" cy="37.00" rx="30.00" ry="6.00" fill="#77a3e0" filter="url(#b4_0)" opacity="0.55"/>
<path d="M26,8.8 C38,8.8 48,11 60,13.5 S78,16 88,16.5" fill="none" stroke="#735dc6" stroke-width="4" stroke-linecap="round" filter="url(#b1_8)" opacity="0.255"/>
<path d="M18.6,14 C18.6,10.5 21,8.2 27,8.6" fill="none" stroke="#6a2f86" stroke-width="2.6" stroke-linecap="round" filter="url(#b0_9)" opacity="0.285"/>
<path d="M28,33.5 C40,32 55,29.5 88,27" fill="none" stroke="#7266cb" stroke-width="4" stroke-linecap="round" filter="url(#b1_8)" opacity="0.24"/>
<path d="M19.2,28 C19.5,32 22.5,34.8 28.5,34" fill="none" stroke="#6a2f86" stroke-width="2.6" stroke-linecap="round" filter="url(#b0_9)" opacity="0.285"/>
<path d="M20.3,11 C19.8,18 20,25 20.6,30" fill="none" stroke="#6d3694" stroke-width="1.5" stroke-linecap="round" filter="url(#b0_8)" opacity="0.21"/>
<ellipse cx="12.50" cy="22.00" rx="4.50" ry="7.00" fill="#99cae3" filter="url(#b2_0)" opacity="0.5"/>
<ellipse cx="15.20" cy="22.00" rx="2.20" ry="5.00" fill="#d3e9ed" filter="url(#b1_4)" opacity="0.95"/>
<path d="M35,14.5 L46.9,22 L35,29 Z" fill="#9dcde3" filter="url(#b1_5)" opacity="0.35"/>
<path d="M35,15 L46.9,22 M35,28.5 L46.9,22" fill="none" stroke="#cee6ec" stroke-width="1.5" stroke-linecap="round" filter="url(#b1_0)" opacity="0.45"/>
<ellipse cx="52.92" cy="22.20" rx="9.00" ry="1.70" fill="#d3e9ed" filter="url(#b1_0)" opacity="0.475"/>
<path d="M46.9,22.2 C56.9,22.3 75.0,22.4 89,22.5" fill="none" stroke="#badde7" stroke-width="2" stroke-linecap="round" filter="url(#b1_0)" opacity="0.4"/>
<ellipse cx="28.00" cy="20.00" rx="9.00" ry="10.50" fill="#cee6ec" filter="url(#b1_3)" opacity="0.95"/>
<rect x="21.95" y="11.45" width="3.90" height="1.50" fill="#000"/>
<rect x="21.45" y="12.95" width="3.70" height="16.10" fill="#000" transform="rotate(2 23.30 21.00)"/>
<rect x="19.10" y="23.55" width="2.00" height="5.30" fill="#000"/>
<rect x="18.95" y="11.65" width="1.30" height="1.30" fill="#000"/>
<rect x="29.30" y="12.45" width="1.80" height="2.10" fill="#000"/>
<rect x="33.65" y="13.75" width="1.50" height="1.50" fill="#000"/>
<rect x="26.60" y="15.80" width="2.00" height="2.00" fill="#000"/>
<rect x="31.35" y="16.30" width="2.30" height="2.80" fill="#000"/>
<rect x="29.40" y="21.15" width="1.60" height="1.70" fill="#000"/>
<rect x="29.60" y="23.40" width="1.80" height="1.60" fill="#000"/>
<rect x="26.95" y="26.60" width="1.90" height="1.80" fill="#000"/>
<rect x="29.55" y="26.60" width="1.90" height="1.80" fill="#000"/>
<rect x="32.05" y="26.30" width="2.10" height="1.80" fill="#000"/>
<rect x="34.50" y="26.30" width="1.80" height="1.80" fill="#000"/>
<rect x="0.4" y="0.4" width="83.30" height="40.40" fill="none" stroke="#7095de" stroke-width="0.8" opacity="0.7"/>
</g>
<rect x="458.60" y="215.25" width="93.30" height="45.40" fill="none" stroke="#3a3a3a" stroke-width="0.8"/>
<line x1="456.60" y1="218.65" x2="458.60" y2="218.65" stroke="#333" stroke-width="0.8"/>
<line x1="456.60" y1="237.65" x2="458.60" y2="237.65" stroke="#333" stroke-width="0.8"/>
<line x1="456.60" y1="256.65" x2="458.60" y2="256.65" stroke="#333" stroke-width="0.8"/>
<line x1="490.00" y1="260.65" x2="490.00" y2="262.65" stroke="#333" stroke-width="0.8"/>
<line x1="537.80" y1="260.65" x2="537.80" y2="262.65" stroke="#333" stroke-width="0.8"/>
<g transform="translate(463.00 273.00)" clip-path="url(#c34)">
<rect x="0" y="0" width="84.10" height="41.20" fill="url(#g35)"/>
<ellipse cx="62.00" cy="5.00" rx="30.00" ry="6.00" fill="#749ddf" filter="url(#b4_0)" opacity="0.55"/>
<ellipse cx="62.00" cy="37.00" rx="30.00" ry="6.00" fill="#749ddf" filter="url(#b4_0)" opacity="0.55"/>
<path d="M26,8.8 C38,8.8 48,11 60,13.5 S78,16 88,16.5" fill="none" stroke="#735dc6" stroke-width="4" stroke-linecap="round" filter="url(#b1_8)" opacity="0.255"/>
<path d="M18.6,14 C18.6,10.5 21,8.2 27,8.6" fill="none" stroke="#6a2f86" stroke-width="2.6" stroke-linecap="round" filter="url(#b0_9)" opacity="0.285"/>
<path d="M28,33.5 C40,32 55,29.5 88,27" fill="none" stroke="#7266cb" stroke-width="4" stroke-linecap="round" filter="url(#b1_8)" opacity="0.36"/>
<path d="M19.2,28 C19.5,32 22.5,34.8 28.5,34" fill="none" stroke="#6a2f86" stroke-width="2.6" stroke-linecap="round" filter="url(#b0_9)" opacity="0.4275"/>
<path d="M20.3,11 C19.8,18 20,25 20.6,30" fill="none" stroke="#6d3694" stroke-width="1.5" stroke-linecap="round" filter="url(#b0_8)" opacity="0.315"/>
<ellipse cx="12.50" cy="22.00" rx="4.50" ry="7.00" fill="#99cae3" filter="url(#b2_0)" opacity="0.5"/>
<ellipse cx="15.20" cy="22.00" rx="2.20" ry="5.00" fill="#d3e9ed" filter="url(#b1_4)" opacity="0.95"/>
<path d="M35,14.5 L51.1,22 L35,29 Z" fill="#9dcde3" filter="url(#b1_5)" opacity="0.7"/>
<path d="M35,15 L51.1,22 M35,28.5 L51.1,22" fill="none" stroke="#cee6ec" stroke-width="1.5" stroke-linecap="round" filter="url(#b1_0)" opacity="0.9"/>
<ellipse cx="57.12" cy="22.20" rx="9.00" ry="1.70" fill="#d3e9ed" filter="url(#b1_0)" opacity="0.95"/>
<path d="M51.1,22.2 C61.1,22.3 90.0,22.4 104,22.5" fill="none" stroke="#badde7" stroke-width="2" stroke-linecap="round" filter="url(#b1_0)" opacity="0.8"/>
<ellipse cx="28.00" cy="20.00" rx="9.00" ry="10.50" fill="#cee6ec" filter="url(#b1_3)" opacity="0.95"/>
<rect x="21.95" y="11.45" width="3.90" height="1.50" fill="#000"/>
<rect x="21.45" y="12.95" width="3.70" height="16.10" fill="#000" transform="rotate(2 23.30 21.00)"/>
<rect x="19.10" y="23.55" width="2.00" height="5.30" fill="#000"/>
<rect x="18.95" y="11.65" width="1.30" height="1.30" fill="#000"/>
<rect x="29.30" y="12.45" width="1.80" height="2.10" fill="#000"/>
<rect x="33.65" y="13.75" width="1.50" height="1.50" fill="#000"/>
<rect x="26.60" y="15.80" width="2.00" height="2.00" fill="#000"/>
<rect x="31.35" y="16.30" width="2.30" height="2.80" fill="#000"/>
<rect x="29.40" y="21.15" width="1.60" height="1.70" fill="#000"/>
<rect x="29.60" y="23.40" width="1.80" height="1.60" fill="#000"/>
<rect x="26.95" y="26.60" width="1.90" height="1.80" fill="#000"/>
<rect x="29.55" y="26.60" width="1.90" height="1.80" fill="#000"/>
<rect x="32.05" y="26.30" width="2.10" height="1.80" fill="#000"/>
<rect x="34.50" y="26.30" width="1.80" height="1.80" fill="#000"/>
<rect x="0.4" y="0.4" width="83.30" height="40.40" fill="none" stroke="#6e8edd" stroke-width="0.8" opacity="0.7"/>
</g>
<rect x="458.60" y="271.00" width="93.30" height="45.40" fill="none" stroke="#3a3a3a" stroke-width="0.8"/>
<line x1="456.60" y1="274.40" x2="458.60" y2="274.40" stroke="#333" stroke-width="0.8"/>
<line x1="456.60" y1="293.40" x2="458.60" y2="293.40" stroke="#333" stroke-width="0.8"/>
<line x1="456.60" y1="312.40" x2="458.60" y2="312.40" stroke="#333" stroke-width="0.8"/>
<line x1="490.00" y1="316.40" x2="490.00" y2="318.40" stroke="#333" stroke-width="0.8"/>
<line x1="537.80" y1="316.40" x2="537.80" y2="318.40" stroke="#333" stroke-width="0.8"/>
<g transform="translate(463.00 328.75)" clip-path="url(#c35)">
<rect x="0" y="0" width="84.10" height="41.20" fill="url(#g36)"/>
<rect x="0" y="0" width="84.10" height="41.20" fill="#000" filter="url(#n36)"/>
<ellipse cx="62.00" cy="5.00" rx="30.00" ry="6.00" fill="#759fdf" filter="url(#b4_0)" opacity="0.55"/>
<ellipse cx="62.00" cy="37.00" rx="30.00" ry="6.00" fill="#759fdf" filter="url(#b4_0)" opacity="0.55"/>
<path d="M26,8.8 C38,8.8 48,11 60,13.5 S78,16 88,16.5" fill="none" stroke="#735dc6" stroke-width="4" stroke-linecap="round" filter="url(#b1_8)" opacity="0.17"/>
<path d="M18.6,14 C18.6,10.5 21,8.2 27,8.6" fill="none" stroke="#6a2f86" stroke-width="2.6" stroke-linecap="round" filter="url(#b0_9)" opacity="0.19"/>
<path d="M28,33.5 C40,32 55,29.5 88,27" fill="none" stroke="#7266cb" stroke-width="4" stroke-linecap="round" filter="url(#b1_8)" opacity="0.16"/>
<path d="M19.2,28 C19.5,32 22.5,34.8 28.5,34" fill="none" stroke="#6a2f86" stroke-width="2.6" stroke-linecap="round" filter="url(#b0_9)" opacity="0.19"/>
<path d="M20.3,11 C19.8,18 20,25 20.6,30" fill="none" stroke="#6d3694" stroke-width="1.5" stroke-linecap="round" filter="url(#b0_8)" opacity="0.14"/>
<ellipse cx="12.50" cy="22.00" rx="4.50" ry="7.00" fill="#99cae3" filter="url(#b2_0)" opacity="0.5"/>
<ellipse cx="15.20" cy="22.00" rx="2.20" ry="5.00" fill="#d3e9ed" filter="url(#b1_4)" opacity="0.95"/>
<path d="M35,14.5 L42.2,22 L35,29 Z" fill="#9dcde3" filter="url(#b1_5)" opacity="0.42"/>
<path d="M35,15 L42.2,22 M35,28.5 L42.2,22" fill="none" stroke="#cee6ec" stroke-width="1.5" stroke-linecap="round" filter="url(#b1_0)" opacity="0.54"/>
<ellipse cx="48.16" cy="22.20" rx="9.00" ry="1.70" fill="#d3e9ed" filter="url(#b1_0)" opacity="0.57"/>
<path d="M42.2,22.2 C52.2,22.3 58.0,22.4 72,22.5" fill="none" stroke="#badde7" stroke-width="2" stroke-linecap="round" filter="url(#b1_0)" opacity="0.48"/>
<ellipse cx="28.00" cy="20.00" rx="9.00" ry="10.50" fill="#cee6ec" filter="url(#b1_3)" opacity="0.95"/>
<rect x="21.95" y="11.45" width="3.90" height="1.50" fill="#000"/>
<rect x="21.45" y="12.95" width="3.70" height="16.10" fill="#000" transform="rotate(2 23.30 21.00)"/>
<rect x="19.10" y="23.55" width="2.00" height="5.30" fill="#000"/>
<rect x="18.95" y="11.65" width="1.30" height="1.30" fill="#000"/>
<rect x="29.30" y="12.45" width="1.80" height="2.10" fill="#000"/>
<rect x="33.65" y="13.75" width="1.50" height="1.50" fill="#000"/>
<rect x="26.60" y="15.80" width="2.00" height="2.00" fill="#000"/>
<rect x="31.35" y="16.30" width="2.30" height="2.80" fill="#000"/>
<rect x="29.40" y="21.15" width="1.60" height="1.70" fill="#000"/>
<rect x="29.60" y="23.40" width="1.80" height="1.60" fill="#000"/>
<rect x="26.95" y="26.60" width="1.90" height="1.80" fill="#000"/>
<rect x="29.55" y="26.60" width="1.90" height="1.80" fill="#000"/>
<rect x="32.05" y="26.30" width="2.10" height="1.80" fill="#000"/>
<rect x="34.50" y="26.30" width="1.80" height="1.80" fill="#000"/>
<rect x="0.4" y="0.4" width="83.30" height="40.40" fill="none" stroke="#6e91de" stroke-width="0.8" opacity="0.7"/>
</g>
<rect x="458.60" y="326.75" width="93.30" height="45.40" fill="none" stroke="#3a3a3a" stroke-width="0.8"/>
<line x1="456.60" y1="330.15" x2="458.60" y2="330.15" stroke="#333" stroke-width="0.8"/>
<line x1="456.60" y1="349.15" x2="458.60" y2="349.15" stroke="#333" stroke-width="0.8"/>
<line x1="456.60" y1="368.15" x2="458.60" y2="368.15" stroke="#333" stroke-width="0.8"/>
<line x1="490.00" y1="372.15" x2="490.00" y2="374.15" stroke="#333" stroke-width="0.8"/>
<line x1="537.80" y1="372.15" x2="537.80" y2="374.15" stroke="#333" stroke-width="0.8"/>
<text x="490.30" y="383.5" class="k" text-anchor="middle">0 m</text>
<text x="538.10" y="383.5" class="k" text-anchor="middle">250 m</text>
<rect x="162.30" y="94.00" width="11.60" height="232.25" fill="url(#cbg)" stroke="#3a3a3a" stroke-width="0.8"/>
<line x1="173.90" y1="302.90" x2="176.50" y2="302.90" stroke="#333" stroke-width="0.8"/>
<text x="177.30" y="306.40" class="k">0.5</text>
<line x1="173.90" y1="275.57" x2="176.50" y2="275.57" stroke="#333" stroke-width="0.8"/>
<text x="177.30" y="279.07" class="k">1.0</text>
<line x1="173.90" y1="248.24" x2="176.50" y2="248.24" stroke="#333" stroke-width="0.8"/>
<text x="177.30" y="251.74" class="k">1.5</text>
<line x1="173.90" y1="220.91" x2="176.50" y2="220.91" stroke="#333" stroke-width="0.8"/>
<text x="177.30" y="224.41" class="k">2.0</text>
<line x1="173.90" y1="193.59" x2="176.50" y2="193.59" stroke="#333" stroke-width="0.8"/>
<text x="177.30" y="197.09" class="k">2.5</text>
<line x1="173.90" y1="166.26" x2="176.50" y2="166.26" stroke="#333" stroke-width="0.8"/>
<text x="177.30" y="169.76" class="k">3.0</text>
<line x1="173.90" y1="138.93" x2="176.50" y2="138.93" stroke="#333" stroke-width="0.8"/>
<text x="177.30" y="142.43" class="k">3.5</text>
<line x1="173.90" y1="111.60" x2="176.50" y2="111.60" stroke="#333" stroke-width="0.8"/>
<text x="177.30" y="115.10" class="k">4.0</text>
<rect x="293.70" y="94.00" width="11.60" height="232.25" fill="url(#cbg)" stroke="#3a3a3a" stroke-width="0.8"/>
<line x1="305.30" y1="293.60" x2="307.90" y2="293.60" stroke="#333" stroke-width="0.8"/>
<text x="308.70" y="297.10" class="k">0.5</text>
<line x1="305.30" y1="259.45" x2="307.90" y2="259.45" stroke="#333" stroke-width="0.8"/>
<text x="308.70" y="262.95" class="k">1.0</text>
<line x1="305.30" y1="225.30" x2="307.90" y2="225.30" stroke="#333" stroke-width="0.8"/>
<text x="308.70" y="228.80" class="k">1.5</text>
<line x1="305.30" y1="191.15" x2="307.90" y2="191.15" stroke="#333" stroke-width="0.8"/>
<text x="308.70" y="194.65" class="k">2.0</text>
<line x1="305.30" y1="157.00" x2="307.90" y2="157.00" stroke="#333" stroke-width="0.8"/>
<text x="308.70" y="160.50" class="k">2.5</text>
<line x1="305.30" y1="122.85" x2="307.90" y2="122.85" stroke="#333" stroke-width="0.8"/>
<text x="308.70" y="126.35" class="k">3.0</text>
<rect x="425.10" y="94.00" width="11.60" height="232.25" fill="url(#cbg)" stroke="#3a3a3a" stroke-width="0.8"/>
<line x1="436.70" y1="285.50" x2="439.30" y2="285.50" stroke="#333" stroke-width="0.8"/>
<text x="440.10" y="289.00" class="k">0.2</text>
<line x1="436.70" y1="242.20" x2="439.30" y2="242.20" stroke="#333" stroke-width="0.8"/>
<text x="440.10" y="245.70" class="k">0.4</text>
<line x1="436.70" y1="198.90" x2="439.30" y2="198.90" stroke="#333" stroke-width="0.8"/>
<text x="440.10" y="202.40" class="k">0.6</text>
<line x1="436.70" y1="155.60" x2="439.30" y2="155.60" stroke="#333" stroke-width="0.8"/>
<text x="440.10" y="159.10" class="k">0.8</text>
<line x1="436.70" y1="112.30" x2="439.30" y2="112.30" stroke="#333" stroke-width="0.8"/>
<text x="440.10" y="115.80" class="k">1.0</text>
<rect x="556.50" y="94.00" width="11.60" height="232.25" fill="url(#cbg)" stroke="#3a3a3a" stroke-width="0.8"/>
<line x1="568.10" y1="283.90" x2="570.70" y2="283.90" stroke="#333" stroke-width="0.8"/>
<text x="571.50" y="287.40" class="k">0.5</text>
<line x1="568.10" y1="240.00" x2="570.70" y2="240.00" stroke="#333" stroke-width="0.8"/>
<text x="571.50" y="243.50" class="k">1.0</text>
<line x1="568.10" y1="196.10" x2="570.70" y2="196.10" stroke="#333" stroke-width="0.8"/>
<text x="571.50" y="199.60" class="k">1.5</text>
<line x1="568.10" y1="152.20" x2="570.70" y2="152.20" stroke="#333" stroke-width="0.8"/>
<text x="571.50" y="155.70" class="k">2.0</text>
<line x1="568.10" y1="108.30" x2="570.70" y2="108.30" stroke="#333" stroke-width="0.8"/>
<text x="571.50" y="111.80" class="k">2.5</text>
<text transform="translate(11.0 70.70) rotate(-90)" class="r" text-anchor="middle">CFD</text>
<text transform="translate(22.2 70.70) rotate(-90)" class="r" text-anchor="middle">ground truth</text>
<text transform="translate(11.0 126.45) rotate(-90)" class="r" text-anchor="middle">AB-SWIFT</text>
<text transform="translate(22.2 126.45) rotate(-90)" class="r" text-anchor="middle">(ours)</text>
<text transform="translate(22.2 182.20) rotate(-90)" class="r" text-anchor="middle">AB-UPT</text>
<text transform="translate(22.2 237.95) rotate(-90)" class="r" text-anchor="middle">GAOT</text>
<text transform="translate(22.2 293.70) rotate(-90)" class="r" text-anchor="middle">Transolver</text>
<text transform="translate(22.2 349.45) rotate(-90)" class="r" text-anchor="middle">BSMGN</text>
<text transform="translate(596.6 210.0) rotate(-90)" class="r" style="font-size:12.1px" text-anchor="middle">Velocity norm ∥v∥ (m · s<tspan font-size="7.8" dy="-4">−1</tspan><tspan dy="4">)</tspan></text></svg>
</body></html>
